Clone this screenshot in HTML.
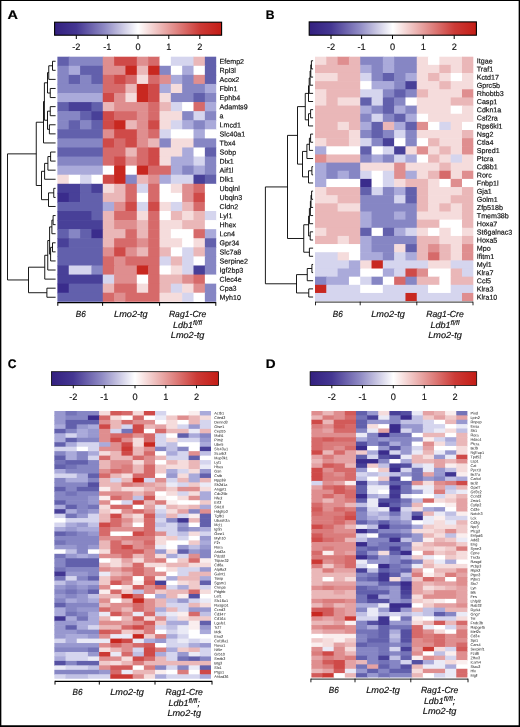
<!DOCTYPE html>
<html lang="en">
<head>
<meta charset="utf-8">
<title>Heatmaps</title>
<style>
html,body{margin:0;padding:0;background:#fff;}
body{width:520px;height:727px;overflow:hidden;font-family:"Liberation Sans",sans-serif;}
svg{display:block;}
</style>
</head>
<body>
<svg width="520" height="727" viewBox="0 0 520 727" font-family='"Liberation Sans", sans-serif' text-rendering="geometricPrecision">
<defs>
<linearGradient id="cb" x1="0" x2="1" y1="0" y2="0">
<stop offset="0" stop-color="#33207f"/>
<stop offset="0.13" stop-color="#443692"/>
<stop offset="0.3" stop-color="#8f8ac4"/>
<stop offset="0.5" stop-color="#ffffff"/>
<stop offset="0.87" stop-color="#cc3a36"/>
<stop offset="1" stop-color="#c41d16"/>
</linearGradient>
</defs>
<rect x="0" y="0" width="520" height="727" fill="#fff"/>
<text transform="translate(7.5 19) scale(1.16 1)" x="0" y="0" font-size="12.4" font-weight="bold" fill="#000" stroke="#000" stroke-width="0.2">A</text>
<rect x="54.6" y="22.2" width="167.0" height="13.000000000000004" fill="url(#cb)" stroke="#000" stroke-width="1.1"/>
<line x1="76.3" y1="35.2" x2="76.3" y2="39.0" stroke="#000" stroke-width="1"/>
<text x="76.3" y="50.0" font-size="9.2" text-anchor="middle" fill="#111" stroke="#111" stroke-width="0.15">-2</text>
<line x1="107.4" y1="35.2" x2="107.4" y2="39.0" stroke="#000" stroke-width="1"/>
<text x="107.4" y="50.0" font-size="9.2" text-anchor="middle" fill="#111" stroke="#111" stroke-width="0.15">-1</text>
<line x1="138" y1="35.2" x2="138" y2="39.0" stroke="#000" stroke-width="1"/>
<text x="138" y="50.0" font-size="9.2" text-anchor="middle" fill="#111" stroke="#111" stroke-width="0.15">0</text>
<line x1="168.8" y1="35.2" x2="168.8" y2="39.0" stroke="#000" stroke-width="1"/>
<text x="168.8" y="50.0" font-size="9.2" text-anchor="middle" fill="#111" stroke="#111" stroke-width="0.15">1</text>
<line x1="199.8" y1="35.2" x2="199.8" y2="39.0" stroke="#000" stroke-width="1"/>
<text x="199.8" y="50.0" font-size="9.2" text-anchor="middle" fill="#111" stroke="#111" stroke-width="0.15">2</text>
<g>
<rect x="57.40" y="56.70" width="11.94" height="9.68" fill="#6260ac"/>
<rect x="68.74" y="56.70" width="34.63" height="9.68" fill="#8686c4"/>
<rect x="102.77" y="56.70" width="11.94" height="9.68" fill="#df8e8f"/>
<rect x="114.11" y="56.70" width="23.29" height="9.68" fill="#cf4a48"/>
<rect x="136.80" y="56.70" width="11.94" height="9.68" fill="#df8e8f"/>
<rect x="148.14" y="56.70" width="11.94" height="9.68" fill="#d66a6a"/>
<rect x="159.49" y="56.70" width="11.94" height="9.68" fill="#ffffff"/>
<rect x="170.83" y="56.70" width="23.29" height="9.68" fill="#d5d5ee"/>
<rect x="193.51" y="56.70" width="11.94" height="9.68" fill="#eab7b8"/>
<rect x="204.86" y="56.70" width="11.34" height="9.68" fill="#6260ac"/>
<rect x="57.40" y="65.78" width="11.94" height="9.68" fill="#8686c4"/>
<rect x="68.74" y="65.78" width="11.94" height="9.68" fill="#aaaada"/>
<rect x="80.09" y="65.78" width="23.29" height="9.68" fill="#6260ac"/>
<rect x="102.77" y="65.78" width="23.29" height="9.68" fill="#df8e8f"/>
<rect x="125.46" y="65.78" width="11.94" height="9.68" fill="#c82820"/>
<rect x="136.80" y="65.78" width="11.94" height="9.68" fill="#eab7b8"/>
<rect x="148.14" y="65.78" width="11.94" height="9.68" fill="#c82820"/>
<rect x="159.49" y="65.78" width="11.94" height="9.68" fill="#8686c4"/>
<rect x="170.83" y="65.78" width="11.94" height="9.68" fill="#ffffff"/>
<rect x="182.17" y="65.78" width="11.94" height="9.68" fill="#aaaada"/>
<rect x="193.51" y="65.78" width="11.94" height="9.68" fill="#ffffff"/>
<rect x="204.86" y="65.78" width="11.34" height="9.68" fill="#6260ac"/>
<rect x="57.40" y="74.86" width="11.94" height="9.68" fill="#8686c4"/>
<rect x="68.74" y="74.86" width="11.94" height="9.68" fill="#6260ac"/>
<rect x="80.09" y="74.86" width="11.94" height="9.68" fill="#8686c4"/>
<rect x="91.43" y="74.86" width="11.94" height="9.68" fill="#6260ac"/>
<rect x="102.77" y="74.86" width="11.94" height="9.68" fill="#d66a6a"/>
<rect x="114.11" y="74.86" width="11.94" height="9.68" fill="#cf4a48"/>
<rect x="125.46" y="74.86" width="11.94" height="9.68" fill="#d66a6a"/>
<rect x="136.80" y="74.86" width="11.94" height="9.68" fill="#f5dcdc"/>
<rect x="148.14" y="74.86" width="11.94" height="9.68" fill="#d66a6a"/>
<rect x="159.49" y="74.86" width="11.94" height="9.68" fill="#df8e8f"/>
<rect x="170.83" y="74.86" width="11.94" height="9.68" fill="#aaaada"/>
<rect x="182.17" y="74.86" width="11.94" height="9.68" fill="#8686c4"/>
<rect x="193.51" y="74.86" width="11.94" height="9.68" fill="#df8e8f"/>
<rect x="204.86" y="74.86" width="11.34" height="9.68" fill="#6260ac"/>
<rect x="57.40" y="83.93" width="45.97" height="9.68" fill="#8686c4"/>
<rect x="102.77" y="83.93" width="23.29" height="9.68" fill="#d66a6a"/>
<rect x="125.46" y="83.93" width="11.94" height="9.68" fill="#eab7b8"/>
<rect x="136.80" y="83.93" width="11.94" height="9.68" fill="#c82820"/>
<rect x="148.14" y="83.93" width="11.94" height="9.68" fill="#cf4a48"/>
<rect x="159.49" y="83.93" width="11.94" height="9.68" fill="#aaaada"/>
<rect x="170.83" y="83.93" width="11.94" height="9.68" fill="#f5dcdc"/>
<rect x="182.17" y="83.93" width="23.29" height="9.68" fill="#8686c4"/>
<rect x="204.86" y="83.93" width="11.34" height="9.68" fill="#aaaada"/>
<rect x="57.40" y="93.01" width="45.97" height="9.68" fill="#aaaada"/>
<rect x="102.77" y="93.01" width="11.94" height="9.68" fill="#cf4a48"/>
<rect x="114.11" y="93.01" width="11.94" height="9.68" fill="#df8e8f"/>
<rect x="125.46" y="93.01" width="11.94" height="9.68" fill="#f5dcdc"/>
<rect x="136.80" y="93.01" width="11.94" height="9.68" fill="#c82820"/>
<rect x="148.14" y="93.01" width="11.94" height="9.68" fill="#cf4a48"/>
<rect x="159.49" y="93.01" width="11.94" height="9.68" fill="#f5dcdc"/>
<rect x="170.83" y="93.01" width="23.29" height="9.68" fill="#8686c4"/>
<rect x="193.51" y="93.01" width="11.94" height="9.68" fill="#6260ac"/>
<rect x="204.86" y="93.01" width="11.34" height="9.68" fill="#8686c4"/>
<rect x="57.40" y="102.09" width="11.94" height="9.68" fill="#6260ac"/>
<rect x="68.74" y="102.09" width="23.29" height="9.68" fill="#484098"/>
<rect x="91.43" y="102.09" width="11.94" height="9.68" fill="#6260ac"/>
<rect x="102.77" y="102.09" width="11.94" height="9.68" fill="#eab7b8"/>
<rect x="114.11" y="102.09" width="34.63" height="9.68" fill="#df8e8f"/>
<rect x="148.14" y="102.09" width="11.94" height="9.68" fill="#d66a6a"/>
<rect x="159.49" y="102.09" width="11.94" height="9.68" fill="#eab7b8"/>
<rect x="170.83" y="102.09" width="11.94" height="9.68" fill="#d5d5ee"/>
<rect x="182.17" y="102.09" width="11.94" height="9.68" fill="#ffffff"/>
<rect x="193.51" y="102.09" width="11.94" height="9.68" fill="#d66a6a"/>
<rect x="204.86" y="102.09" width="11.34" height="9.68" fill="#aaaada"/>
<rect x="57.40" y="111.17" width="23.29" height="9.68" fill="#8686c4"/>
<rect x="80.09" y="111.17" width="11.94" height="9.68" fill="#6260ac"/>
<rect x="91.43" y="111.17" width="11.94" height="9.68" fill="#484098"/>
<rect x="102.77" y="111.17" width="11.94" height="9.68" fill="#cf4a48"/>
<rect x="114.11" y="111.17" width="23.29" height="9.68" fill="#d66a6a"/>
<rect x="136.80" y="111.17" width="11.94" height="9.68" fill="#df8e8f"/>
<rect x="148.14" y="111.17" width="11.94" height="9.68" fill="#d66a6a"/>
<rect x="159.49" y="111.17" width="23.29" height="9.68" fill="#f5dcdc"/>
<rect x="182.17" y="111.17" width="11.94" height="9.68" fill="#8686c4"/>
<rect x="193.51" y="111.17" width="11.94" height="9.68" fill="#d5d5ee"/>
<rect x="204.86" y="111.17" width="11.34" height="9.68" fill="#8686c4"/>
<rect x="57.40" y="120.24" width="11.94" height="9.68" fill="#8686c4"/>
<rect x="68.74" y="120.24" width="11.94" height="9.68" fill="#6260ac"/>
<rect x="80.09" y="120.24" width="11.94" height="9.68" fill="#8686c4"/>
<rect x="91.43" y="120.24" width="11.94" height="9.68" fill="#6260ac"/>
<rect x="102.77" y="120.24" width="11.94" height="9.68" fill="#cf4a48"/>
<rect x="114.11" y="120.24" width="11.94" height="9.68" fill="#c82820"/>
<rect x="125.46" y="120.24" width="11.94" height="9.68" fill="#eab7b8"/>
<rect x="136.80" y="120.24" width="11.94" height="9.68" fill="#df8e8f"/>
<rect x="148.14" y="120.24" width="11.94" height="9.68" fill="#cf4a48"/>
<rect x="159.49" y="120.24" width="11.94" height="9.68" fill="#f5dcdc"/>
<rect x="170.83" y="120.24" width="11.94" height="9.68" fill="#d5d5ee"/>
<rect x="182.17" y="120.24" width="11.94" height="9.68" fill="#aaaada"/>
<rect x="193.51" y="120.24" width="11.94" height="9.68" fill="#8686c4"/>
<rect x="204.86" y="120.24" width="11.34" height="9.68" fill="#aaaada"/>
<rect x="57.40" y="129.32" width="45.97" height="9.68" fill="#6260ac"/>
<rect x="102.77" y="129.32" width="11.94" height="9.68" fill="#df8e8f"/>
<rect x="114.11" y="129.32" width="23.29" height="9.68" fill="#cf4a48"/>
<rect x="136.80" y="129.32" width="11.94" height="9.68" fill="#df8e8f"/>
<rect x="148.14" y="129.32" width="11.94" height="9.68" fill="#d66a6a"/>
<rect x="159.49" y="129.32" width="11.94" height="9.68" fill="#d5d5ee"/>
<rect x="170.83" y="129.32" width="23.29" height="9.68" fill="#ffffff"/>
<rect x="193.51" y="129.32" width="11.94" height="9.68" fill="#aaaada"/>
<rect x="204.86" y="129.32" width="11.34" height="9.68" fill="#ffffff"/>
<rect x="57.40" y="138.40" width="45.97" height="9.68" fill="#8686c4"/>
<rect x="102.77" y="138.40" width="11.94" height="9.68" fill="#cf4a48"/>
<rect x="114.11" y="138.40" width="11.94" height="9.68" fill="#d66a6a"/>
<rect x="125.46" y="138.40" width="11.94" height="9.68" fill="#cf4a48"/>
<rect x="136.80" y="138.40" width="11.94" height="9.68" fill="#df8e8f"/>
<rect x="148.14" y="138.40" width="11.94" height="9.68" fill="#eab7b8"/>
<rect x="159.49" y="138.40" width="11.94" height="9.68" fill="#8686c4"/>
<rect x="170.83" y="138.40" width="23.29" height="9.68" fill="#f5dcdc"/>
<rect x="193.51" y="138.40" width="22.69" height="9.68" fill="#8686c4"/>
<rect x="57.40" y="147.48" width="45.97" height="9.68" fill="#6260ac"/>
<rect x="102.77" y="147.48" width="23.29" height="9.68" fill="#d66a6a"/>
<rect x="125.46" y="147.48" width="11.94" height="9.68" fill="#eab7b8"/>
<rect x="136.80" y="147.48" width="11.94" height="9.68" fill="#d66a6a"/>
<rect x="148.14" y="147.48" width="11.94" height="9.68" fill="#cf4a48"/>
<rect x="159.49" y="147.48" width="23.29" height="9.68" fill="#f5dcdc"/>
<rect x="182.17" y="147.48" width="11.94" height="9.68" fill="#aaaada"/>
<rect x="193.51" y="147.48" width="11.94" height="9.68" fill="#ffffff"/>
<rect x="204.86" y="147.48" width="11.34" height="9.68" fill="#6260ac"/>
<rect x="57.40" y="156.56" width="45.97" height="9.68" fill="#8686c4"/>
<rect x="102.77" y="156.56" width="11.94" height="9.68" fill="#d66a6a"/>
<rect x="114.11" y="156.56" width="11.94" height="9.68" fill="#cf4a48"/>
<rect x="125.46" y="156.56" width="11.94" height="9.68" fill="#df8e8f"/>
<rect x="136.80" y="156.56" width="11.94" height="9.68" fill="#d66a6a"/>
<rect x="148.14" y="156.56" width="11.94" height="9.68" fill="#cf4a48"/>
<rect x="159.49" y="156.56" width="11.94" height="9.68" fill="#f5dcdc"/>
<rect x="170.83" y="156.56" width="23.29" height="9.68" fill="#aaaada"/>
<rect x="193.51" y="156.56" width="11.94" height="9.68" fill="#d5d5ee"/>
<rect x="204.86" y="156.56" width="11.34" height="9.68" fill="#8686c4"/>
<rect x="57.40" y="165.63" width="45.97" height="9.68" fill="#aaaada"/>
<rect x="102.77" y="165.63" width="11.94" height="9.68" fill="#ffffff"/>
<rect x="114.11" y="165.63" width="11.94" height="9.68" fill="#c82820"/>
<rect x="125.46" y="165.63" width="11.94" height="9.68" fill="#ffffff"/>
<rect x="136.80" y="165.63" width="11.94" height="9.68" fill="#c82820"/>
<rect x="148.14" y="165.63" width="23.29" height="9.68" fill="#d66a6a"/>
<rect x="170.83" y="165.63" width="11.94" height="9.68" fill="#aaaada"/>
<rect x="182.17" y="165.63" width="11.94" height="9.68" fill="#8686c4"/>
<rect x="193.51" y="165.63" width="11.94" height="9.68" fill="#aaaada"/>
<rect x="204.86" y="165.63" width="11.34" height="9.68" fill="#8686c4"/>
<rect x="57.40" y="174.71" width="11.94" height="9.68" fill="#f5dcdc"/>
<rect x="68.74" y="174.71" width="11.94" height="9.68" fill="#ffffff"/>
<rect x="80.09" y="174.71" width="11.94" height="9.68" fill="#d5d5ee"/>
<rect x="91.43" y="174.71" width="11.94" height="9.68" fill="#ffffff"/>
<rect x="102.77" y="174.71" width="11.94" height="9.68" fill="#cf4a48"/>
<rect x="114.11" y="174.71" width="11.94" height="9.68" fill="#c82820"/>
<rect x="125.46" y="174.71" width="11.94" height="9.68" fill="#8686c4"/>
<rect x="136.80" y="174.71" width="11.94" height="9.68" fill="#eab7b8"/>
<rect x="148.14" y="174.71" width="11.94" height="9.68" fill="#df8e8f"/>
<rect x="159.49" y="174.71" width="11.94" height="9.68" fill="#aaaada"/>
<rect x="170.83" y="174.71" width="23.29" height="9.68" fill="#d5d5ee"/>
<rect x="193.51" y="174.71" width="11.94" height="9.68" fill="#484098"/>
<rect x="204.86" y="174.71" width="11.34" height="9.68" fill="#6260ac"/>
<rect x="57.40" y="183.79" width="23.29" height="9.68" fill="#484098"/>
<rect x="80.09" y="183.79" width="11.94" height="9.68" fill="#6260ac"/>
<rect x="91.43" y="183.79" width="11.94" height="9.68" fill="#484098"/>
<rect x="102.77" y="183.79" width="11.94" height="9.68" fill="#f5dcdc"/>
<rect x="114.11" y="183.79" width="11.94" height="9.68" fill="#eab7b8"/>
<rect x="125.46" y="183.79" width="11.94" height="9.68" fill="#d66a6a"/>
<rect x="136.80" y="183.79" width="11.94" height="9.68" fill="#d5d5ee"/>
<rect x="148.14" y="183.79" width="11.94" height="9.68" fill="#d66a6a"/>
<rect x="159.49" y="183.79" width="11.94" height="9.68" fill="#ffffff"/>
<rect x="170.83" y="183.79" width="11.94" height="9.68" fill="#f5dcdc"/>
<rect x="182.17" y="183.79" width="11.94" height="9.68" fill="#df8e8f"/>
<rect x="193.51" y="183.79" width="11.94" height="9.68" fill="#d66a6a"/>
<rect x="204.86" y="183.79" width="11.34" height="9.68" fill="#ffffff"/>
<rect x="57.40" y="192.87" width="11.94" height="9.68" fill="#3a2c8c"/>
<rect x="68.74" y="192.87" width="11.94" height="9.68" fill="#484098"/>
<rect x="80.09" y="192.87" width="23.29" height="9.68" fill="#6260ac"/>
<rect x="102.77" y="192.87" width="23.29" height="9.68" fill="#eab7b8"/>
<rect x="125.46" y="192.87" width="11.94" height="9.68" fill="#d66a6a"/>
<rect x="136.80" y="192.87" width="11.94" height="9.68" fill="#ffffff"/>
<rect x="148.14" y="192.87" width="11.94" height="9.68" fill="#d66a6a"/>
<rect x="159.49" y="192.87" width="23.29" height="9.68" fill="#ffffff"/>
<rect x="182.17" y="192.87" width="11.94" height="9.68" fill="#df8e8f"/>
<rect x="193.51" y="192.87" width="11.94" height="9.68" fill="#cf4a48"/>
<rect x="204.86" y="192.87" width="11.34" height="9.68" fill="#ffffff"/>
<rect x="57.40" y="201.94" width="45.97" height="9.68" fill="#6260ac"/>
<rect x="102.77" y="201.94" width="11.94" height="9.68" fill="#aaaada"/>
<rect x="114.11" y="201.94" width="11.94" height="9.68" fill="#df8e8f"/>
<rect x="125.46" y="201.94" width="11.94" height="9.68" fill="#cf4a48"/>
<rect x="136.80" y="201.94" width="11.94" height="9.68" fill="#d5d5ee"/>
<rect x="148.14" y="201.94" width="11.94" height="9.68" fill="#cf4a48"/>
<rect x="159.49" y="201.94" width="11.94" height="9.68" fill="#f5dcdc"/>
<rect x="170.83" y="201.94" width="11.94" height="9.68" fill="#d5d5ee"/>
<rect x="182.17" y="201.94" width="11.94" height="9.68" fill="#eab7b8"/>
<rect x="193.51" y="201.94" width="11.94" height="9.68" fill="#d66a6a"/>
<rect x="204.86" y="201.94" width="11.34" height="9.68" fill="#ffffff"/>
<rect x="57.40" y="211.02" width="34.63" height="9.68" fill="#484098"/>
<rect x="91.43" y="211.02" width="11.94" height="9.68" fill="#6260ac"/>
<rect x="102.77" y="211.02" width="11.94" height="9.68" fill="#eab7b8"/>
<rect x="114.11" y="211.02" width="23.29" height="9.68" fill="#d66a6a"/>
<rect x="136.80" y="211.02" width="11.94" height="9.68" fill="#f5dcdc"/>
<rect x="148.14" y="211.02" width="11.94" height="9.68" fill="#d66a6a"/>
<rect x="159.49" y="211.02" width="11.94" height="9.68" fill="#ffffff"/>
<rect x="170.83" y="211.02" width="11.94" height="9.68" fill="#eab7b8"/>
<rect x="182.17" y="211.02" width="11.94" height="9.68" fill="#f5dcdc"/>
<rect x="193.51" y="211.02" width="11.94" height="9.68" fill="#eab7b8"/>
<rect x="204.86" y="211.02" width="11.34" height="9.68" fill="#d5d5ee"/>
<rect x="57.40" y="220.10" width="45.97" height="9.68" fill="#484098"/>
<rect x="102.77" y="220.10" width="11.94" height="9.68" fill="#eab7b8"/>
<rect x="114.11" y="220.10" width="23.29" height="9.68" fill="#df8e8f"/>
<rect x="136.80" y="220.10" width="11.94" height="9.68" fill="#eab7b8"/>
<rect x="148.14" y="220.10" width="11.94" height="9.68" fill="#d66a6a"/>
<rect x="159.49" y="220.10" width="23.29" height="9.68" fill="#f5dcdc"/>
<rect x="182.17" y="220.10" width="23.29" height="9.68" fill="#eab7b8"/>
<rect x="204.86" y="220.10" width="11.34" height="9.68" fill="#ffffff"/>
<rect x="57.40" y="229.18" width="11.94" height="9.68" fill="#6260ac"/>
<rect x="68.74" y="229.18" width="11.94" height="9.68" fill="#8686c4"/>
<rect x="80.09" y="229.18" width="11.94" height="9.68" fill="#6260ac"/>
<rect x="91.43" y="229.18" width="11.94" height="9.68" fill="#3a2c8c"/>
<rect x="102.77" y="229.18" width="23.29" height="9.68" fill="#eab7b8"/>
<rect x="125.46" y="229.18" width="11.94" height="9.68" fill="#d66a6a"/>
<rect x="136.80" y="229.18" width="11.94" height="9.68" fill="#eab7b8"/>
<rect x="148.14" y="229.18" width="11.94" height="9.68" fill="#d66a6a"/>
<rect x="159.49" y="229.18" width="11.94" height="9.68" fill="#f5dcdc"/>
<rect x="170.83" y="229.18" width="23.29" height="9.68" fill="#ffffff"/>
<rect x="193.51" y="229.18" width="11.94" height="9.68" fill="#d66a6a"/>
<rect x="204.86" y="229.18" width="11.34" height="9.68" fill="#aaaada"/>
<rect x="57.40" y="238.26" width="11.94" height="9.68" fill="#484098"/>
<rect x="68.74" y="238.26" width="34.63" height="9.68" fill="#6260ac"/>
<rect x="102.77" y="238.26" width="11.94" height="9.68" fill="#eab7b8"/>
<rect x="114.11" y="238.26" width="23.29" height="9.68" fill="#d66a6a"/>
<rect x="136.80" y="238.26" width="11.94" height="9.68" fill="#df8e8f"/>
<rect x="148.14" y="238.26" width="11.94" height="9.68" fill="#d66a6a"/>
<rect x="159.49" y="238.26" width="23.29" height="9.68" fill="#f5dcdc"/>
<rect x="182.17" y="238.26" width="11.94" height="9.68" fill="#ffffff"/>
<rect x="193.51" y="238.26" width="11.94" height="9.68" fill="#f5dcdc"/>
<rect x="204.86" y="238.26" width="11.34" height="9.68" fill="#6260ac"/>
<rect x="57.40" y="247.33" width="45.97" height="9.68" fill="#6260ac"/>
<rect x="102.77" y="247.33" width="11.94" height="9.68" fill="#df8e8f"/>
<rect x="114.11" y="247.33" width="11.94" height="9.68" fill="#cf4a48"/>
<rect x="125.46" y="247.33" width="11.94" height="9.68" fill="#df8e8f"/>
<rect x="136.80" y="247.33" width="11.94" height="9.68" fill="#eab7b8"/>
<rect x="148.14" y="247.33" width="11.94" height="9.68" fill="#d66a6a"/>
<rect x="159.49" y="247.33" width="11.94" height="9.68" fill="#eab7b8"/>
<rect x="170.83" y="247.33" width="11.94" height="9.68" fill="#ffffff"/>
<rect x="182.17" y="247.33" width="11.94" height="9.68" fill="#d5d5ee"/>
<rect x="193.51" y="247.33" width="11.94" height="9.68" fill="#eab7b8"/>
<rect x="204.86" y="247.33" width="11.34" height="9.68" fill="#8686c4"/>
<rect x="57.40" y="256.41" width="45.97" height="9.68" fill="#6260ac"/>
<rect x="102.77" y="256.41" width="11.94" height="9.68" fill="#d66a6a"/>
<rect x="114.11" y="256.41" width="11.94" height="9.68" fill="#df8e8f"/>
<rect x="125.46" y="256.41" width="34.63" height="9.68" fill="#d66a6a"/>
<rect x="159.49" y="256.41" width="11.94" height="9.68" fill="#d5d5ee"/>
<rect x="170.83" y="256.41" width="11.94" height="9.68" fill="#eab7b8"/>
<rect x="182.17" y="256.41" width="11.94" height="9.68" fill="#d5d5ee"/>
<rect x="193.51" y="256.41" width="11.94" height="9.68" fill="#ffffff"/>
<rect x="204.86" y="256.41" width="11.34" height="9.68" fill="#8686c4"/>
<rect x="57.40" y="265.49" width="11.94" height="9.68" fill="#484098"/>
<rect x="68.74" y="265.49" width="23.29" height="9.68" fill="#d5d5ee"/>
<rect x="91.43" y="265.49" width="11.94" height="9.68" fill="#8686c4"/>
<rect x="102.77" y="265.49" width="11.94" height="9.68" fill="#d66a6a"/>
<rect x="114.11" y="265.49" width="23.29" height="9.68" fill="#df8e8f"/>
<rect x="136.80" y="265.49" width="11.94" height="9.68" fill="#c82820"/>
<rect x="148.14" y="265.49" width="11.94" height="9.68" fill="#d66a6a"/>
<rect x="159.49" y="265.49" width="11.94" height="9.68" fill="#ffffff"/>
<rect x="170.83" y="265.49" width="11.94" height="9.68" fill="#f5dcdc"/>
<rect x="182.17" y="265.49" width="11.94" height="9.68" fill="#d5d5ee"/>
<rect x="193.51" y="265.49" width="11.94" height="9.68" fill="#484098"/>
<rect x="204.86" y="265.49" width="11.34" height="9.68" fill="#8686c4"/>
<rect x="57.40" y="274.57" width="45.97" height="9.68" fill="#484098"/>
<rect x="102.77" y="274.57" width="11.94" height="9.68" fill="#d5d5ee"/>
<rect x="114.11" y="274.57" width="23.29" height="9.68" fill="#df8e8f"/>
<rect x="136.80" y="274.57" width="11.94" height="9.68" fill="#ffffff"/>
<rect x="148.14" y="274.57" width="11.94" height="9.68" fill="#d66a6a"/>
<rect x="159.49" y="274.57" width="23.29" height="9.68" fill="#eab7b8"/>
<rect x="182.17" y="274.57" width="11.94" height="9.68" fill="#df8e8f"/>
<rect x="193.51" y="274.57" width="11.94" height="9.68" fill="#d66a6a"/>
<rect x="204.86" y="274.57" width="11.34" height="9.68" fill="#ffffff"/>
<rect x="57.40" y="283.64" width="11.94" height="9.68" fill="#3a2c8c"/>
<rect x="68.74" y="283.64" width="34.63" height="9.68" fill="#6260ac"/>
<rect x="102.77" y="283.64" width="11.94" height="9.68" fill="#eab7b8"/>
<rect x="114.11" y="283.64" width="23.29" height="9.68" fill="#d66a6a"/>
<rect x="136.80" y="283.64" width="11.94" height="9.68" fill="#f5dcdc"/>
<rect x="148.14" y="283.64" width="11.94" height="9.68" fill="#d66a6a"/>
<rect x="159.49" y="283.64" width="11.94" height="9.68" fill="#eab7b8"/>
<rect x="170.83" y="283.64" width="11.94" height="9.68" fill="#d5d5ee"/>
<rect x="182.17" y="283.64" width="11.94" height="9.68" fill="#f5dcdc"/>
<rect x="193.51" y="283.64" width="11.94" height="9.68" fill="#df8e8f"/>
<rect x="204.86" y="283.64" width="11.34" height="9.68" fill="#8686c4"/>
<rect x="57.40" y="292.72" width="45.97" height="9.08" fill="#6260ac"/>
<rect x="102.77" y="292.72" width="11.94" height="9.08" fill="#d66a6a"/>
<rect x="114.11" y="292.72" width="11.94" height="9.08" fill="#df8e8f"/>
<rect x="125.46" y="292.72" width="34.63" height="9.08" fill="#d66a6a"/>
<rect x="159.49" y="292.72" width="23.29" height="9.08" fill="#f5dcdc"/>
<rect x="182.17" y="292.72" width="11.94" height="9.08" fill="#d5d5ee"/>
<rect x="193.51" y="292.72" width="11.94" height="9.08" fill="#ffffff"/>
<rect x="204.86" y="292.72" width="11.34" height="9.08" fill="#8686c4"/>
</g>
<g font-size="7.1" fill="#111" stroke="#111" stroke-width="0.18" >
<text transform="translate(219.60 63.79) rotate(0.4)">Efemp2</text>
<text transform="translate(219.60 72.87) rotate(0.4)">Rpl3l</text>
<text transform="translate(219.60 81.95) rotate(0.4)">Acox2</text>
<text transform="translate(219.60 91.03) rotate(0.4)">Fbln1</text>
<text transform="translate(219.60 100.11) rotate(0.4)">Ephb4</text>
<text transform="translate(219.60 109.18) rotate(0.4)">Adamts9</text>
<text transform="translate(219.60 118.26) rotate(0.4)">a</text>
<text transform="translate(219.60 127.34) rotate(0.4)">Lmcd1</text>
<text transform="translate(219.60 136.42) rotate(0.4)">Slc40a1</text>
<text transform="translate(219.60 145.49) rotate(0.4)">Tbx4</text>
<text transform="translate(219.60 154.57) rotate(0.4)">Sobp</text>
<text transform="translate(219.60 163.65) rotate(0.4)">Dlx1</text>
<text transform="translate(219.60 172.73) rotate(0.4)">Aif1l</text>
<text transform="translate(219.60 181.81) rotate(0.4)">Dlk1</text>
<text transform="translate(219.60 190.88) rotate(0.4)">Ubqlnl</text>
<text transform="translate(219.60 199.96) rotate(0.4)">Ubqln3</text>
<text transform="translate(219.60 209.04) rotate(0.4)">Cldn2</text>
<text transform="translate(219.60 218.12) rotate(0.4)">Lyl1</text>
<text transform="translate(219.60 227.19) rotate(0.4)">Hhex</text>
<text transform="translate(219.60 236.27) rotate(0.4)">Lcn4</text>
<text transform="translate(219.60 245.35) rotate(0.4)">Gpr34</text>
<text transform="translate(219.60 254.43) rotate(0.4)">Slc7a8</text>
<text transform="translate(219.60 263.51) rotate(0.4)">Serpine2</text>
<text transform="translate(219.60 272.58) rotate(0.4)">Igf2bp3</text>
<text transform="translate(219.60 281.66) rotate(0.4)">Clec4e</text>
<text transform="translate(219.60 290.74) rotate(0.4)">Cpa3</text>
<text transform="translate(219.60 299.82) rotate(0.4)">Myh10</text>
</g>
<path d="M57.8 302.6H215.8" stroke="#000" stroke-width="1.2" fill="none"/>
<path d="M57.8 302.0V305.8" stroke="#000" stroke-width="1" fill="none"/>
<path d="M102.6 302.0V305.8" stroke="#000" stroke-width="1" fill="none"/>
<path d="M159.6 302.0V305.8" stroke="#000" stroke-width="1" fill="none"/>
<path d="M215.8 302.0V305.8" stroke="#000" stroke-width="1" fill="none"/>
<g font-size="8.8" font-style="italic" fill="#111" stroke="#111" stroke-width="0.18">
<text x="75.80" y="317.2" textLength="10.0" lengthAdjust="spacingAndGlyphs">B6</text>
<text x="114.10" y="317.2" textLength="33.6" lengthAdjust="spacingAndGlyphs">Lmo2-tg</text>
<text x="168.90" y="317.2" textLength="37.4" lengthAdjust="spacingAndGlyphs">Rag1-Cre</text>
<text x="173.10" y="327.8" textLength="29.0" lengthAdjust="spacingAndGlyphs">Ldb1<tspan font-size="6.9" dy="-3.1" stroke-width="0.14">fl/fl</tspan><tspan dy="3.1"></tspan></text>
<text x="170.80" y="338.4" textLength="33.6" lengthAdjust="spacingAndGlyphs">Lmo2-tg</text>
</g>
<path d="M55.60 61.24H52.50V70.32H55.60 M52.50 65.78H48.75V79.39H55.60 M55.60 88.47H50.25V97.55H55.60 M48.75 72.59H47.50V93.01H50.25 M55.60 106.63H50.25V115.71H55.60 M55.60 124.78H49.40V133.86H55.60 M50.25 111.17H47.50V129.32H49.40 M47.50 82.80H44.40V120.24H47.50 M44.40 101.52H43.50V142.94H55.60 M55.60 152.02H50.60V161.09H55.60 M50.60 156.56H47.90V170.17H55.60 M47.90 163.36H44.60V179.25H55.60 M55.60 188.33H53.75V197.41H55.60 M53.75 192.87H48.50V206.48H55.60 M44.60 171.31H41.50V199.68H48.50 M43.50 122.23H36.25V185.49H41.50 M55.60 215.56H53.10V224.64H55.60 M53.10 220.10H51.90V233.72H55.60 M55.60 242.79H52.50V251.87H55.60 M52.50 247.33H50.60V260.95H55.60 M51.90 226.91H49.60V254.14H50.60 M49.60 240.53H47.75V270.03H55.60 M47.75 255.28H44.75V279.11H55.60 M55.60 288.18H46.90V297.26H55.60 M44.75 267.19H28.50V292.72H46.90 M36.25 153.86H7.50V279.96H28.50" stroke="#000" stroke-width="0.9" fill="none" stroke-linejoin="miter"/>
<text transform="translate(265.7 18.6) scale(0.98 1)" x="0" y="0" font-size="12.4" font-weight="bold" fill="#000" stroke="#000" stroke-width="0.2">B</text>
<rect x="309.2" y="21.9" width="167.2" height="13.300000000000004" fill="url(#cb)" stroke="#000" stroke-width="1.1"/>
<line x1="331" y1="35.2" x2="331" y2="39.0" stroke="#000" stroke-width="1"/>
<text x="331" y="50.0" font-size="9.2" text-anchor="middle" fill="#111" stroke="#111" stroke-width="0.15">-2</text>
<line x1="361.6" y1="35.2" x2="361.6" y2="39.0" stroke="#000" stroke-width="1"/>
<text x="361.6" y="50.0" font-size="9.2" text-anchor="middle" fill="#111" stroke="#111" stroke-width="0.15">-1</text>
<line x1="392.5" y1="35.2" x2="392.5" y2="39.0" stroke="#000" stroke-width="1"/>
<text x="392.5" y="50.0" font-size="9.2" text-anchor="middle" fill="#111" stroke="#111" stroke-width="0.15">0</text>
<line x1="423.3" y1="35.2" x2="423.3" y2="39.0" stroke="#000" stroke-width="1"/>
<text x="423.3" y="50.0" font-size="9.2" text-anchor="middle" fill="#111" stroke="#111" stroke-width="0.15">1</text>
<line x1="454.2" y1="35.2" x2="454.2" y2="39.0" stroke="#000" stroke-width="1"/>
<text x="454.2" y="50.0" font-size="9.2" text-anchor="middle" fill="#111" stroke="#111" stroke-width="0.15">2</text>
<g>
<rect x="315.00" y="56.70" width="11.91" height="8.75" fill="#f5dcdc"/>
<rect x="326.31" y="56.70" width="11.91" height="8.75" fill="#eab7b8"/>
<rect x="337.61" y="56.70" width="11.91" height="8.75" fill="#df8e8f"/>
<rect x="348.92" y="56.70" width="11.91" height="8.75" fill="#eab7b8"/>
<rect x="360.23" y="56.70" width="23.21" height="8.75" fill="#8686c4"/>
<rect x="382.84" y="56.70" width="11.91" height="8.75" fill="#aaaada"/>
<rect x="394.15" y="56.70" width="23.21" height="8.75" fill="#8686c4"/>
<rect x="416.76" y="56.70" width="11.91" height="8.75" fill="#f5dcdc"/>
<rect x="428.07" y="56.70" width="11.91" height="8.75" fill="#ffffff"/>
<rect x="439.38" y="56.70" width="23.21" height="8.75" fill="#f5dcdc"/>
<rect x="461.99" y="56.70" width="11.31" height="8.75" fill="#eab7b8"/>
<rect x="315.00" y="64.85" width="45.83" height="8.75" fill="#eab7b8"/>
<rect x="360.23" y="64.85" width="11.91" height="8.75" fill="#aaaada"/>
<rect x="371.54" y="64.85" width="11.91" height="8.75" fill="#8686c4"/>
<rect x="382.84" y="64.85" width="11.91" height="8.75" fill="#aaaada"/>
<rect x="394.15" y="64.85" width="23.21" height="8.75" fill="#8686c4"/>
<rect x="416.76" y="64.85" width="23.21" height="8.75" fill="#f5dcdc"/>
<rect x="439.38" y="64.85" width="11.91" height="8.75" fill="#eab7b8"/>
<rect x="450.69" y="64.85" width="11.91" height="8.75" fill="#f5dcdc"/>
<rect x="461.99" y="64.85" width="11.31" height="8.75" fill="#eab7b8"/>
<rect x="315.00" y="72.99" width="23.21" height="8.75" fill="#f5dcdc"/>
<rect x="337.61" y="72.99" width="23.21" height="8.75" fill="#eab7b8"/>
<rect x="360.23" y="72.99" width="11.91" height="8.75" fill="#d5d5ee"/>
<rect x="371.54" y="72.99" width="11.91" height="8.75" fill="#8686c4"/>
<rect x="382.84" y="72.99" width="11.91" height="8.75" fill="#6260ac"/>
<rect x="394.15" y="72.99" width="11.91" height="8.75" fill="#8686c4"/>
<rect x="405.46" y="72.99" width="11.91" height="8.75" fill="#aaaada"/>
<rect x="416.76" y="72.99" width="11.91" height="8.75" fill="#f5dcdc"/>
<rect x="428.07" y="72.99" width="11.91" height="8.75" fill="#eab7b8"/>
<rect x="439.38" y="72.99" width="11.91" height="8.75" fill="#f5dcdc"/>
<rect x="450.69" y="72.99" width="11.91" height="8.75" fill="#ffffff"/>
<rect x="461.99" y="72.99" width="11.31" height="8.75" fill="#f5dcdc"/>
<rect x="315.00" y="81.14" width="45.83" height="8.75" fill="#eab7b8"/>
<rect x="360.23" y="81.14" width="11.91" height="8.75" fill="#ffffff"/>
<rect x="371.54" y="81.14" width="23.21" height="8.75" fill="#aaaada"/>
<rect x="394.15" y="81.14" width="11.91" height="8.75" fill="#8686c4"/>
<rect x="405.46" y="81.14" width="11.91" height="8.75" fill="#484098"/>
<rect x="416.76" y="81.14" width="23.21" height="8.75" fill="#f5dcdc"/>
<rect x="439.38" y="81.14" width="11.91" height="8.75" fill="#eab7b8"/>
<rect x="450.69" y="81.14" width="22.61" height="8.75" fill="#f5dcdc"/>
<rect x="315.00" y="89.29" width="11.91" height="8.75" fill="#f5dcdc"/>
<rect x="326.31" y="89.29" width="34.52" height="8.75" fill="#eab7b8"/>
<rect x="360.23" y="89.29" width="23.21" height="8.75" fill="#d5d5ee"/>
<rect x="382.84" y="89.29" width="11.91" height="8.75" fill="#8686c4"/>
<rect x="394.15" y="89.29" width="11.91" height="8.75" fill="#6260ac"/>
<rect x="405.46" y="89.29" width="11.91" height="8.75" fill="#8686c4"/>
<rect x="416.76" y="89.29" width="11.91" height="8.75" fill="#eab7b8"/>
<rect x="428.07" y="89.29" width="34.52" height="8.75" fill="#f5dcdc"/>
<rect x="461.99" y="89.29" width="11.31" height="8.75" fill="#df8e8f"/>
<rect x="315.00" y="97.43" width="11.91" height="8.75" fill="#f5dcdc"/>
<rect x="326.31" y="97.43" width="11.91" height="8.75" fill="#eab7b8"/>
<rect x="337.61" y="97.43" width="23.21" height="8.75" fill="#f5dcdc"/>
<rect x="360.23" y="97.43" width="11.91" height="8.75" fill="#6260ac"/>
<rect x="371.54" y="97.43" width="11.91" height="8.75" fill="#d5d5ee"/>
<rect x="382.84" y="97.43" width="11.91" height="8.75" fill="#6260ac"/>
<rect x="394.15" y="97.43" width="11.91" height="8.75" fill="#8686c4"/>
<rect x="405.46" y="97.43" width="11.91" height="8.75" fill="#ffffff"/>
<rect x="416.76" y="97.43" width="34.52" height="8.75" fill="#f5dcdc"/>
<rect x="450.69" y="97.43" width="22.61" height="8.75" fill="#eab7b8"/>
<rect x="315.00" y="105.58" width="45.83" height="8.75" fill="#eab7b8"/>
<rect x="360.23" y="105.58" width="11.91" height="8.75" fill="#aaaada"/>
<rect x="371.54" y="105.58" width="11.91" height="8.75" fill="#8686c4"/>
<rect x="382.84" y="105.58" width="11.91" height="8.75" fill="#6260ac"/>
<rect x="394.15" y="105.58" width="11.91" height="8.75" fill="#aaaada"/>
<rect x="405.46" y="105.58" width="11.91" height="8.75" fill="#8686c4"/>
<rect x="416.76" y="105.58" width="34.52" height="8.75" fill="#f5dcdc"/>
<rect x="450.69" y="105.58" width="11.91" height="8.75" fill="#ffffff"/>
<rect x="461.99" y="105.58" width="11.31" height="8.75" fill="#f5dcdc"/>
<rect x="315.00" y="113.73" width="45.83" height="8.75" fill="#eab7b8"/>
<rect x="360.23" y="113.73" width="11.91" height="8.75" fill="#8686c4"/>
<rect x="371.54" y="113.73" width="11.91" height="8.75" fill="#d5d5ee"/>
<rect x="382.84" y="113.73" width="11.91" height="8.75" fill="#8686c4"/>
<rect x="394.15" y="113.73" width="11.91" height="8.75" fill="#6260ac"/>
<rect x="405.46" y="113.73" width="11.91" height="8.75" fill="#aaaada"/>
<rect x="416.76" y="113.73" width="11.91" height="8.75" fill="#ffffff"/>
<rect x="428.07" y="113.73" width="45.23" height="8.75" fill="#f5dcdc"/>
<rect x="315.00" y="121.87" width="23.21" height="8.75" fill="#eab7b8"/>
<rect x="337.61" y="121.87" width="11.91" height="8.75" fill="#f5dcdc"/>
<rect x="348.92" y="121.87" width="11.91" height="8.75" fill="#eab7b8"/>
<rect x="360.23" y="121.87" width="11.91" height="8.75" fill="#aaaada"/>
<rect x="371.54" y="121.87" width="11.91" height="8.75" fill="#6260ac"/>
<rect x="382.84" y="121.87" width="11.91" height="8.75" fill="#eab7b8"/>
<rect x="394.15" y="121.87" width="11.91" height="8.75" fill="#aaaada"/>
<rect x="405.46" y="121.87" width="11.91" height="8.75" fill="#6260ac"/>
<rect x="416.76" y="121.87" width="11.91" height="8.75" fill="#df8e8f"/>
<rect x="428.07" y="121.87" width="11.91" height="8.75" fill="#ffffff"/>
<rect x="439.38" y="121.87" width="11.91" height="8.75" fill="#d5d5ee"/>
<rect x="450.69" y="121.87" width="11.91" height="8.75" fill="#f5dcdc"/>
<rect x="461.99" y="121.87" width="11.31" height="8.75" fill="#ffffff"/>
<rect x="315.00" y="130.02" width="34.52" height="8.75" fill="#eab7b8"/>
<rect x="348.92" y="130.02" width="11.91" height="8.75" fill="#f5dcdc"/>
<rect x="360.23" y="130.02" width="11.91" height="8.75" fill="#8686c4"/>
<rect x="371.54" y="130.02" width="11.91" height="8.75" fill="#6260ac"/>
<rect x="382.84" y="130.02" width="11.91" height="8.75" fill="#8686c4"/>
<rect x="394.15" y="130.02" width="11.91" height="8.75" fill="#d5d5ee"/>
<rect x="405.46" y="130.02" width="11.91" height="8.75" fill="#8686c4"/>
<rect x="416.76" y="130.02" width="45.83" height="8.75" fill="#f5dcdc"/>
<rect x="461.99" y="130.02" width="11.31" height="8.75" fill="#eab7b8"/>
<rect x="315.00" y="138.17" width="11.91" height="8.75" fill="#f5dcdc"/>
<rect x="326.31" y="138.17" width="23.21" height="8.75" fill="#eab7b8"/>
<rect x="348.92" y="138.17" width="11.91" height="8.75" fill="#f5dcdc"/>
<rect x="360.23" y="138.17" width="11.91" height="8.75" fill="#d5d5ee"/>
<rect x="371.54" y="138.17" width="11.91" height="8.75" fill="#8686c4"/>
<rect x="382.84" y="138.17" width="11.91" height="8.75" fill="#484098"/>
<rect x="394.15" y="138.17" width="11.91" height="8.75" fill="#ffffff"/>
<rect x="405.46" y="138.17" width="11.91" height="8.75" fill="#8686c4"/>
<rect x="416.76" y="138.17" width="11.91" height="8.75" fill="#ffffff"/>
<rect x="428.07" y="138.17" width="11.91" height="8.75" fill="#eab7b8"/>
<rect x="439.38" y="138.17" width="23.21" height="8.75" fill="#f5dcdc"/>
<rect x="461.99" y="138.17" width="11.31" height="8.75" fill="#df8e8f"/>
<rect x="315.00" y="146.31" width="11.91" height="8.75" fill="#aaaada"/>
<rect x="326.31" y="146.31" width="34.52" height="8.75" fill="#ffffff"/>
<rect x="360.23" y="146.31" width="11.91" height="8.75" fill="#6260ac"/>
<rect x="371.54" y="146.31" width="11.91" height="8.75" fill="#ffffff"/>
<rect x="382.84" y="146.31" width="11.91" height="8.75" fill="#d5d5ee"/>
<rect x="394.15" y="146.31" width="11.91" height="8.75" fill="#484098"/>
<rect x="405.46" y="146.31" width="11.91" height="8.75" fill="#f5dcdc"/>
<rect x="416.76" y="146.31" width="11.91" height="8.75" fill="#df8e8f"/>
<rect x="428.07" y="146.31" width="11.91" height="8.75" fill="#f5dcdc"/>
<rect x="439.38" y="146.31" width="11.91" height="8.75" fill="#eab7b8"/>
<rect x="450.69" y="146.31" width="11.91" height="8.75" fill="#f5dcdc"/>
<rect x="461.99" y="146.31" width="11.31" height="8.75" fill="#df8e8f"/>
<rect x="315.00" y="154.46" width="11.91" height="8.75" fill="#df8e8f"/>
<rect x="326.31" y="154.46" width="34.52" height="8.75" fill="#eab7b8"/>
<rect x="360.23" y="154.46" width="11.91" height="8.75" fill="#8686c4"/>
<rect x="371.54" y="154.46" width="11.91" height="8.75" fill="#aaaada"/>
<rect x="382.84" y="154.46" width="11.91" height="8.75" fill="#8686c4"/>
<rect x="394.15" y="154.46" width="11.91" height="8.75" fill="#d5d5ee"/>
<rect x="405.46" y="154.46" width="11.91" height="8.75" fill="#aaaada"/>
<rect x="416.76" y="154.46" width="11.91" height="8.75" fill="#ffffff"/>
<rect x="428.07" y="154.46" width="11.91" height="8.75" fill="#eab7b8"/>
<rect x="439.38" y="154.46" width="11.91" height="8.75" fill="#f5dcdc"/>
<rect x="450.69" y="154.46" width="11.91" height="8.75" fill="#d5d5ee"/>
<rect x="461.99" y="154.46" width="11.31" height="8.75" fill="#f5dcdc"/>
<rect x="315.00" y="162.61" width="11.91" height="8.75" fill="#aaaada"/>
<rect x="326.31" y="162.61" width="34.52" height="8.75" fill="#8686c4"/>
<rect x="360.23" y="162.61" width="34.52" height="8.75" fill="#f5dcdc"/>
<rect x="394.15" y="162.61" width="11.91" height="8.75" fill="#df8e8f"/>
<rect x="405.46" y="162.61" width="34.52" height="8.75" fill="#f5dcdc"/>
<rect x="439.38" y="162.61" width="11.91" height="8.75" fill="#eab7b8"/>
<rect x="450.69" y="162.61" width="22.61" height="8.75" fill="#f5dcdc"/>
<rect x="315.00" y="170.75" width="11.91" height="8.75" fill="#aaaada"/>
<rect x="326.31" y="170.75" width="11.91" height="8.75" fill="#8686c4"/>
<rect x="337.61" y="170.75" width="11.91" height="8.75" fill="#aaaada"/>
<rect x="348.92" y="170.75" width="11.91" height="8.75" fill="#8686c4"/>
<rect x="360.23" y="170.75" width="11.91" height="8.75" fill="#d5d5ee"/>
<rect x="371.54" y="170.75" width="11.91" height="8.75" fill="#ffffff"/>
<rect x="382.84" y="170.75" width="11.91" height="8.75" fill="#d5d5ee"/>
<rect x="394.15" y="170.75" width="11.91" height="8.75" fill="#df8e8f"/>
<rect x="405.46" y="170.75" width="11.91" height="8.75" fill="#aaaada"/>
<rect x="416.76" y="170.75" width="11.91" height="8.75" fill="#f5dcdc"/>
<rect x="428.07" y="170.75" width="11.91" height="8.75" fill="#eab7b8"/>
<rect x="439.38" y="170.75" width="11.91" height="8.75" fill="#d66a6a"/>
<rect x="450.69" y="170.75" width="11.91" height="8.75" fill="#f5dcdc"/>
<rect x="461.99" y="170.75" width="11.31" height="8.75" fill="#df8e8f"/>
<rect x="315.00" y="178.90" width="11.91" height="8.75" fill="#aaaada"/>
<rect x="326.31" y="178.90" width="34.52" height="8.75" fill="#ffffff"/>
<rect x="360.23" y="178.90" width="11.91" height="8.75" fill="#3a2c8c"/>
<rect x="371.54" y="178.90" width="11.91" height="8.75" fill="#ffffff"/>
<rect x="382.84" y="178.90" width="11.91" height="8.75" fill="#d5d5ee"/>
<rect x="394.15" y="178.90" width="11.91" height="8.75" fill="#f5dcdc"/>
<rect x="405.46" y="178.90" width="23.21" height="8.75" fill="#eab7b8"/>
<rect x="428.07" y="178.90" width="11.91" height="8.75" fill="#f5dcdc"/>
<rect x="439.38" y="178.90" width="11.91" height="8.75" fill="#ffffff"/>
<rect x="450.69" y="178.90" width="11.91" height="8.75" fill="#df8e8f"/>
<rect x="461.99" y="178.90" width="11.31" height="8.75" fill="#ffffff"/>
<rect x="315.00" y="187.05" width="11.91" height="8.75" fill="#f5dcdc"/>
<rect x="326.31" y="187.05" width="34.52" height="8.75" fill="#eab7b8"/>
<rect x="360.23" y="187.05" width="11.91" height="8.75" fill="#6260ac"/>
<rect x="371.54" y="187.05" width="11.91" height="8.75" fill="#d5d5ee"/>
<rect x="382.84" y="187.05" width="11.91" height="8.75" fill="#8686c4"/>
<rect x="394.15" y="187.05" width="11.91" height="8.75" fill="#aaaada"/>
<rect x="405.46" y="187.05" width="11.91" height="8.75" fill="#6260ac"/>
<rect x="416.76" y="187.05" width="11.91" height="8.75" fill="#eab7b8"/>
<rect x="428.07" y="187.05" width="34.52" height="8.75" fill="#f5dcdc"/>
<rect x="461.99" y="187.05" width="11.31" height="8.75" fill="#eab7b8"/>
<rect x="315.00" y="195.19" width="23.21" height="8.75" fill="#f5dcdc"/>
<rect x="337.61" y="195.19" width="23.21" height="8.75" fill="#eab7b8"/>
<rect x="360.23" y="195.19" width="34.52" height="8.75" fill="#8686c4"/>
<rect x="394.15" y="195.19" width="11.91" height="8.75" fill="#d5d5ee"/>
<rect x="405.46" y="195.19" width="11.91" height="8.75" fill="#6260ac"/>
<rect x="416.76" y="195.19" width="11.91" height="8.75" fill="#eab7b8"/>
<rect x="428.07" y="195.19" width="23.21" height="8.75" fill="#f5dcdc"/>
<rect x="450.69" y="195.19" width="22.61" height="8.75" fill="#eab7b8"/>
<rect x="315.00" y="203.34" width="23.21" height="8.75" fill="#eab7b8"/>
<rect x="337.61" y="203.34" width="23.21" height="8.75" fill="#f5dcdc"/>
<rect x="360.23" y="203.34" width="57.14" height="8.75" fill="#8686c4"/>
<rect x="416.76" y="203.34" width="11.91" height="8.75" fill="#eab7b8"/>
<rect x="428.07" y="203.34" width="11.91" height="8.75" fill="#f5dcdc"/>
<rect x="439.38" y="203.34" width="11.91" height="8.75" fill="#eab7b8"/>
<rect x="450.69" y="203.34" width="11.91" height="8.75" fill="#f5dcdc"/>
<rect x="461.99" y="203.34" width="11.31" height="8.75" fill="#eab7b8"/>
<rect x="315.00" y="211.49" width="45.83" height="8.75" fill="#eab7b8"/>
<rect x="360.23" y="211.49" width="11.91" height="8.75" fill="#aaaada"/>
<rect x="371.54" y="211.49" width="23.21" height="8.75" fill="#8686c4"/>
<rect x="394.15" y="211.49" width="11.91" height="8.75" fill="#aaaada"/>
<rect x="405.46" y="211.49" width="11.91" height="8.75" fill="#8686c4"/>
<rect x="416.76" y="211.49" width="45.83" height="8.75" fill="#f5dcdc"/>
<rect x="461.99" y="211.49" width="11.31" height="8.75" fill="#eab7b8"/>
<rect x="315.00" y="219.63" width="45.83" height="8.75" fill="#eab7b8"/>
<rect x="360.23" y="219.63" width="11.91" height="8.75" fill="#aaaada"/>
<rect x="371.54" y="219.63" width="45.83" height="8.75" fill="#8686c4"/>
<rect x="416.76" y="219.63" width="23.21" height="8.75" fill="#eab7b8"/>
<rect x="439.38" y="219.63" width="23.21" height="8.75" fill="#ffffff"/>
<rect x="461.99" y="219.63" width="11.31" height="8.75" fill="#eab7b8"/>
<rect x="315.00" y="227.78" width="11.91" height="8.75" fill="#f5dcdc"/>
<rect x="326.31" y="227.78" width="34.52" height="8.75" fill="#eab7b8"/>
<rect x="360.23" y="227.78" width="11.91" height="8.75" fill="#6260ac"/>
<rect x="371.54" y="227.78" width="11.91" height="8.75" fill="#ffffff"/>
<rect x="382.84" y="227.78" width="11.91" height="8.75" fill="#6260ac"/>
<rect x="394.15" y="227.78" width="11.91" height="8.75" fill="#aaaada"/>
<rect x="405.46" y="227.78" width="11.91" height="8.75" fill="#d5d5ee"/>
<rect x="416.76" y="227.78" width="11.91" height="8.75" fill="#f5dcdc"/>
<rect x="428.07" y="227.78" width="11.91" height="8.75" fill="#ffffff"/>
<rect x="439.38" y="227.78" width="11.91" height="8.75" fill="#f5dcdc"/>
<rect x="450.69" y="227.78" width="11.91" height="8.75" fill="#ffffff"/>
<rect x="461.99" y="227.78" width="11.31" height="8.75" fill="#f5dcdc"/>
<rect x="315.00" y="235.93" width="23.21" height="8.75" fill="#eab7b8"/>
<rect x="337.61" y="235.93" width="11.91" height="8.75" fill="#f5dcdc"/>
<rect x="348.92" y="235.93" width="11.91" height="8.75" fill="#eab7b8"/>
<rect x="360.23" y="235.93" width="11.91" height="8.75" fill="#aaaada"/>
<rect x="371.54" y="235.93" width="45.83" height="8.75" fill="#8686c4"/>
<rect x="416.76" y="235.93" width="23.21" height="8.75" fill="#eab7b8"/>
<rect x="439.38" y="235.93" width="23.21" height="8.75" fill="#f5dcdc"/>
<rect x="461.99" y="235.93" width="11.31" height="8.75" fill="#eab7b8"/>
<rect x="315.00" y="244.07" width="45.83" height="8.75" fill="#ffffff"/>
<rect x="360.23" y="244.07" width="11.91" height="8.75" fill="#aaaada"/>
<rect x="371.54" y="244.07" width="23.21" height="8.75" fill="#8686c4"/>
<rect x="394.15" y="244.07" width="11.91" height="8.75" fill="#f5dcdc"/>
<rect x="405.46" y="244.07" width="11.91" height="8.75" fill="#6260ac"/>
<rect x="416.76" y="244.07" width="11.91" height="8.75" fill="#eab7b8"/>
<rect x="428.07" y="244.07" width="11.91" height="8.75" fill="#df8e8f"/>
<rect x="439.38" y="244.07" width="11.91" height="8.75" fill="#eab7b8"/>
<rect x="450.69" y="244.07" width="11.91" height="8.75" fill="#f5dcdc"/>
<rect x="461.99" y="244.07" width="11.31" height="8.75" fill="#df8e8f"/>
<rect x="315.00" y="252.22" width="23.21" height="8.75" fill="#d5d5ee"/>
<rect x="337.61" y="252.22" width="11.91" height="8.75" fill="#f5dcdc"/>
<rect x="348.92" y="252.22" width="11.91" height="8.75" fill="#ffffff"/>
<rect x="360.23" y="252.22" width="23.21" height="8.75" fill="#aaaada"/>
<rect x="382.84" y="252.22" width="11.91" height="8.75" fill="#8686c4"/>
<rect x="394.15" y="252.22" width="11.91" height="8.75" fill="#d5d5ee"/>
<rect x="405.46" y="252.22" width="11.91" height="8.75" fill="#aaaada"/>
<rect x="416.76" y="252.22" width="11.91" height="8.75" fill="#eab7b8"/>
<rect x="428.07" y="252.22" width="11.91" height="8.75" fill="#d66a6a"/>
<rect x="439.38" y="252.22" width="11.91" height="8.75" fill="#eab7b8"/>
<rect x="450.69" y="252.22" width="11.91" height="8.75" fill="#f5dcdc"/>
<rect x="461.99" y="252.22" width="11.31" height="8.75" fill="#df8e8f"/>
<rect x="315.00" y="260.37" width="34.52" height="8.75" fill="#d5d5ee"/>
<rect x="348.92" y="260.37" width="11.91" height="8.75" fill="#aaaada"/>
<rect x="360.23" y="260.37" width="11.91" height="8.75" fill="#f5dcdc"/>
<rect x="371.54" y="260.37" width="11.91" height="8.75" fill="#c82820"/>
<rect x="382.84" y="260.37" width="45.83" height="8.75" fill="#d5d5ee"/>
<rect x="428.07" y="260.37" width="23.21" height="8.75" fill="#f5dcdc"/>
<rect x="450.69" y="260.37" width="22.61" height="8.75" fill="#d5d5ee"/>
<rect x="315.00" y="268.51" width="23.21" height="8.75" fill="#d5d5ee"/>
<rect x="337.61" y="268.51" width="23.21" height="8.75" fill="#aaaada"/>
<rect x="360.23" y="268.51" width="23.21" height="8.75" fill="#ffffff"/>
<rect x="382.84" y="268.51" width="11.91" height="8.75" fill="#aaaada"/>
<rect x="394.15" y="268.51" width="11.91" height="8.75" fill="#d5d5ee"/>
<rect x="405.46" y="268.51" width="11.91" height="8.75" fill="#cf4a48"/>
<rect x="416.76" y="268.51" width="11.91" height="8.75" fill="#df8e8f"/>
<rect x="428.07" y="268.51" width="23.21" height="8.75" fill="#ffffff"/>
<rect x="450.69" y="268.51" width="11.91" height="8.75" fill="#eab7b8"/>
<rect x="461.99" y="268.51" width="11.31" height="8.75" fill="#d5d5ee"/>
<rect x="315.00" y="276.66" width="11.91" height="8.75" fill="#8686c4"/>
<rect x="326.31" y="276.66" width="23.21" height="8.75" fill="#aaaada"/>
<rect x="348.92" y="276.66" width="11.91" height="8.75" fill="#ffffff"/>
<rect x="360.23" y="276.66" width="11.91" height="8.75" fill="#d5d5ee"/>
<rect x="371.54" y="276.66" width="11.91" height="8.75" fill="#8686c4"/>
<rect x="382.84" y="276.66" width="11.91" height="8.75" fill="#ffffff"/>
<rect x="394.15" y="276.66" width="11.91" height="8.75" fill="#d66a6a"/>
<rect x="405.46" y="276.66" width="11.91" height="8.75" fill="#8686c4"/>
<rect x="416.76" y="276.66" width="23.21" height="8.75" fill="#eab7b8"/>
<rect x="439.38" y="276.66" width="11.91" height="8.75" fill="#ffffff"/>
<rect x="450.69" y="276.66" width="22.61" height="8.75" fill="#eab7b8"/>
<rect x="315.00" y="284.81" width="11.91" height="8.75" fill="#c82820"/>
<rect x="326.31" y="284.81" width="34.52" height="8.75" fill="#d5d5ee"/>
<rect x="360.23" y="284.81" width="23.21" height="8.75" fill="#ffffff"/>
<rect x="382.84" y="284.81" width="45.83" height="8.75" fill="#d5d5ee"/>
<rect x="428.07" y="284.81" width="23.21" height="8.75" fill="#ffffff"/>
<rect x="450.69" y="284.81" width="22.61" height="8.75" fill="#d5d5ee"/>
<rect x="315.00" y="292.95" width="91.06" height="8.15" fill="#d5d5ee"/>
<rect x="405.46" y="292.95" width="11.91" height="8.15" fill="#c82820"/>
<rect x="416.76" y="292.95" width="45.83" height="8.15" fill="#d5d5ee"/>
<rect x="461.99" y="292.95" width="11.31" height="8.15" fill="#df8e8f"/>
</g>
<g font-size="7.1" fill="#111" stroke="#111" stroke-width="0.18" >
<text transform="translate(476.80 63.33) rotate(0.4)">Itgae</text>
<text transform="translate(476.80 71.48) rotate(0.4)">Traf1</text>
<text transform="translate(476.80 79.62) rotate(0.4)">Kctd17</text>
<text transform="translate(476.80 87.77) rotate(0.4)">Gprc5b</text>
<text transform="translate(476.80 95.92) rotate(0.4)">Rhobtb3</text>
<text transform="translate(476.80 104.06) rotate(0.4)">Casp1</text>
<text transform="translate(476.80 112.21) rotate(0.4)">Cdkn1a</text>
<text transform="translate(476.80 120.36) rotate(0.4)">Csf2ra</text>
<text transform="translate(476.80 128.50) rotate(0.4)">Rps6kl1</text>
<text transform="translate(476.80 136.65) rotate(0.4)">Nsg2</text>
<text transform="translate(476.80 144.80) rotate(0.4)">Ctla4</text>
<text transform="translate(476.80 152.94) rotate(0.4)">Spred1</text>
<text transform="translate(476.80 161.09) rotate(0.4)">Ptcra</text>
<text transform="translate(476.80 169.24) rotate(0.4)">Cd8b1</text>
<text transform="translate(476.80 177.38) rotate(0.4)">Rorc</text>
<text transform="translate(476.80 185.53) rotate(0.4)">Fnbp1l</text>
<text transform="translate(476.80 193.68) rotate(0.4)">Gja1</text>
<text transform="translate(476.80 201.82) rotate(0.4)">Golm1</text>
<text transform="translate(476.80 209.97) rotate(0.4)">Zfp518b</text>
<text transform="translate(476.80 218.12) rotate(0.4)">Tmem38b</text>
<text transform="translate(476.80 226.26) rotate(0.4)">Hoxa7</text>
<text transform="translate(476.80 234.41) rotate(0.4)">St6galnac3</text>
<text transform="translate(476.80 242.56) rotate(0.4)">Hoxa5</text>
<text transform="translate(476.80 250.70) rotate(0.4)">Mpo</text>
<text transform="translate(476.80 258.85) rotate(0.4)">Ifitm1</text>
<text transform="translate(476.80 267.00) rotate(0.4)">Myl1</text>
<text transform="translate(476.80 275.14) rotate(0.4)">Klra7</text>
<text transform="translate(476.80 283.29) rotate(0.4)">Ccl5</text>
<text transform="translate(476.80 291.44) rotate(0.4)">Klra3</text>
<text transform="translate(476.80 299.58) rotate(0.4)">Klra10</text>
</g>
<path d="M315.5 302.1H473.0" stroke="#000" stroke-width="0.85" fill="none"/>
<path d="M315.5 301.675V305.3" stroke="#000" stroke-width="0.85" fill="none"/>
<path d="M360.2 301.675V305.3" stroke="#000" stroke-width="0.85" fill="none"/>
<path d="M416.8 301.675V305.3" stroke="#000" stroke-width="0.85" fill="none"/>
<path d="M473.0 301.675V305.3" stroke="#000" stroke-width="0.85" fill="none"/>
<g font-size="8.8" font-style="italic" fill="#111" stroke="#111" stroke-width="0.18">
<text x="332.80" y="317.2" textLength="10.0" lengthAdjust="spacingAndGlyphs">B6</text>
<text x="371.20" y="317.2" textLength="33.6" lengthAdjust="spacingAndGlyphs">Lmo2-tg</text>
<text x="426.30" y="317.2" textLength="37.4" lengthAdjust="spacingAndGlyphs">Rag1-Cre</text>
<text x="430.50" y="327.8" textLength="29.0" lengthAdjust="spacingAndGlyphs">Ldb1<tspan font-size="6.9" dy="-3.1" stroke-width="0.14">fl/fl</tspan><tspan dy="3.1"></tspan></text>
<text x="428.20" y="338.4" textLength="33.6" lengthAdjust="spacingAndGlyphs">Lmo2-tg</text>
</g>
<path d="M313.10 60.77H311.40V68.92H313.10 M311.40 64.85H310.80V77.07H313.10 M310.80 70.96H310.10V85.21H313.10 M310.10 78.09H309.20V93.36H313.10 M309.20 85.72H308.50V101.51H313.10 M313.10 109.65H310.60V117.80H313.10 M310.60 113.73H308.50V125.95H313.10 M308.50 93.40H305.25V119.84H308.50 M313.10 134.09H310.60V142.24H313.10 M310.60 138.17H309.40V150.39H313.10 M309.40 144.28H306.90V158.53H313.10 M313.10 166.68H311.90V174.83H313.10 M311.90 170.75H308.50V182.97H313.10 M306.90 151.41H302.50V176.86H308.50 M305.25 106.62H297.50V164.13H302.50 M313.10 191.12H311.60V199.27H313.10 M311.60 195.19H311.00V207.41H313.10 M311.00 201.30H310.40V215.56H313.10 M310.40 208.43H309.40V223.71H313.10 M313.10 231.85H310.20V240.00H313.10 M309.40 216.07H308.60V235.93H310.20 M313.10 248.15H309.40V256.29H313.10 M308.60 224.75H303.75V252.22H309.40 M297.50 135.38H287.50V238.49H303.75 M313.10 264.44H311.90V272.59H313.10 M311.90 268.51H307.25V280.73H313.10 M313.10 288.88H308.75V297.03H313.10 M307.25 274.62H296.50V292.95H308.75 M287.50 186.93H265.40V283.79H296.50" stroke="#000" stroke-width="0.9" fill="none" stroke-linejoin="miter"/>
<text transform="translate(7.7 368.3) scale(0.98 1)" x="0" y="0" font-size="12.4" font-weight="bold" fill="#000" stroke="#000" stroke-width="0.2">C</text>
<rect x="51.4" y="371.7" width="167.2" height="13.699999999999989" fill="url(#cb)" stroke="#000" stroke-width="0.75"/>
<line x1="73.3" y1="385.4" x2="73.3" y2="388.29999999999995" stroke="#000" stroke-width="0.95"/>
<text x="73.3" y="399.7" font-size="9.2" text-anchor="middle" fill="#111" stroke="#111" stroke-width="0.15">-2</text>
<line x1="104.3" y1="385.4" x2="104.3" y2="388.29999999999995" stroke="#000" stroke-width="0.95"/>
<text x="104.3" y="399.7" font-size="9.2" text-anchor="middle" fill="#111" stroke="#111" stroke-width="0.15">-1</text>
<line x1="135" y1="385.4" x2="135" y2="388.29999999999995" stroke="#000" stroke-width="0.95"/>
<text x="135" y="399.7" font-size="9.2" text-anchor="middle" fill="#111" stroke="#111" stroke-width="0.15">0</text>
<line x1="165.8" y1="385.4" x2="165.8" y2="388.29999999999995" stroke="#000" stroke-width="0.95"/>
<text x="165.8" y="399.7" font-size="9.2" text-anchor="middle" fill="#111" stroke="#111" stroke-width="0.15">1</text>
<line x1="196.5" y1="385.4" x2="196.5" y2="388.29999999999995" stroke="#000" stroke-width="0.95"/>
<text x="196.5" y="399.7" font-size="9.2" text-anchor="middle" fill="#111" stroke="#111" stroke-width="0.15">2</text>
<g>
<rect x="54.35" y="411.00" width="11.79" height="5.06" fill="#9898cf"/>
<rect x="65.54" y="411.00" width="11.79" height="5.06" fill="#7473b8"/>
<rect x="76.73" y="411.00" width="22.98" height="5.06" fill="#8686c4"/>
<rect x="99.11" y="411.00" width="11.79" height="5.06" fill="#f5dcdc"/>
<rect x="110.30" y="411.00" width="11.79" height="5.06" fill="#d25a59"/>
<rect x="121.49" y="411.00" width="11.79" height="5.06" fill="#d66a6a"/>
<rect x="132.68" y="411.00" width="11.79" height="5.06" fill="#f5dcdc"/>
<rect x="143.86" y="411.00" width="11.79" height="5.06" fill="#cf4a48"/>
<rect x="155.05" y="411.00" width="11.79" height="5.06" fill="#d5d5ee"/>
<rect x="166.24" y="411.00" width="22.98" height="5.06" fill="#ffffff"/>
<rect x="188.62" y="411.00" width="11.79" height="5.06" fill="#faeeee"/>
<rect x="199.81" y="411.00" width="11.19" height="5.06" fill="#aaaada"/>
<rect x="54.35" y="415.46" width="11.79" height="5.06" fill="#9898cf"/>
<rect x="65.54" y="415.46" width="22.98" height="5.06" fill="#8686c4"/>
<rect x="87.92" y="415.46" width="11.79" height="5.06" fill="#3a2c8c"/>
<rect x="99.11" y="415.46" width="11.79" height="5.06" fill="#d66a6a"/>
<rect x="110.30" y="415.46" width="11.79" height="5.06" fill="#f5dcdc"/>
<rect x="121.49" y="415.46" width="11.79" height="5.06" fill="#ffffff"/>
<rect x="132.68" y="415.46" width="11.79" height="5.06" fill="#d66a6a"/>
<rect x="143.86" y="415.46" width="11.79" height="5.06" fill="#ffffff"/>
<rect x="155.05" y="415.46" width="11.79" height="5.06" fill="#eaeaf6"/>
<rect x="166.24" y="415.46" width="11.79" height="5.06" fill="#f0caca"/>
<rect x="177.43" y="415.46" width="11.79" height="5.06" fill="#df8e8f"/>
<rect x="188.62" y="415.46" width="11.79" height="5.06" fill="#eab7b8"/>
<rect x="199.81" y="415.46" width="11.19" height="5.06" fill="#f5dcdc"/>
<rect x="54.35" y="419.93" width="11.79" height="5.06" fill="#9898cf"/>
<rect x="65.54" y="419.93" width="34.17" height="5.06" fill="#6260ac"/>
<rect x="99.11" y="419.93" width="11.79" height="5.06" fill="#df8e8f"/>
<rect x="110.30" y="419.93" width="11.79" height="5.06" fill="#eab7b8"/>
<rect x="121.49" y="419.93" width="11.79" height="5.06" fill="#d66a6a"/>
<rect x="132.68" y="419.93" width="22.98" height="5.06" fill="#df8e8f"/>
<rect x="155.05" y="419.93" width="11.79" height="5.06" fill="#ffffff"/>
<rect x="166.24" y="419.93" width="11.79" height="5.06" fill="#f5dcdc"/>
<rect x="177.43" y="419.93" width="11.79" height="5.06" fill="#ffffff"/>
<rect x="188.62" y="419.93" width="11.79" height="5.06" fill="#eab7b8"/>
<rect x="199.81" y="419.93" width="11.19" height="5.06" fill="#d5d5ee"/>
<rect x="54.35" y="424.39" width="11.79" height="5.06" fill="#aaaada"/>
<rect x="65.54" y="424.39" width="11.79" height="5.06" fill="#6260ac"/>
<rect x="76.73" y="424.39" width="11.79" height="5.06" fill="#9898cf"/>
<rect x="87.92" y="424.39" width="11.79" height="5.06" fill="#aaaada"/>
<rect x="99.11" y="424.39" width="11.79" height="5.06" fill="#cf4a48"/>
<rect x="110.30" y="424.39" width="11.79" height="5.06" fill="#eab7b8"/>
<rect x="121.49" y="424.39" width="11.79" height="5.06" fill="#d5d5ee"/>
<rect x="132.68" y="424.39" width="11.79" height="5.06" fill="#cf4a48"/>
<rect x="143.86" y="424.39" width="11.79" height="5.06" fill="#eab7b8"/>
<rect x="155.05" y="424.39" width="11.79" height="5.06" fill="#e4a2a4"/>
<rect x="166.24" y="424.39" width="11.79" height="5.06" fill="#f5dcdc"/>
<rect x="177.43" y="424.39" width="11.79" height="5.06" fill="#d5d5ee"/>
<rect x="188.62" y="424.39" width="11.79" height="5.06" fill="#9898cf"/>
<rect x="199.81" y="424.39" width="11.19" height="5.06" fill="#d5d5ee"/>
<rect x="54.35" y="428.85" width="11.79" height="5.06" fill="#6260ac"/>
<rect x="65.54" y="428.85" width="11.79" height="5.06" fill="#8686c4"/>
<rect x="76.73" y="428.85" width="11.79" height="5.06" fill="#aaaada"/>
<rect x="87.92" y="428.85" width="11.79" height="5.06" fill="#9898cf"/>
<rect x="99.11" y="428.85" width="11.79" height="5.06" fill="#df8e8f"/>
<rect x="110.30" y="428.85" width="11.79" height="5.06" fill="#d5d5ee"/>
<rect x="121.49" y="428.85" width="11.79" height="5.06" fill="#7473b8"/>
<rect x="132.68" y="428.85" width="11.79" height="5.06" fill="#cf4a48"/>
<rect x="143.86" y="428.85" width="11.79" height="5.06" fill="#ffffff"/>
<rect x="155.05" y="428.85" width="11.79" height="5.06" fill="#d66a6a"/>
<rect x="166.24" y="428.85" width="22.98" height="5.06" fill="#eab7b8"/>
<rect x="188.62" y="428.85" width="11.79" height="5.06" fill="#eaeaf6"/>
<rect x="199.81" y="428.85" width="11.19" height="5.06" fill="#eab7b8"/>
<rect x="54.35" y="433.31" width="11.79" height="5.06" fill="#aaaada"/>
<rect x="65.54" y="433.31" width="11.79" height="5.06" fill="#d5d5ee"/>
<rect x="76.73" y="433.31" width="11.79" height="5.06" fill="#aaaada"/>
<rect x="87.92" y="433.31" width="11.79" height="5.06" fill="#9898cf"/>
<rect x="99.11" y="433.31" width="11.79" height="5.06" fill="#df8e8f"/>
<rect x="110.30" y="433.31" width="22.98" height="5.06" fill="#d66a6a"/>
<rect x="132.68" y="433.31" width="11.79" height="5.06" fill="#df8e8f"/>
<rect x="143.86" y="433.31" width="11.79" height="5.06" fill="#d66a6a"/>
<rect x="155.05" y="433.31" width="11.79" height="5.06" fill="#d5d5ee"/>
<rect x="166.24" y="433.31" width="11.79" height="5.06" fill="#ffffff"/>
<rect x="177.43" y="433.31" width="11.79" height="5.06" fill="#6260ac"/>
<rect x="188.62" y="433.31" width="11.79" height="5.06" fill="#aaaada"/>
<rect x="199.81" y="433.31" width="11.19" height="5.06" fill="#8686c4"/>
<rect x="54.35" y="437.77" width="11.79" height="5.06" fill="#aaaada"/>
<rect x="65.54" y="437.77" width="11.79" height="5.06" fill="#6260ac"/>
<rect x="76.73" y="437.77" width="22.98" height="5.06" fill="#8686c4"/>
<rect x="99.11" y="437.77" width="11.79" height="5.06" fill="#df8e8f"/>
<rect x="110.30" y="437.77" width="11.79" height="5.06" fill="#cf4a48"/>
<rect x="121.49" y="437.77" width="11.79" height="5.06" fill="#df8e8f"/>
<rect x="132.68" y="437.77" width="11.79" height="5.06" fill="#f5dcdc"/>
<rect x="143.86" y="437.77" width="11.79" height="5.06" fill="#d66a6a"/>
<rect x="155.05" y="437.77" width="11.79" height="5.06" fill="#d5d5ee"/>
<rect x="166.24" y="437.77" width="11.79" height="5.06" fill="#f5dcdc"/>
<rect x="177.43" y="437.77" width="22.98" height="5.06" fill="#d5d5ee"/>
<rect x="199.81" y="437.77" width="11.19" height="5.06" fill="#9898cf"/>
<rect x="54.35" y="442.24" width="11.79" height="5.06" fill="#6260ac"/>
<rect x="65.54" y="442.24" width="11.79" height="5.06" fill="#aaaada"/>
<rect x="76.73" y="442.24" width="22.98" height="5.06" fill="#d5d5ee"/>
<rect x="99.11" y="442.24" width="11.79" height="5.06" fill="#aaaada"/>
<rect x="110.30" y="442.24" width="11.79" height="5.06" fill="#df8e8f"/>
<rect x="121.49" y="442.24" width="11.79" height="5.06" fill="#cf4a48"/>
<rect x="132.68" y="442.24" width="11.79" height="5.06" fill="#f5dcdc"/>
<rect x="143.86" y="442.24" width="11.79" height="5.06" fill="#c82820"/>
<rect x="155.05" y="442.24" width="11.79" height="5.06" fill="#d5d5ee"/>
<rect x="166.24" y="442.24" width="11.79" height="5.06" fill="#c0c0e4"/>
<rect x="177.43" y="442.24" width="22.98" height="5.06" fill="#ffffff"/>
<rect x="199.81" y="442.24" width="11.19" height="5.06" fill="#aaaada"/>
<rect x="54.35" y="446.70" width="22.98" height="5.06" fill="#d5d5ee"/>
<rect x="76.73" y="446.70" width="11.79" height="5.06" fill="#ffffff"/>
<rect x="87.92" y="446.70" width="11.79" height="5.06" fill="#d5d5ee"/>
<rect x="99.11" y="446.70" width="22.98" height="5.06" fill="#df8e8f"/>
<rect x="121.49" y="446.70" width="11.79" height="5.06" fill="#cc3934"/>
<rect x="132.68" y="446.70" width="11.79" height="5.06" fill="#eab7b8"/>
<rect x="143.86" y="446.70" width="11.79" height="5.06" fill="#df8e8f"/>
<rect x="155.05" y="446.70" width="11.79" height="5.06" fill="#8686c4"/>
<rect x="166.24" y="446.70" width="11.79" height="5.06" fill="#c0c0e4"/>
<rect x="177.43" y="446.70" width="11.79" height="5.06" fill="#8686c4"/>
<rect x="188.62" y="446.70" width="11.79" height="5.06" fill="#ffffff"/>
<rect x="199.81" y="446.70" width="11.19" height="5.06" fill="#484098"/>
<rect x="54.35" y="451.16" width="11.79" height="5.06" fill="#8686c4"/>
<rect x="65.54" y="451.16" width="11.79" height="5.06" fill="#aaaada"/>
<rect x="76.73" y="451.16" width="11.79" height="5.06" fill="#8686c4"/>
<rect x="87.92" y="451.16" width="11.79" height="5.06" fill="#aaaada"/>
<rect x="99.11" y="451.16" width="11.79" height="5.06" fill="#f5dcdc"/>
<rect x="110.30" y="451.16" width="11.79" height="5.06" fill="#eab7b8"/>
<rect x="121.49" y="451.16" width="11.79" height="5.06" fill="#cf4a48"/>
<rect x="132.68" y="451.16" width="11.79" height="5.06" fill="#eab7b8"/>
<rect x="143.86" y="451.16" width="11.79" height="5.06" fill="#d66a6a"/>
<rect x="155.05" y="451.16" width="11.79" height="5.06" fill="#ffffff"/>
<rect x="166.24" y="451.16" width="11.79" height="5.06" fill="#aaaada"/>
<rect x="177.43" y="451.16" width="11.79" height="5.06" fill="#d5d5ee"/>
<rect x="188.62" y="451.16" width="11.79" height="5.06" fill="#df8e8f"/>
<rect x="199.81" y="451.16" width="11.19" height="5.06" fill="#c0c0e4"/>
<rect x="54.35" y="455.62" width="11.79" height="5.06" fill="#6260ac"/>
<rect x="65.54" y="455.62" width="11.79" height="5.06" fill="#aaaada"/>
<rect x="76.73" y="455.62" width="11.79" height="5.06" fill="#8686c4"/>
<rect x="87.92" y="455.62" width="11.79" height="5.06" fill="#d5d5ee"/>
<rect x="99.11" y="455.62" width="11.79" height="5.06" fill="#d66a6a"/>
<rect x="110.30" y="455.62" width="22.98" height="5.06" fill="#eab7b8"/>
<rect x="132.68" y="455.62" width="11.79" height="5.06" fill="#d66a6a"/>
<rect x="143.86" y="455.62" width="11.79" height="5.06" fill="#df8e8f"/>
<rect x="155.05" y="455.62" width="11.79" height="5.06" fill="#eab7b8"/>
<rect x="166.24" y="455.62" width="22.98" height="5.06" fill="#d5d5ee"/>
<rect x="188.62" y="455.62" width="11.79" height="5.06" fill="#6260ac"/>
<rect x="199.81" y="455.62" width="11.19" height="5.06" fill="#ffffff"/>
<rect x="54.35" y="460.09" width="11.79" height="5.06" fill="#7473b8"/>
<rect x="65.54" y="460.09" width="22.98" height="5.06" fill="#6260ac"/>
<rect x="87.92" y="460.09" width="11.79" height="5.06" fill="#8686c4"/>
<rect x="99.11" y="460.09" width="11.79" height="5.06" fill="#eab7b8"/>
<rect x="110.30" y="460.09" width="22.98" height="5.06" fill="#df8e8f"/>
<rect x="132.68" y="460.09" width="11.79" height="5.06" fill="#f5dcdc"/>
<rect x="143.86" y="460.09" width="11.79" height="5.06" fill="#df8e8f"/>
<rect x="155.05" y="460.09" width="11.79" height="5.06" fill="#ffffff"/>
<rect x="166.24" y="460.09" width="11.79" height="5.06" fill="#eab7b8"/>
<rect x="177.43" y="460.09" width="11.79" height="5.06" fill="#f5dcdc"/>
<rect x="188.62" y="460.09" width="11.79" height="5.06" fill="#eab7b8"/>
<rect x="199.81" y="460.09" width="11.19" height="5.06" fill="#d5d5ee"/>
<rect x="54.35" y="464.55" width="11.79" height="5.06" fill="#6260ac"/>
<rect x="65.54" y="464.55" width="11.79" height="5.06" fill="#7473b8"/>
<rect x="76.73" y="464.55" width="22.98" height="5.06" fill="#8686c4"/>
<rect x="99.11" y="464.55" width="11.79" height="5.06" fill="#eab7b8"/>
<rect x="110.30" y="464.55" width="11.79" height="5.06" fill="#df8e8f"/>
<rect x="121.49" y="464.55" width="11.79" height="5.06" fill="#da7c7c"/>
<rect x="132.68" y="464.55" width="11.79" height="5.06" fill="#eab7b8"/>
<rect x="143.86" y="464.55" width="11.79" height="5.06" fill="#d66a6a"/>
<rect x="155.05" y="464.55" width="11.79" height="5.06" fill="#f0caca"/>
<rect x="166.24" y="464.55" width="22.98" height="5.06" fill="#f5dcdc"/>
<rect x="188.62" y="464.55" width="11.79" height="5.06" fill="#eab7b8"/>
<rect x="199.81" y="464.55" width="11.19" height="5.06" fill="#eaeaf6"/>
<rect x="54.35" y="469.01" width="11.79" height="5.06" fill="#aaaada"/>
<rect x="65.54" y="469.01" width="34.17" height="5.06" fill="#8686c4"/>
<rect x="99.11" y="469.01" width="11.79" height="5.06" fill="#df8e8f"/>
<rect x="110.30" y="469.01" width="11.79" height="5.06" fill="#d66a6a"/>
<rect x="121.49" y="469.01" width="11.79" height="5.06" fill="#da7c7c"/>
<rect x="132.68" y="469.01" width="11.79" height="5.06" fill="#eab7b8"/>
<rect x="143.86" y="469.01" width="11.79" height="5.06" fill="#d66a6a"/>
<rect x="155.05" y="469.01" width="11.79" height="5.06" fill="#f0caca"/>
<rect x="166.24" y="469.01" width="11.79" height="5.06" fill="#aaaada"/>
<rect x="177.43" y="469.01" width="11.79" height="5.06" fill="#d5d5ee"/>
<rect x="188.62" y="469.01" width="11.79" height="5.06" fill="#f5dcdc"/>
<rect x="199.81" y="469.01" width="11.19" height="5.06" fill="#9898cf"/>
<rect x="54.35" y="473.48" width="22.98" height="5.06" fill="#d5d5ee"/>
<rect x="76.73" y="473.48" width="11.79" height="5.06" fill="#aaaada"/>
<rect x="87.92" y="473.48" width="11.79" height="5.06" fill="#6260ac"/>
<rect x="99.11" y="473.48" width="11.79" height="5.06" fill="#d66a6a"/>
<rect x="110.30" y="473.48" width="11.79" height="5.06" fill="#eab7b8"/>
<rect x="121.49" y="473.48" width="11.79" height="5.06" fill="#f5dcdc"/>
<rect x="132.68" y="473.48" width="22.98" height="5.06" fill="#d66a6a"/>
<rect x="155.05" y="473.48" width="11.79" height="5.06" fill="#ffffff"/>
<rect x="166.24" y="473.48" width="11.79" height="5.06" fill="#9898cf"/>
<rect x="177.43" y="473.48" width="11.79" height="5.06" fill="#f5dcdc"/>
<rect x="188.62" y="473.48" width="11.79" height="5.06" fill="#aaaada"/>
<rect x="199.81" y="473.48" width="11.19" height="5.06" fill="#6260ac"/>
<rect x="54.35" y="477.94" width="11.79" height="5.06" fill="#8686c4"/>
<rect x="65.54" y="477.94" width="22.98" height="5.06" fill="#aaaada"/>
<rect x="87.92" y="477.94" width="11.79" height="5.06" fill="#8686c4"/>
<rect x="99.11" y="477.94" width="11.79" height="5.06" fill="#eab7b8"/>
<rect x="110.30" y="477.94" width="11.79" height="5.06" fill="#d5d5ee"/>
<rect x="121.49" y="477.94" width="11.79" height="5.06" fill="#eab7b8"/>
<rect x="132.68" y="477.94" width="11.79" height="5.06" fill="#c82820"/>
<rect x="143.86" y="477.94" width="11.79" height="5.06" fill="#d5d5ee"/>
<rect x="155.05" y="477.94" width="11.79" height="5.06" fill="#df8e8f"/>
<rect x="166.24" y="477.94" width="11.79" height="5.06" fill="#d5d5ee"/>
<rect x="177.43" y="477.94" width="11.79" height="5.06" fill="#eab7b8"/>
<rect x="188.62" y="477.94" width="11.79" height="5.06" fill="#aaaada"/>
<rect x="199.81" y="477.94" width="11.19" height="5.06" fill="#eab7b8"/>
<rect x="54.35" y="482.40" width="34.17" height="5.06" fill="#8686c4"/>
<rect x="87.92" y="482.40" width="11.79" height="5.06" fill="#5550a2"/>
<rect x="99.11" y="482.40" width="22.98" height="5.06" fill="#eab7b8"/>
<rect x="121.49" y="482.40" width="11.79" height="5.06" fill="#da7c7c"/>
<rect x="132.68" y="482.40" width="11.79" height="5.06" fill="#df8e8f"/>
<rect x="143.86" y="482.40" width="11.79" height="5.06" fill="#e4a2a4"/>
<rect x="155.05" y="482.40" width="11.79" height="5.06" fill="#eab7b8"/>
<rect x="166.24" y="482.40" width="11.79" height="5.06" fill="#eaeaf6"/>
<rect x="177.43" y="482.40" width="11.79" height="5.06" fill="#d5d5ee"/>
<rect x="188.62" y="482.40" width="11.79" height="5.06" fill="#f0caca"/>
<rect x="199.81" y="482.40" width="11.19" height="5.06" fill="#eaeaf6"/>
<rect x="54.35" y="486.86" width="11.79" height="5.06" fill="#6260ac"/>
<rect x="65.54" y="486.86" width="11.79" height="5.06" fill="#8686c4"/>
<rect x="76.73" y="486.86" width="22.98" height="5.06" fill="#6260ac"/>
<rect x="99.11" y="486.86" width="11.79" height="5.06" fill="#faeeee"/>
<rect x="110.30" y="486.86" width="11.79" height="5.06" fill="#eab7b8"/>
<rect x="121.49" y="486.86" width="22.98" height="5.06" fill="#f5dcdc"/>
<rect x="143.86" y="486.86" width="11.79" height="5.06" fill="#eab7b8"/>
<rect x="155.05" y="486.86" width="11.79" height="5.06" fill="#e4a2a4"/>
<rect x="166.24" y="486.86" width="11.79" height="5.06" fill="#f0caca"/>
<rect x="177.43" y="486.86" width="22.98" height="5.06" fill="#df8e8f"/>
<rect x="199.81" y="486.86" width="11.19" height="5.06" fill="#f5dcdc"/>
<rect x="54.35" y="491.32" width="11.79" height="5.06" fill="#8686c4"/>
<rect x="65.54" y="491.32" width="11.79" height="5.06" fill="#7473b8"/>
<rect x="76.73" y="491.32" width="22.98" height="5.06" fill="#8686c4"/>
<rect x="99.11" y="491.32" width="34.17" height="5.06" fill="#df8e8f"/>
<rect x="132.68" y="491.32" width="11.79" height="5.06" fill="#eab7b8"/>
<rect x="143.86" y="491.32" width="11.79" height="5.06" fill="#df8e8f"/>
<rect x="155.05" y="491.32" width="11.79" height="5.06" fill="#ffffff"/>
<rect x="166.24" y="491.32" width="11.79" height="5.06" fill="#f5dcdc"/>
<rect x="177.43" y="491.32" width="11.79" height="5.06" fill="#d5d5ee"/>
<rect x="188.62" y="491.32" width="11.79" height="5.06" fill="#f5dcdc"/>
<rect x="199.81" y="491.32" width="11.19" height="5.06" fill="#aaaada"/>
<rect x="54.35" y="495.79" width="34.17" height="5.06" fill="#8686c4"/>
<rect x="87.92" y="495.79" width="11.79" height="5.06" fill="#9898cf"/>
<rect x="99.11" y="495.79" width="11.79" height="5.06" fill="#faeeee"/>
<rect x="110.30" y="495.79" width="11.79" height="5.06" fill="#d66a6a"/>
<rect x="121.49" y="495.79" width="11.79" height="5.06" fill="#df8e8f"/>
<rect x="132.68" y="495.79" width="11.79" height="5.06" fill="#c0c0e4"/>
<rect x="143.86" y="495.79" width="11.79" height="5.06" fill="#d25a59"/>
<rect x="155.05" y="495.79" width="11.79" height="5.06" fill="#faeeee"/>
<rect x="166.24" y="495.79" width="11.79" height="5.06" fill="#ffffff"/>
<rect x="177.43" y="495.79" width="11.79" height="5.06" fill="#f5dcdc"/>
<rect x="188.62" y="495.79" width="11.79" height="5.06" fill="#df8e8f"/>
<rect x="199.81" y="495.79" width="11.19" height="5.06" fill="#aaaada"/>
<rect x="54.35" y="500.25" width="11.79" height="5.06" fill="#6260ac"/>
<rect x="65.54" y="500.25" width="22.98" height="5.06" fill="#8686c4"/>
<rect x="87.92" y="500.25" width="11.79" height="5.06" fill="#9898cf"/>
<rect x="99.11" y="500.25" width="11.79" height="5.06" fill="#df8e8f"/>
<rect x="110.30" y="500.25" width="11.79" height="5.06" fill="#ffffff"/>
<rect x="121.49" y="500.25" width="11.79" height="5.06" fill="#d5d5ee"/>
<rect x="132.68" y="500.25" width="11.79" height="5.06" fill="#cf4a48"/>
<rect x="143.86" y="500.25" width="11.79" height="5.06" fill="#eab7b8"/>
<rect x="155.05" y="500.25" width="11.79" height="5.06" fill="#da7c7c"/>
<rect x="166.24" y="500.25" width="11.79" height="5.06" fill="#faeeee"/>
<rect x="177.43" y="500.25" width="22.98" height="5.06" fill="#ffffff"/>
<rect x="199.81" y="500.25" width="11.19" height="5.06" fill="#f0caca"/>
<rect x="54.35" y="504.71" width="11.79" height="5.06" fill="#aaaada"/>
<rect x="65.54" y="504.71" width="11.79" height="5.06" fill="#6260ac"/>
<rect x="76.73" y="504.71" width="11.79" height="5.06" fill="#8686c4"/>
<rect x="87.92" y="504.71" width="11.79" height="5.06" fill="#7473b8"/>
<rect x="99.11" y="504.71" width="11.79" height="5.06" fill="#f5dcdc"/>
<rect x="110.30" y="504.71" width="22.98" height="5.06" fill="#d66a6a"/>
<rect x="132.68" y="504.71" width="11.79" height="5.06" fill="#ffffff"/>
<rect x="143.86" y="504.71" width="11.79" height="5.06" fill="#e4a2a4"/>
<rect x="155.05" y="504.71" width="11.79" height="5.06" fill="#eaeaf6"/>
<rect x="166.24" y="504.71" width="11.79" height="5.06" fill="#eab7b8"/>
<rect x="177.43" y="504.71" width="11.79" height="5.06" fill="#f0caca"/>
<rect x="188.62" y="504.71" width="11.79" height="5.06" fill="#eab7b8"/>
<rect x="199.81" y="504.71" width="11.19" height="5.06" fill="#aaaada"/>
<rect x="54.35" y="509.18" width="11.79" height="5.06" fill="#484098"/>
<rect x="65.54" y="509.18" width="11.79" height="5.06" fill="#aaaada"/>
<rect x="76.73" y="509.18" width="11.79" height="5.06" fill="#8686c4"/>
<rect x="87.92" y="509.18" width="11.79" height="5.06" fill="#9898cf"/>
<rect x="99.11" y="509.18" width="11.79" height="5.06" fill="#f0caca"/>
<rect x="110.30" y="509.18" width="11.79" height="5.06" fill="#faeeee"/>
<rect x="121.49" y="509.18" width="11.79" height="5.06" fill="#df8e8f"/>
<rect x="132.68" y="509.18" width="11.79" height="5.06" fill="#d66a6a"/>
<rect x="143.86" y="509.18" width="11.79" height="5.06" fill="#df8e8f"/>
<rect x="155.05" y="509.18" width="11.79" height="5.06" fill="#d5d5ee"/>
<rect x="166.24" y="509.18" width="11.79" height="5.06" fill="#f5dcdc"/>
<rect x="177.43" y="509.18" width="11.79" height="5.06" fill="#e4a2a4"/>
<rect x="188.62" y="509.18" width="11.79" height="5.06" fill="#8686c4"/>
<rect x="199.81" y="509.18" width="11.19" height="5.06" fill="#df8e8f"/>
<rect x="54.35" y="513.64" width="11.79" height="5.06" fill="#d5d5ee"/>
<rect x="65.54" y="513.64" width="11.79" height="5.06" fill="#7473b8"/>
<rect x="76.73" y="513.64" width="11.79" height="5.06" fill="#9898cf"/>
<rect x="87.92" y="513.64" width="11.79" height="5.06" fill="#d5d5ee"/>
<rect x="99.11" y="513.64" width="11.79" height="5.06" fill="#eab7b8"/>
<rect x="110.30" y="513.64" width="11.79" height="5.06" fill="#cf4a48"/>
<rect x="121.49" y="513.64" width="11.79" height="5.06" fill="#eab7b8"/>
<rect x="132.68" y="513.64" width="11.79" height="5.06" fill="#f5dcdc"/>
<rect x="143.86" y="513.64" width="11.79" height="5.06" fill="#d25a59"/>
<rect x="155.05" y="513.64" width="11.79" height="5.06" fill="#c0c0e4"/>
<rect x="166.24" y="513.64" width="11.79" height="5.06" fill="#eab7b8"/>
<rect x="177.43" y="513.64" width="11.79" height="5.06" fill="#d5d5ee"/>
<rect x="188.62" y="513.64" width="11.79" height="5.06" fill="#faeeee"/>
<rect x="199.81" y="513.64" width="11.19" height="5.06" fill="#6260ac"/>
<rect x="54.35" y="518.10" width="11.79" height="5.06" fill="#ffffff"/>
<rect x="65.54" y="518.10" width="34.17" height="5.06" fill="#d5d5ee"/>
<rect x="99.11" y="518.10" width="11.79" height="5.06" fill="#eab7b8"/>
<rect x="110.30" y="518.10" width="11.79" height="5.06" fill="#d66a6a"/>
<rect x="121.49" y="518.10" width="11.79" height="5.06" fill="#df8e8f"/>
<rect x="132.68" y="518.10" width="11.79" height="5.06" fill="#f0caca"/>
<rect x="143.86" y="518.10" width="11.79" height="5.06" fill="#d66a6a"/>
<rect x="155.05" y="518.10" width="11.79" height="5.06" fill="#d5d5ee"/>
<rect x="166.24" y="518.10" width="11.79" height="5.06" fill="#8686c4"/>
<rect x="177.43" y="518.10" width="11.79" height="5.06" fill="#413692"/>
<rect x="188.62" y="518.10" width="11.79" height="5.06" fill="#eab7b8"/>
<rect x="199.81" y="518.10" width="11.19" height="5.06" fill="#6260ac"/>
<rect x="54.35" y="522.56" width="11.79" height="5.06" fill="#d5d5ee"/>
<rect x="65.54" y="522.56" width="11.79" height="5.06" fill="#aaaada"/>
<rect x="76.73" y="522.56" width="11.79" height="5.06" fill="#9898cf"/>
<rect x="87.92" y="522.56" width="11.79" height="5.06" fill="#c0c0e4"/>
<rect x="99.11" y="522.56" width="11.79" height="5.06" fill="#cf4a48"/>
<rect x="110.30" y="522.56" width="11.79" height="5.06" fill="#d66a6a"/>
<rect x="121.49" y="522.56" width="11.79" height="5.06" fill="#e4a2a4"/>
<rect x="132.68" y="522.56" width="11.79" height="5.06" fill="#ffffff"/>
<rect x="143.86" y="522.56" width="11.79" height="5.06" fill="#d66a6a"/>
<rect x="155.05" y="522.56" width="11.79" height="5.06" fill="#c0c0e4"/>
<rect x="166.24" y="522.56" width="11.79" height="5.06" fill="#d5d5ee"/>
<rect x="177.43" y="522.56" width="11.79" height="5.06" fill="#9898cf"/>
<rect x="188.62" y="522.56" width="11.79" height="5.06" fill="#ffffff"/>
<rect x="199.81" y="522.56" width="11.19" height="5.06" fill="#6260ac"/>
<rect x="54.35" y="527.02" width="11.79" height="5.06" fill="#aaaada"/>
<rect x="65.54" y="527.02" width="11.79" height="5.06" fill="#9898cf"/>
<rect x="76.73" y="527.02" width="22.98" height="5.06" fill="#aaaada"/>
<rect x="99.11" y="527.02" width="11.79" height="5.06" fill="#d66a6a"/>
<rect x="110.30" y="527.02" width="34.17" height="5.06" fill="#df8e8f"/>
<rect x="143.86" y="527.02" width="11.79" height="5.06" fill="#d66a6a"/>
<rect x="155.05" y="527.02" width="22.98" height="5.06" fill="#d5d5ee"/>
<rect x="177.43" y="527.02" width="11.79" height="5.06" fill="#8686c4"/>
<rect x="188.62" y="527.02" width="11.79" height="5.06" fill="#9898cf"/>
<rect x="199.81" y="527.02" width="11.19" height="5.06" fill="#aaaada"/>
<rect x="54.35" y="531.49" width="11.79" height="5.06" fill="#6260ac"/>
<rect x="65.54" y="531.49" width="11.79" height="5.06" fill="#7473b8"/>
<rect x="76.73" y="531.49" width="11.79" height="5.06" fill="#8686c4"/>
<rect x="87.92" y="531.49" width="11.79" height="5.06" fill="#9898cf"/>
<rect x="99.11" y="531.49" width="11.79" height="5.06" fill="#d66a6a"/>
<rect x="110.30" y="531.49" width="22.98" height="5.06" fill="#ffffff"/>
<rect x="132.68" y="531.49" width="11.79" height="5.06" fill="#cf4a48"/>
<rect x="143.86" y="531.49" width="11.79" height="5.06" fill="#d66a6a"/>
<rect x="155.05" y="531.49" width="11.79" height="5.06" fill="#df8e8f"/>
<rect x="166.24" y="531.49" width="11.79" height="5.06" fill="#d5d5ee"/>
<rect x="177.43" y="531.49" width="11.79" height="5.06" fill="#c0c0e4"/>
<rect x="188.62" y="531.49" width="11.79" height="5.06" fill="#f5dcdc"/>
<rect x="199.81" y="531.49" width="11.19" height="5.06" fill="#d5d5ee"/>
<rect x="54.35" y="535.95" width="45.36" height="5.06" fill="#8686c4"/>
<rect x="99.11" y="535.95" width="22.98" height="5.06" fill="#df8e8f"/>
<rect x="121.49" y="535.95" width="34.17" height="5.06" fill="#da7c7c"/>
<rect x="155.05" y="535.95" width="11.79" height="5.06" fill="#f5dcdc"/>
<rect x="166.24" y="535.95" width="11.79" height="5.06" fill="#f0caca"/>
<rect x="177.43" y="535.95" width="11.79" height="5.06" fill="#d5d5ee"/>
<rect x="188.62" y="535.95" width="11.79" height="5.06" fill="#ffffff"/>
<rect x="199.81" y="535.95" width="11.19" height="5.06" fill="#9898cf"/>
<rect x="54.35" y="540.41" width="11.79" height="5.06" fill="#7473b8"/>
<rect x="65.54" y="540.41" width="34.17" height="5.06" fill="#8686c4"/>
<rect x="99.11" y="540.41" width="11.79" height="5.06" fill="#eab7b8"/>
<rect x="110.30" y="540.41" width="11.79" height="5.06" fill="#d66a6a"/>
<rect x="121.49" y="540.41" width="11.79" height="5.06" fill="#e4a2a4"/>
<rect x="132.68" y="540.41" width="11.79" height="5.06" fill="#df8e8f"/>
<rect x="143.86" y="540.41" width="11.79" height="5.06" fill="#d66a6a"/>
<rect x="155.05" y="540.41" width="11.79" height="5.06" fill="#f5dcdc"/>
<rect x="166.24" y="540.41" width="22.98" height="5.06" fill="#ffffff"/>
<rect x="188.62" y="540.41" width="11.79" height="5.06" fill="#f0caca"/>
<rect x="199.81" y="540.41" width="11.19" height="5.06" fill="#aaaada"/>
<rect x="54.35" y="544.88" width="22.98" height="5.06" fill="#9898cf"/>
<rect x="76.73" y="544.88" width="11.79" height="5.06" fill="#8686c4"/>
<rect x="87.92" y="544.88" width="11.79" height="5.06" fill="#9898cf"/>
<rect x="99.11" y="544.88" width="11.79" height="5.06" fill="#eab7b8"/>
<rect x="110.30" y="544.88" width="11.79" height="5.06" fill="#d66a6a"/>
<rect x="121.49" y="544.88" width="11.79" height="5.06" fill="#cf4a48"/>
<rect x="132.68" y="544.88" width="11.79" height="5.06" fill="#df8e8f"/>
<rect x="143.86" y="544.88" width="11.79" height="5.06" fill="#da7c7c"/>
<rect x="155.05" y="544.88" width="11.79" height="5.06" fill="#eaeaf6"/>
<rect x="166.24" y="544.88" width="11.79" height="5.06" fill="#ffffff"/>
<rect x="177.43" y="544.88" width="11.79" height="5.06" fill="#9898cf"/>
<rect x="188.62" y="544.88" width="11.79" height="5.06" fill="#c0c0e4"/>
<rect x="199.81" y="544.88" width="11.19" height="5.06" fill="#9898cf"/>
<rect x="54.35" y="549.34" width="11.79" height="5.06" fill="#ffffff"/>
<rect x="65.54" y="549.34" width="11.79" height="5.06" fill="#c0c0e4"/>
<rect x="76.73" y="549.34" width="11.79" height="5.06" fill="#8686c4"/>
<rect x="87.92" y="549.34" width="11.79" height="5.06" fill="#ffffff"/>
<rect x="99.11" y="549.34" width="11.79" height="5.06" fill="#f5dcdc"/>
<rect x="110.30" y="549.34" width="22.98" height="5.06" fill="#d66a6a"/>
<rect x="132.68" y="549.34" width="11.79" height="5.06" fill="#d25a59"/>
<rect x="143.86" y="549.34" width="11.79" height="5.06" fill="#df8e8f"/>
<rect x="155.05" y="549.34" width="11.79" height="5.06" fill="#9898cf"/>
<rect x="166.24" y="549.34" width="11.79" height="5.06" fill="#f5dcdc"/>
<rect x="177.43" y="549.34" width="11.79" height="5.06" fill="#6260ac"/>
<rect x="188.62" y="549.34" width="11.79" height="5.06" fill="#9898cf"/>
<rect x="199.81" y="549.34" width="11.19" height="5.06" fill="#8686c4"/>
<rect x="54.35" y="553.80" width="11.79" height="5.06" fill="#7473b8"/>
<rect x="65.54" y="553.80" width="11.79" height="5.06" fill="#9898cf"/>
<rect x="76.73" y="553.80" width="11.79" height="5.06" fill="#aaaada"/>
<rect x="87.92" y="553.80" width="11.79" height="5.06" fill="#9898cf"/>
<rect x="99.11" y="553.80" width="22.98" height="5.06" fill="#df8e8f"/>
<rect x="121.49" y="553.80" width="11.79" height="5.06" fill="#d66a6a"/>
<rect x="132.68" y="553.80" width="11.79" height="5.06" fill="#eab7b8"/>
<rect x="143.86" y="553.80" width="11.79" height="5.06" fill="#df8e8f"/>
<rect x="155.05" y="553.80" width="11.79" height="5.06" fill="#f5dcdc"/>
<rect x="166.24" y="553.80" width="11.79" height="5.06" fill="#aaaada"/>
<rect x="177.43" y="553.80" width="11.79" height="5.06" fill="#d5d5ee"/>
<rect x="188.62" y="553.80" width="11.79" height="5.06" fill="#df8e8f"/>
<rect x="199.81" y="553.80" width="11.19" height="5.06" fill="#8686c4"/>
<rect x="54.35" y="558.26" width="11.79" height="5.06" fill="#8686c4"/>
<rect x="65.54" y="558.26" width="34.17" height="5.06" fill="#6260ac"/>
<rect x="99.11" y="558.26" width="11.79" height="5.06" fill="#ffffff"/>
<rect x="110.30" y="558.26" width="11.79" height="5.06" fill="#f5dcdc"/>
<rect x="121.49" y="558.26" width="11.79" height="5.06" fill="#e4a2a4"/>
<rect x="132.68" y="558.26" width="11.79" height="5.06" fill="#f5dcdc"/>
<rect x="143.86" y="558.26" width="11.79" height="5.06" fill="#df8e8f"/>
<rect x="155.05" y="558.26" width="11.79" height="5.06" fill="#da7c7c"/>
<rect x="166.24" y="558.26" width="11.79" height="5.06" fill="#ffffff"/>
<rect x="177.43" y="558.26" width="11.79" height="5.06" fill="#f0caca"/>
<rect x="188.62" y="558.26" width="11.79" height="5.06" fill="#d66a6a"/>
<rect x="199.81" y="558.26" width="11.19" height="5.06" fill="#faeeee"/>
<rect x="54.35" y="562.73" width="11.79" height="5.06" fill="#8686c4"/>
<rect x="65.54" y="562.73" width="34.17" height="5.06" fill="#6260ac"/>
<rect x="99.11" y="562.73" width="11.79" height="5.06" fill="#eab7b8"/>
<rect x="110.30" y="562.73" width="11.79" height="5.06" fill="#f5dcdc"/>
<rect x="121.49" y="562.73" width="11.79" height="5.06" fill="#eab7b8"/>
<rect x="132.68" y="562.73" width="11.79" height="5.06" fill="#d66a6a"/>
<rect x="143.86" y="562.73" width="22.98" height="5.06" fill="#f5dcdc"/>
<rect x="166.24" y="562.73" width="22.98" height="5.06" fill="#eab7b8"/>
<rect x="188.62" y="562.73" width="22.38" height="5.06" fill="#f5dcdc"/>
<rect x="54.35" y="567.19" width="11.79" height="5.06" fill="#7473b8"/>
<rect x="65.54" y="567.19" width="34.17" height="5.06" fill="#8686c4"/>
<rect x="99.11" y="567.19" width="11.79" height="5.06" fill="#df8e8f"/>
<rect x="110.30" y="567.19" width="11.79" height="5.06" fill="#e4a2a4"/>
<rect x="121.49" y="567.19" width="11.79" height="5.06" fill="#da7c7c"/>
<rect x="132.68" y="567.19" width="11.79" height="5.06" fill="#d66a6a"/>
<rect x="143.86" y="567.19" width="11.79" height="5.06" fill="#df8e8f"/>
<rect x="155.05" y="567.19" width="11.79" height="5.06" fill="#ffffff"/>
<rect x="166.24" y="567.19" width="11.79" height="5.06" fill="#f5dcdc"/>
<rect x="177.43" y="567.19" width="22.98" height="5.06" fill="#d5d5ee"/>
<rect x="199.81" y="567.19" width="11.19" height="5.06" fill="#9898cf"/>
<rect x="54.35" y="571.65" width="11.79" height="5.06" fill="#413692"/>
<rect x="65.54" y="571.65" width="22.98" height="5.06" fill="#9898cf"/>
<rect x="87.92" y="571.65" width="11.79" height="5.06" fill="#8686c4"/>
<rect x="99.11" y="571.65" width="11.79" height="5.06" fill="#eaeaf6"/>
<rect x="110.30" y="571.65" width="11.79" height="5.06" fill="#eab7b8"/>
<rect x="121.49" y="571.65" width="11.79" height="5.06" fill="#e4a2a4"/>
<rect x="132.68" y="571.65" width="11.79" height="5.06" fill="#d66a6a"/>
<rect x="143.86" y="571.65" width="22.98" height="5.06" fill="#df8e8f"/>
<rect x="166.24" y="571.65" width="11.79" height="5.06" fill="#ffffff"/>
<rect x="177.43" y="571.65" width="11.79" height="5.06" fill="#d5d5ee"/>
<rect x="188.62" y="571.65" width="22.38" height="5.06" fill="#eab7b8"/>
<rect x="54.35" y="576.11" width="11.79" height="5.06" fill="#7473b8"/>
<rect x="65.54" y="576.11" width="11.79" height="5.06" fill="#d5d5ee"/>
<rect x="76.73" y="576.11" width="11.79" height="5.06" fill="#8686c4"/>
<rect x="87.92" y="576.11" width="11.79" height="5.06" fill="#6260ac"/>
<rect x="99.11" y="576.11" width="11.79" height="5.06" fill="#f0caca"/>
<rect x="110.30" y="576.11" width="11.79" height="5.06" fill="#df8e8f"/>
<rect x="121.49" y="576.11" width="11.79" height="5.06" fill="#da7c7c"/>
<rect x="132.68" y="576.11" width="11.79" height="5.06" fill="#ffffff"/>
<rect x="143.86" y="576.11" width="11.79" height="5.06" fill="#d66a6a"/>
<rect x="155.05" y="576.11" width="11.79" height="5.06" fill="#faeeee"/>
<rect x="166.24" y="576.11" width="11.79" height="5.06" fill="#aaaada"/>
<rect x="177.43" y="576.11" width="22.98" height="5.06" fill="#eab7b8"/>
<rect x="199.81" y="576.11" width="11.19" height="5.06" fill="#aaaada"/>
<rect x="54.35" y="580.58" width="11.79" height="5.06" fill="#c0c0e4"/>
<rect x="65.54" y="580.58" width="11.79" height="5.06" fill="#9898cf"/>
<rect x="76.73" y="580.58" width="22.98" height="5.06" fill="#aaaada"/>
<rect x="99.11" y="580.58" width="11.79" height="5.06" fill="#f0caca"/>
<rect x="110.30" y="580.58" width="11.79" height="5.06" fill="#d25a59"/>
<rect x="121.49" y="580.58" width="11.79" height="5.06" fill="#df8e8f"/>
<rect x="132.68" y="580.58" width="11.79" height="5.06" fill="#faeeee"/>
<rect x="143.86" y="580.58" width="11.79" height="5.06" fill="#d25a59"/>
<rect x="155.05" y="580.58" width="11.79" height="5.06" fill="#484098"/>
<rect x="166.24" y="580.58" width="11.79" height="5.06" fill="#ffffff"/>
<rect x="177.43" y="580.58" width="11.79" height="5.06" fill="#f5dcdc"/>
<rect x="188.62" y="580.58" width="11.79" height="5.06" fill="#f0caca"/>
<rect x="199.81" y="580.58" width="11.19" height="5.06" fill="#6260ac"/>
<rect x="54.35" y="585.04" width="11.79" height="5.06" fill="#9898cf"/>
<rect x="65.54" y="585.04" width="11.79" height="5.06" fill="#8686c4"/>
<rect x="76.73" y="585.04" width="11.79" height="5.06" fill="#9898cf"/>
<rect x="87.92" y="585.04" width="11.79" height="5.06" fill="#8686c4"/>
<rect x="99.11" y="585.04" width="11.79" height="5.06" fill="#df8e8f"/>
<rect x="110.30" y="585.04" width="11.79" height="5.06" fill="#ffffff"/>
<rect x="121.49" y="585.04" width="11.79" height="5.06" fill="#f5dcdc"/>
<rect x="132.68" y="585.04" width="11.79" height="5.06" fill="#d25a59"/>
<rect x="143.86" y="585.04" width="11.79" height="5.06" fill="#df8e8f"/>
<rect x="155.05" y="585.04" width="11.79" height="5.06" fill="#d66a6a"/>
<rect x="166.24" y="585.04" width="11.79" height="5.06" fill="#d5d5ee"/>
<rect x="177.43" y="585.04" width="11.79" height="5.06" fill="#aaaada"/>
<rect x="188.62" y="585.04" width="11.79" height="5.06" fill="#f0caca"/>
<rect x="199.81" y="585.04" width="11.19" height="5.06" fill="#d5d5ee"/>
<rect x="54.35" y="589.50" width="11.79" height="5.06" fill="#8686c4"/>
<rect x="65.54" y="589.50" width="11.79" height="5.06" fill="#7473b8"/>
<rect x="76.73" y="589.50" width="11.79" height="5.06" fill="#8686c4"/>
<rect x="87.92" y="589.50" width="11.79" height="5.06" fill="#6260ac"/>
<rect x="99.11" y="589.50" width="11.79" height="5.06" fill="#faeeee"/>
<rect x="110.30" y="589.50" width="11.79" height="5.06" fill="#d66a6a"/>
<rect x="121.49" y="589.50" width="11.79" height="5.06" fill="#f0caca"/>
<rect x="132.68" y="589.50" width="11.79" height="5.06" fill="#c0c0e4"/>
<rect x="143.86" y="589.50" width="11.79" height="5.06" fill="#df8e8f"/>
<rect x="155.05" y="589.50" width="11.79" height="5.06" fill="#f0caca"/>
<rect x="166.24" y="589.50" width="22.98" height="5.06" fill="#eab7b8"/>
<rect x="188.62" y="589.50" width="11.79" height="5.06" fill="#d66a6a"/>
<rect x="199.81" y="589.50" width="11.19" height="5.06" fill="#f5dcdc"/>
<rect x="54.35" y="593.96" width="11.79" height="5.06" fill="#9898cf"/>
<rect x="65.54" y="593.96" width="11.79" height="5.06" fill="#8686c4"/>
<rect x="76.73" y="593.96" width="11.79" height="5.06" fill="#9898cf"/>
<rect x="87.92" y="593.96" width="11.79" height="5.06" fill="#c0c0e4"/>
<rect x="99.11" y="593.96" width="22.98" height="5.06" fill="#eab7b8"/>
<rect x="121.49" y="593.96" width="11.79" height="5.06" fill="#c82820"/>
<rect x="132.68" y="593.96" width="11.79" height="5.06" fill="#d66a6a"/>
<rect x="143.86" y="593.96" width="11.79" height="5.06" fill="#ffffff"/>
<rect x="155.05" y="593.96" width="11.79" height="5.06" fill="#aaaada"/>
<rect x="166.24" y="593.96" width="11.79" height="5.06" fill="#eab7b8"/>
<rect x="177.43" y="593.96" width="11.79" height="5.06" fill="#faeeee"/>
<rect x="188.62" y="593.96" width="11.79" height="5.06" fill="#5550a2"/>
<rect x="199.81" y="593.96" width="11.19" height="5.06" fill="#ffffff"/>
<rect x="54.35" y="598.42" width="11.79" height="5.06" fill="#8686c4"/>
<rect x="65.54" y="598.42" width="11.79" height="5.06" fill="#aaaada"/>
<rect x="76.73" y="598.42" width="11.79" height="5.06" fill="#9898cf"/>
<rect x="87.92" y="598.42" width="11.79" height="5.06" fill="#aaaada"/>
<rect x="99.11" y="598.42" width="11.79" height="5.06" fill="#df8e8f"/>
<rect x="110.30" y="598.42" width="11.79" height="5.06" fill="#ffffff"/>
<rect x="121.49" y="598.42" width="11.79" height="5.06" fill="#eab7b8"/>
<rect x="132.68" y="598.42" width="11.79" height="5.06" fill="#c82820"/>
<rect x="143.86" y="598.42" width="11.79" height="5.06" fill="#df8e8f"/>
<rect x="155.05" y="598.42" width="11.79" height="5.06" fill="#eab7b8"/>
<rect x="166.24" y="598.42" width="11.79" height="5.06" fill="#c0c0e4"/>
<rect x="177.43" y="598.42" width="11.79" height="5.06" fill="#9898cf"/>
<rect x="188.62" y="598.42" width="11.79" height="5.06" fill="#d5d5ee"/>
<rect x="199.81" y="598.42" width="11.19" height="5.06" fill="#eaeaf6"/>
<rect x="54.35" y="602.89" width="11.79" height="5.06" fill="#6260ac"/>
<rect x="65.54" y="602.89" width="34.17" height="5.06" fill="#8686c4"/>
<rect x="99.11" y="602.89" width="11.79" height="5.06" fill="#eab7b8"/>
<rect x="110.30" y="602.89" width="22.98" height="5.06" fill="#df8e8f"/>
<rect x="132.68" y="602.89" width="11.79" height="5.06" fill="#d66a6a"/>
<rect x="143.86" y="602.89" width="11.79" height="5.06" fill="#df8e8f"/>
<rect x="155.05" y="602.89" width="11.79" height="5.06" fill="#eab7b8"/>
<rect x="166.24" y="602.89" width="22.98" height="5.06" fill="#d5d5ee"/>
<rect x="188.62" y="602.89" width="11.79" height="5.06" fill="#eab7b8"/>
<rect x="199.81" y="602.89" width="11.19" height="5.06" fill="#f5dcdc"/>
<rect x="54.35" y="607.35" width="11.79" height="5.06" fill="#aaaada"/>
<rect x="65.54" y="607.35" width="11.79" height="5.06" fill="#8686c4"/>
<rect x="76.73" y="607.35" width="22.98" height="5.06" fill="#9898cf"/>
<rect x="99.11" y="607.35" width="11.79" height="5.06" fill="#d66a6a"/>
<rect x="110.30" y="607.35" width="11.79" height="5.06" fill="#df8e8f"/>
<rect x="121.49" y="607.35" width="11.79" height="5.06" fill="#eab7b8"/>
<rect x="132.68" y="607.35" width="11.79" height="5.06" fill="#d66a6a"/>
<rect x="143.86" y="607.35" width="11.79" height="5.06" fill="#df8e8f"/>
<rect x="155.05" y="607.35" width="11.79" height="5.06" fill="#aaaada"/>
<rect x="166.24" y="607.35" width="11.79" height="5.06" fill="#eab7b8"/>
<rect x="177.43" y="607.35" width="11.79" height="5.06" fill="#d5d5ee"/>
<rect x="188.62" y="607.35" width="22.38" height="5.06" fill="#9898cf"/>
<rect x="54.35" y="611.81" width="11.79" height="5.06" fill="#aaaada"/>
<rect x="65.54" y="611.81" width="11.79" height="5.06" fill="#7473b8"/>
<rect x="76.73" y="611.81" width="11.79" height="5.06" fill="#8686c4"/>
<rect x="87.92" y="611.81" width="11.79" height="5.06" fill="#aaaada"/>
<rect x="99.11" y="611.81" width="11.79" height="5.06" fill="#eaeaf6"/>
<rect x="110.30" y="611.81" width="11.79" height="5.06" fill="#d25a59"/>
<rect x="121.49" y="611.81" width="11.79" height="5.06" fill="#df8e8f"/>
<rect x="132.68" y="611.81" width="11.79" height="5.06" fill="#eaeaf6"/>
<rect x="143.86" y="611.81" width="11.79" height="5.06" fill="#d66a6a"/>
<rect x="155.05" y="611.81" width="11.79" height="5.06" fill="#d5d5ee"/>
<rect x="166.24" y="611.81" width="11.79" height="5.06" fill="#eaeaf6"/>
<rect x="177.43" y="611.81" width="11.79" height="5.06" fill="#faeeee"/>
<rect x="188.62" y="611.81" width="11.79" height="5.06" fill="#d66a6a"/>
<rect x="199.81" y="611.81" width="11.19" height="5.06" fill="#c0c0e4"/>
<rect x="54.35" y="616.27" width="11.79" height="5.06" fill="#413692"/>
<rect x="65.54" y="616.27" width="11.79" height="5.06" fill="#aaaada"/>
<rect x="76.73" y="616.27" width="11.79" height="5.06" fill="#7473b8"/>
<rect x="87.92" y="616.27" width="11.79" height="5.06" fill="#aaaada"/>
<rect x="99.11" y="616.27" width="11.79" height="5.06" fill="#eab7b8"/>
<rect x="110.30" y="616.27" width="11.79" height="5.06" fill="#ffffff"/>
<rect x="121.49" y="616.27" width="11.79" height="5.06" fill="#eab7b8"/>
<rect x="132.68" y="616.27" width="11.79" height="5.06" fill="#d25a59"/>
<rect x="143.86" y="616.27" width="11.79" height="5.06" fill="#f5dcdc"/>
<rect x="155.05" y="616.27" width="11.79" height="5.06" fill="#df8e8f"/>
<rect x="166.24" y="616.27" width="11.79" height="5.06" fill="#d5d5ee"/>
<rect x="177.43" y="616.27" width="11.79" height="5.06" fill="#f5dcdc"/>
<rect x="188.62" y="616.27" width="22.38" height="5.06" fill="#f0caca"/>
<rect x="54.35" y="620.74" width="22.98" height="5.06" fill="#9898cf"/>
<rect x="76.73" y="620.74" width="22.98" height="5.06" fill="#aaaada"/>
<rect x="99.11" y="620.74" width="22.98" height="5.06" fill="#df8e8f"/>
<rect x="121.49" y="620.74" width="11.79" height="5.06" fill="#e4a2a4"/>
<rect x="132.68" y="620.74" width="11.79" height="5.06" fill="#df8e8f"/>
<rect x="143.86" y="620.74" width="11.79" height="5.06" fill="#d25a59"/>
<rect x="155.05" y="620.74" width="11.79" height="5.06" fill="#f0caca"/>
<rect x="166.24" y="620.74" width="22.98" height="5.06" fill="#aaaada"/>
<rect x="188.62" y="620.74" width="11.79" height="5.06" fill="#faeeee"/>
<rect x="199.81" y="620.74" width="11.19" height="5.06" fill="#6260ac"/>
<rect x="54.35" y="625.20" width="11.79" height="5.06" fill="#9898cf"/>
<rect x="65.54" y="625.20" width="11.79" height="5.06" fill="#6260ac"/>
<rect x="76.73" y="625.20" width="11.79" height="5.06" fill="#aaaada"/>
<rect x="87.92" y="625.20" width="11.79" height="5.06" fill="#d5d5ee"/>
<rect x="99.11" y="625.20" width="22.98" height="5.06" fill="#eab7b8"/>
<rect x="121.49" y="625.20" width="11.79" height="5.06" fill="#d66a6a"/>
<rect x="132.68" y="625.20" width="11.79" height="5.06" fill="#cf4a48"/>
<rect x="143.86" y="625.20" width="11.79" height="5.06" fill="#da7c7c"/>
<rect x="155.05" y="625.20" width="11.79" height="5.06" fill="#d5d5ee"/>
<rect x="166.24" y="625.20" width="11.79" height="5.06" fill="#c0c0e4"/>
<rect x="177.43" y="625.20" width="11.79" height="5.06" fill="#eaeaf6"/>
<rect x="188.62" y="625.20" width="11.79" height="5.06" fill="#faeeee"/>
<rect x="199.81" y="625.20" width="11.19" height="5.06" fill="#9898cf"/>
<rect x="54.35" y="629.66" width="22.98" height="5.06" fill="#9898cf"/>
<rect x="76.73" y="629.66" width="22.98" height="5.06" fill="#8686c4"/>
<rect x="99.11" y="629.66" width="11.79" height="5.06" fill="#d25a59"/>
<rect x="110.30" y="629.66" width="11.79" height="5.06" fill="#d66a6a"/>
<rect x="121.49" y="629.66" width="11.79" height="5.06" fill="#f0caca"/>
<rect x="132.68" y="629.66" width="11.79" height="5.06" fill="#eab7b8"/>
<rect x="143.86" y="629.66" width="11.79" height="5.06" fill="#da7c7c"/>
<rect x="155.05" y="629.66" width="11.79" height="5.06" fill="#ffffff"/>
<rect x="166.24" y="629.66" width="11.79" height="5.06" fill="#d5d5ee"/>
<rect x="177.43" y="629.66" width="11.79" height="5.06" fill="#eaeaf6"/>
<rect x="188.62" y="629.66" width="11.79" height="5.06" fill="#ffffff"/>
<rect x="199.81" y="629.66" width="11.19" height="5.06" fill="#aaaada"/>
<rect x="54.35" y="634.12" width="11.79" height="5.06" fill="#9898cf"/>
<rect x="65.54" y="634.12" width="22.98" height="5.06" fill="#aaaada"/>
<rect x="87.92" y="634.12" width="11.79" height="5.06" fill="#9898cf"/>
<rect x="99.11" y="634.12" width="11.79" height="5.06" fill="#df8e8f"/>
<rect x="110.30" y="634.12" width="22.98" height="5.06" fill="#eaeaf6"/>
<rect x="132.68" y="634.12" width="11.79" height="5.06" fill="#c82820"/>
<rect x="143.86" y="634.12" width="11.79" height="5.06" fill="#f0caca"/>
<rect x="155.05" y="634.12" width="11.79" height="5.06" fill="#da7c7c"/>
<rect x="166.24" y="634.12" width="11.79" height="5.06" fill="#aaaada"/>
<rect x="177.43" y="634.12" width="11.79" height="5.06" fill="#d5d5ee"/>
<rect x="188.62" y="634.12" width="22.38" height="5.06" fill="#ffffff"/>
<rect x="54.35" y="638.59" width="11.79" height="5.06" fill="#d5d5ee"/>
<rect x="65.54" y="638.59" width="11.79" height="5.06" fill="#aaaada"/>
<rect x="76.73" y="638.59" width="34.17" height="5.06" fill="#eaeaf6"/>
<rect x="110.30" y="638.59" width="11.79" height="5.06" fill="#c82820"/>
<rect x="121.49" y="638.59" width="11.79" height="5.06" fill="#cf4a48"/>
<rect x="132.68" y="638.59" width="11.79" height="5.06" fill="#eaeaf6"/>
<rect x="143.86" y="638.59" width="11.79" height="5.06" fill="#aaaada"/>
<rect x="155.05" y="638.59" width="11.79" height="5.06" fill="#9898cf"/>
<rect x="166.24" y="638.59" width="11.79" height="5.06" fill="#d5d5ee"/>
<rect x="177.43" y="638.59" width="11.79" height="5.06" fill="#eaeaf6"/>
<rect x="188.62" y="638.59" width="11.79" height="5.06" fill="#d5d5ee"/>
<rect x="199.81" y="638.59" width="11.19" height="5.06" fill="#eaeaf6"/>
<rect x="54.35" y="643.05" width="45.36" height="5.06" fill="#9898cf"/>
<rect x="99.11" y="643.05" width="11.79" height="5.06" fill="#df8e8f"/>
<rect x="110.30" y="643.05" width="11.79" height="5.06" fill="#d66a6a"/>
<rect x="121.49" y="643.05" width="11.79" height="5.06" fill="#df8e8f"/>
<rect x="132.68" y="643.05" width="11.79" height="5.06" fill="#d66a6a"/>
<rect x="143.86" y="643.05" width="11.79" height="5.06" fill="#d25a59"/>
<rect x="155.05" y="643.05" width="11.79" height="5.06" fill="#ffffff"/>
<rect x="166.24" y="643.05" width="22.98" height="5.06" fill="#d5d5ee"/>
<rect x="188.62" y="643.05" width="11.79" height="5.06" fill="#aaaada"/>
<rect x="199.81" y="643.05" width="11.19" height="5.06" fill="#9898cf"/>
<rect x="54.35" y="647.51" width="34.17" height="5.06" fill="#8686c4"/>
<rect x="87.92" y="647.51" width="11.79" height="5.06" fill="#7473b8"/>
<rect x="99.11" y="647.51" width="11.79" height="5.06" fill="#f5dcdc"/>
<rect x="110.30" y="647.51" width="11.79" height="5.06" fill="#eab7b8"/>
<rect x="121.49" y="647.51" width="11.79" height="5.06" fill="#df8e8f"/>
<rect x="132.68" y="647.51" width="11.79" height="5.06" fill="#d5d5ee"/>
<rect x="143.86" y="647.51" width="11.79" height="5.06" fill="#cf4a48"/>
<rect x="155.05" y="647.51" width="11.79" height="5.06" fill="#da7c7c"/>
<rect x="166.24" y="647.51" width="11.79" height="5.06" fill="#aaaada"/>
<rect x="177.43" y="647.51" width="11.79" height="5.06" fill="#f0caca"/>
<rect x="188.62" y="647.51" width="11.79" height="5.06" fill="#eab7b8"/>
<rect x="199.81" y="647.51" width="11.19" height="5.06" fill="#d5d5ee"/>
<rect x="54.35" y="651.98" width="11.79" height="5.06" fill="#c0c0e4"/>
<rect x="65.54" y="651.98" width="22.98" height="5.06" fill="#d5d5ee"/>
<rect x="87.92" y="651.98" width="11.79" height="5.06" fill="#9898cf"/>
<rect x="99.11" y="651.98" width="11.79" height="5.06" fill="#cc3934"/>
<rect x="110.30" y="651.98" width="11.79" height="5.06" fill="#eaeaf6"/>
<rect x="121.49" y="651.98" width="11.79" height="5.06" fill="#d66a6a"/>
<rect x="132.68" y="651.98" width="11.79" height="5.06" fill="#c0c0e4"/>
<rect x="143.86" y="651.98" width="11.79" height="5.06" fill="#cf4a48"/>
<rect x="155.05" y="651.98" width="11.79" height="5.06" fill="#aaaada"/>
<rect x="166.24" y="651.98" width="11.79" height="5.06" fill="#d5d5ee"/>
<rect x="177.43" y="651.98" width="11.79" height="5.06" fill="#9898cf"/>
<rect x="188.62" y="651.98" width="11.79" height="5.06" fill="#eaeaf6"/>
<rect x="199.81" y="651.98" width="11.19" height="5.06" fill="#d5d5ee"/>
<rect x="54.35" y="656.44" width="11.79" height="5.06" fill="#aaaada"/>
<rect x="65.54" y="656.44" width="22.98" height="5.06" fill="#d5d5ee"/>
<rect x="87.92" y="656.44" width="11.79" height="5.06" fill="#eaeaf6"/>
<rect x="99.11" y="656.44" width="22.98" height="5.06" fill="#df8e8f"/>
<rect x="121.49" y="656.44" width="11.79" height="5.06" fill="#f5dcdc"/>
<rect x="132.68" y="656.44" width="11.79" height="5.06" fill="#cf4a48"/>
<rect x="143.86" y="656.44" width="11.79" height="5.06" fill="#d66a6a"/>
<rect x="155.05" y="656.44" width="11.79" height="5.06" fill="#eab7b8"/>
<rect x="166.24" y="656.44" width="11.79" height="5.06" fill="#d5d5ee"/>
<rect x="177.43" y="656.44" width="11.79" height="5.06" fill="#7473b8"/>
<rect x="188.62" y="656.44" width="11.79" height="5.06" fill="#6260ac"/>
<rect x="199.81" y="656.44" width="11.19" height="5.06" fill="#8686c4"/>
<rect x="54.35" y="660.90" width="11.79" height="5.06" fill="#5550a2"/>
<rect x="65.54" y="660.90" width="11.79" height="5.06" fill="#8686c4"/>
<rect x="76.73" y="660.90" width="22.98" height="5.06" fill="#6260ac"/>
<rect x="99.11" y="660.90" width="11.79" height="5.06" fill="#f0caca"/>
<rect x="110.30" y="660.90" width="11.79" height="5.06" fill="#f5dcdc"/>
<rect x="121.49" y="660.90" width="11.79" height="5.06" fill="#eab7b8"/>
<rect x="132.68" y="660.90" width="11.79" height="5.06" fill="#da7c7c"/>
<rect x="143.86" y="660.90" width="67.14" height="5.06" fill="#eab7b8"/>
<rect x="54.35" y="665.36" width="11.79" height="5.06" fill="#eaeaf6"/>
<rect x="65.54" y="665.36" width="22.98" height="5.06" fill="#d5d5ee"/>
<rect x="87.92" y="665.36" width="11.79" height="5.06" fill="#c0c0e4"/>
<rect x="99.11" y="665.36" width="11.79" height="5.06" fill="#df8e8f"/>
<rect x="110.30" y="665.36" width="22.98" height="5.06" fill="#d25a59"/>
<rect x="132.68" y="665.36" width="11.79" height="5.06" fill="#ffffff"/>
<rect x="143.86" y="665.36" width="11.79" height="5.06" fill="#da7c7c"/>
<rect x="155.05" y="665.36" width="11.79" height="5.06" fill="#8686c4"/>
<rect x="166.24" y="665.36" width="11.79" height="5.06" fill="#d5d5ee"/>
<rect x="177.43" y="665.36" width="11.79" height="5.06" fill="#8686c4"/>
<rect x="188.62" y="665.36" width="11.79" height="5.06" fill="#eaeaf6"/>
<rect x="199.81" y="665.36" width="11.19" height="5.06" fill="#6260ac"/>
<rect x="54.35" y="669.83" width="45.36" height="5.06" fill="#8686c4"/>
<rect x="99.11" y="669.83" width="11.79" height="5.06" fill="#9898cf"/>
<rect x="110.30" y="669.83" width="11.79" height="5.06" fill="#d66a6a"/>
<rect x="121.49" y="669.83" width="11.79" height="5.06" fill="#eaeaf6"/>
<rect x="132.68" y="669.83" width="22.98" height="5.06" fill="#eab7b8"/>
<rect x="155.05" y="669.83" width="11.79" height="5.06" fill="#faeeee"/>
<rect x="166.24" y="669.83" width="11.79" height="5.06" fill="#ffffff"/>
<rect x="177.43" y="669.83" width="11.79" height="5.06" fill="#da7c7c"/>
<rect x="188.62" y="669.83" width="11.79" height="5.06" fill="#ffffff"/>
<rect x="199.81" y="669.83" width="11.19" height="5.06" fill="#cf4a48"/>
<rect x="54.35" y="674.29" width="11.79" height="4.46" fill="#d5d5ee"/>
<rect x="65.54" y="674.29" width="22.98" height="4.46" fill="#c0c0e4"/>
<rect x="87.92" y="674.29" width="22.98" height="4.46" fill="#d5d5ee"/>
<rect x="110.30" y="674.29" width="22.98" height="4.46" fill="#cc3934"/>
<rect x="132.68" y="674.29" width="11.79" height="4.46" fill="#df8e8f"/>
<rect x="143.86" y="674.29" width="11.79" height="4.46" fill="#f5dcdc"/>
<rect x="155.05" y="674.29" width="11.79" height="4.46" fill="#aaaada"/>
<rect x="166.24" y="674.29" width="34.17" height="4.46" fill="#d5d5ee"/>
<rect x="199.81" y="674.29" width="11.19" height="4.46" fill="#aaaada"/>
</g>
<g font-size="3.8" fill="#111" >
<text transform="translate(214.30 414.56) rotate(0.4)">Actb1</text>
<text transform="translate(214.30 419.02) rotate(0.4)">Cited2</text>
<text transform="translate(214.30 423.49) rotate(0.4)">Dennd3</text>
<text transform="translate(214.30 427.95) rotate(0.4)">Gtse1</text>
<text transform="translate(214.30 432.41) rotate(0.4)">Cep55</text>
<text transform="translate(214.30 436.87) rotate(0.4)">Mdfi1</text>
<text transform="translate(214.30 441.34) rotate(0.4)">Pim2</text>
<text transform="translate(214.30 445.80) rotate(0.4)">Ube5</text>
<text transform="translate(214.30 450.26) rotate(0.4)">Slc43a1</text>
<text transform="translate(214.30 454.72) rotate(0.4)">Scarb2</text>
<text transform="translate(214.30 459.19) rotate(0.4)">Map3k1</text>
<text transform="translate(214.30 463.65) rotate(0.4)">Lyl1</text>
<text transform="translate(214.30 468.11) rotate(0.4)">Hhex</text>
<text transform="translate(214.30 472.57) rotate(0.4)">Gsn</text>
<text transform="translate(214.30 477.04) rotate(0.4)">Cstb</text>
<text transform="translate(214.30 481.50) rotate(0.4)">Rpp38</text>
<text transform="translate(214.30 485.96) rotate(0.4)">Sh2d1a</text>
<text transform="translate(214.30 490.42) rotate(0.4)">Angpt1</text>
<text transform="translate(214.30 494.89) rotate(0.4)">Cdc25b</text>
<text transform="translate(214.30 499.35) rotate(0.4)">Nfe2</text>
<text transform="translate(214.30 503.81) rotate(0.4)">Erf2</text>
<text transform="translate(214.30 508.27) rotate(0.4)">Stk10</text>
<text transform="translate(214.30 512.74) rotate(0.4)">Hdgfrp3</text>
<text transform="translate(214.30 517.20) rotate(0.4)">Tgfb1</text>
<text transform="translate(214.30 521.66) rotate(0.4)">Ubash3a</text>
<text transform="translate(214.30 526.12) rotate(0.4)">Mcl1</text>
<text transform="translate(214.30 530.59) rotate(0.4)">Igf2r</text>
<text transform="translate(214.30 535.05) rotate(0.4)">Oxsr1</text>
<text transform="translate(214.30 539.51) rotate(0.4)">Myh10</text>
<text transform="translate(214.30 543.97) rotate(0.4)">F2r</text>
<text transform="translate(214.30 548.44) rotate(0.4)">Rora</text>
<text transform="translate(214.30 552.90) rotate(0.4)">Arid3a</text>
<text transform="translate(214.30 557.36) rotate(0.4)">Pdzd2</text>
<text transform="translate(214.30 561.82) rotate(0.4)">Tspan32</text>
<text transform="translate(214.30 566.29) rotate(0.4)">Cd8a</text>
<text transform="translate(214.30 570.75) rotate(0.4)">Atp8a2</text>
<text transform="translate(214.30 575.21) rotate(0.4)">Galnt1</text>
<text transform="translate(214.30 579.67) rotate(0.4)">Tsnip</text>
<text transform="translate(214.30 584.14) rotate(0.4)">Sgsm1</text>
<text transform="translate(214.30 588.60) rotate(0.4)">Crmp5</text>
<text transform="translate(214.30 593.06) rotate(0.4)">Pdgfrb</text>
<text transform="translate(214.30 597.52) rotate(0.4)">Lef1</text>
<text transform="translate(214.30 601.99) rotate(0.4)">Slc16a1</text>
<text transform="translate(214.30 606.45) rotate(0.4)">Rasgrp1</text>
<text transform="translate(214.30 610.91) rotate(0.4)">Ccnd3</text>
<text transform="translate(214.30 615.37) rotate(0.4)">Cd247</text>
<text transform="translate(214.30 619.84) rotate(0.4)">Cd164</text>
<text transform="translate(214.30 624.30) rotate(0.4)">Lgals1</text>
<text transform="translate(214.30 628.76) rotate(0.4)">Tcf7</text>
<text transform="translate(214.30 633.22) rotate(0.4)">Mdk</text>
<text transform="translate(214.30 637.69) rotate(0.4)">Eno2</text>
<text transform="translate(214.30 642.15) rotate(0.4)">Col18a1</text>
<text transform="translate(214.30 646.61) rotate(0.4)">Nova1</text>
<text transform="translate(214.30 651.07) rotate(0.4)">Nt5e</text>
<text transform="translate(214.30 655.54) rotate(0.4)">Grb10</text>
<text transform="translate(214.30 660.00) rotate(0.4)">Smtb2</text>
<text transform="translate(214.30 664.46) rotate(0.4)">Btg3</text>
<text transform="translate(214.30 668.92) rotate(0.4)">Slx1</text>
<text transform="translate(214.30 673.39) rotate(0.4)">Ptgs1</text>
<text transform="translate(214.30 677.85) rotate(0.4)">Ankrd36</text>
</g>
<path d="M55.0 681.4H212.0" stroke="#000" stroke-width="1.2" fill="none"/>
<path d="M55.0 680.8V684.6" stroke="#000" stroke-width="1" fill="none"/>
<path d="M99.3 680.8V684.6" stroke="#000" stroke-width="1" fill="none"/>
<path d="M155.0 680.8V684.6" stroke="#000" stroke-width="1" fill="none"/>
<path d="M212.0 680.8V684.6" stroke="#000" stroke-width="1" fill="none"/>
<g font-size="8.8" font-style="italic" fill="#111" stroke="#111" stroke-width="0.18">
<text x="72.50" y="695.2" textLength="10.0" lengthAdjust="spacingAndGlyphs">B6</text>
<text x="110.20" y="695.2" textLength="33.6" lengthAdjust="spacingAndGlyphs">Lmo2-tg</text>
<text x="165.50" y="695.2" textLength="37.4" lengthAdjust="spacingAndGlyphs">Rag1-Cre</text>
<text x="168.50" y="705.8000000000001" textLength="31.4" lengthAdjust="spacingAndGlyphs">Ldb1<tspan font-size="6.9" dy="-3.1" stroke-width="0.14">fl/fl</tspan><tspan dy="3.1">;</tspan></text>
<text x="167.40" y="716.4000000000001" textLength="33.6" lengthAdjust="spacingAndGlyphs">Lmo2-tg</text>
</g>
<text transform="translate(265.7 368.3) scale(1.1 1)" x="0" y="0" font-size="12.4" font-weight="bold" fill="#000" stroke="#000" stroke-width="0.2">D</text>
<rect x="310.1" y="371.7" width="166.59999999999997" height="13.699999999999989" fill="url(#cb)" stroke="#000" stroke-width="0.75"/>
<line x1="331.8" y1="385.4" x2="331.8" y2="388.29999999999995" stroke="#000" stroke-width="0.95"/>
<text x="331.8" y="399.7" font-size="9.2" text-anchor="middle" fill="#111" stroke="#111" stroke-width="0.15">-2</text>
<line x1="362.5" y1="385.4" x2="362.5" y2="388.29999999999995" stroke="#000" stroke-width="0.95"/>
<text x="362.5" y="399.7" font-size="9.2" text-anchor="middle" fill="#111" stroke="#111" stroke-width="0.15">-1</text>
<line x1="393.3" y1="385.4" x2="393.3" y2="388.29999999999995" stroke="#000" stroke-width="0.95"/>
<text x="393.3" y="399.7" font-size="9.2" text-anchor="middle" fill="#111" stroke="#111" stroke-width="0.15">0</text>
<line x1="424.3" y1="385.4" x2="424.3" y2="388.29999999999995" stroke="#000" stroke-width="0.95"/>
<text x="424.3" y="399.7" font-size="9.2" text-anchor="middle" fill="#111" stroke="#111" stroke-width="0.15">1</text>
<line x1="455" y1="385.4" x2="455" y2="388.29999999999995" stroke="#000" stroke-width="0.95"/>
<text x="455" y="399.7" font-size="9.2" text-anchor="middle" fill="#111" stroke="#111" stroke-width="0.15">2</text>
<g>
<rect x="311.40" y="411.00" width="11.74" height="4.97" fill="#df8e8f"/>
<rect x="322.54" y="411.00" width="11.74" height="4.97" fill="#eab7b8"/>
<rect x="333.69" y="411.00" width="11.74" height="4.97" fill="#df8e8f"/>
<rect x="344.83" y="411.00" width="11.74" height="4.97" fill="#d25a59"/>
<rect x="355.97" y="411.00" width="11.74" height="4.97" fill="#6260ac"/>
<rect x="367.11" y="411.00" width="11.74" height="4.97" fill="#9898cf"/>
<rect x="378.26" y="411.00" width="11.74" height="4.97" fill="#f5dcdc"/>
<rect x="389.40" y="411.00" width="11.74" height="4.97" fill="#484098"/>
<rect x="400.54" y="411.00" width="11.74" height="4.97" fill="#5550a2"/>
<rect x="411.69" y="411.00" width="11.74" height="4.97" fill="#eaeaf6"/>
<rect x="422.83" y="411.00" width="11.74" height="4.97" fill="#e4a2a4"/>
<rect x="433.97" y="411.00" width="11.74" height="4.97" fill="#eab7b8"/>
<rect x="445.11" y="411.00" width="11.74" height="4.97" fill="#faeeee"/>
<rect x="456.26" y="411.00" width="11.14" height="4.97" fill="#7473b8"/>
<rect x="311.40" y="415.37" width="11.74" height="4.97" fill="#eab7b8"/>
<rect x="322.54" y="415.37" width="11.74" height="4.97" fill="#da7c7c"/>
<rect x="333.69" y="415.37" width="11.74" height="4.97" fill="#df8e8f"/>
<rect x="344.83" y="415.37" width="11.74" height="4.97" fill="#d66a6a"/>
<rect x="355.97" y="415.37" width="11.74" height="4.97" fill="#7473b8"/>
<rect x="367.11" y="415.37" width="11.74" height="4.97" fill="#484098"/>
<rect x="378.26" y="415.37" width="11.74" height="4.97" fill="#eaeaf6"/>
<rect x="389.40" y="415.37" width="11.74" height="4.97" fill="#8686c4"/>
<rect x="400.54" y="415.37" width="11.74" height="4.97" fill="#3a2c8c"/>
<rect x="411.69" y="415.37" width="11.74" height="4.97" fill="#c0c0e4"/>
<rect x="422.83" y="415.37" width="11.74" height="4.97" fill="#f0caca"/>
<rect x="433.97" y="415.37" width="11.74" height="4.97" fill="#e4a2a4"/>
<rect x="445.11" y="415.37" width="11.74" height="4.97" fill="#f0caca"/>
<rect x="456.26" y="415.37" width="11.14" height="4.97" fill="#e4a2a4"/>
<rect x="311.40" y="419.74" width="11.74" height="4.97" fill="#cf4a48"/>
<rect x="322.54" y="419.74" width="11.74" height="4.97" fill="#eab7b8"/>
<rect x="333.69" y="419.74" width="22.89" height="4.97" fill="#d25a59"/>
<rect x="355.97" y="419.74" width="11.74" height="4.97" fill="#6260ac"/>
<rect x="367.11" y="419.74" width="22.89" height="4.97" fill="#9898cf"/>
<rect x="389.40" y="419.74" width="11.74" height="4.97" fill="#8686c4"/>
<rect x="400.54" y="419.74" width="22.89" height="4.97" fill="#c0c0e4"/>
<rect x="422.83" y="419.74" width="11.74" height="4.97" fill="#d5d5ee"/>
<rect x="433.97" y="419.74" width="11.74" height="4.97" fill="#ffffff"/>
<rect x="445.11" y="419.74" width="11.74" height="4.97" fill="#eab7b8"/>
<rect x="456.26" y="419.74" width="11.14" height="4.97" fill="#9898cf"/>
<rect x="311.40" y="424.11" width="11.74" height="4.97" fill="#da7c7c"/>
<rect x="322.54" y="424.11" width="11.74" height="4.97" fill="#df8e8f"/>
<rect x="333.69" y="424.11" width="11.74" height="4.97" fill="#d25a59"/>
<rect x="344.83" y="424.11" width="11.74" height="4.97" fill="#d66a6a"/>
<rect x="355.97" y="424.11" width="11.74" height="4.97" fill="#6260ac"/>
<rect x="367.11" y="424.11" width="11.74" height="4.97" fill="#f5dcdc"/>
<rect x="378.26" y="424.11" width="11.74" height="4.97" fill="#ffffff"/>
<rect x="389.40" y="424.11" width="11.74" height="4.97" fill="#3a2c8c"/>
<rect x="400.54" y="424.11" width="22.89" height="4.97" fill="#9898cf"/>
<rect x="422.83" y="424.11" width="22.89" height="4.97" fill="#d5d5ee"/>
<rect x="445.11" y="424.11" width="11.74" height="4.97" fill="#ffffff"/>
<rect x="456.26" y="424.11" width="11.14" height="4.97" fill="#eaeaf6"/>
<rect x="311.40" y="428.48" width="11.74" height="4.97" fill="#df8e8f"/>
<rect x="322.54" y="428.48" width="11.74" height="4.97" fill="#e4a2a4"/>
<rect x="333.69" y="428.48" width="22.89" height="4.97" fill="#d66a6a"/>
<rect x="355.97" y="428.48" width="11.74" height="4.97" fill="#8686c4"/>
<rect x="367.11" y="428.48" width="11.74" height="4.97" fill="#eaeaf6"/>
<rect x="378.26" y="428.48" width="11.74" height="4.97" fill="#e4a2a4"/>
<rect x="389.40" y="428.48" width="11.74" height="4.97" fill="#3a2c8c"/>
<rect x="400.54" y="428.48" width="11.74" height="4.97" fill="#d5d5ee"/>
<rect x="411.69" y="428.48" width="11.74" height="4.97" fill="#9898cf"/>
<rect x="422.83" y="428.48" width="11.74" height="4.97" fill="#d5d5ee"/>
<rect x="433.97" y="428.48" width="11.74" height="4.97" fill="#eaeaf6"/>
<rect x="445.11" y="428.48" width="11.74" height="4.97" fill="#f5dcdc"/>
<rect x="456.26" y="428.48" width="11.14" height="4.97" fill="#c0c0e4"/>
<rect x="311.40" y="432.84" width="45.17" height="4.97" fill="#df8e8f"/>
<rect x="355.97" y="432.84" width="11.74" height="4.97" fill="#eaeaf6"/>
<rect x="367.11" y="432.84" width="11.74" height="4.97" fill="#8686c4"/>
<rect x="378.26" y="432.84" width="11.74" height="4.97" fill="#3a2c8c"/>
<rect x="389.40" y="432.84" width="22.89" height="4.97" fill="#7473b8"/>
<rect x="411.69" y="432.84" width="11.74" height="4.97" fill="#ffffff"/>
<rect x="422.83" y="432.84" width="22.89" height="4.97" fill="#eab7b8"/>
<rect x="445.11" y="432.84" width="11.74" height="4.97" fill="#ffffff"/>
<rect x="456.26" y="432.84" width="11.14" height="4.97" fill="#eab7b8"/>
<rect x="311.40" y="437.21" width="11.74" height="4.97" fill="#d66a6a"/>
<rect x="322.54" y="437.21" width="11.74" height="4.97" fill="#d25a59"/>
<rect x="333.69" y="437.21" width="22.89" height="4.97" fill="#d66a6a"/>
<rect x="355.97" y="437.21" width="11.74" height="4.97" fill="#aaaada"/>
<rect x="367.11" y="437.21" width="11.74" height="4.97" fill="#8686c4"/>
<rect x="378.26" y="437.21" width="11.74" height="4.97" fill="#9898cf"/>
<rect x="389.40" y="437.21" width="22.89" height="4.97" fill="#8686c4"/>
<rect x="411.69" y="437.21" width="11.74" height="4.97" fill="#9898cf"/>
<rect x="422.83" y="437.21" width="11.74" height="4.97" fill="#faeeee"/>
<rect x="433.97" y="437.21" width="11.74" height="4.97" fill="#d5d5ee"/>
<rect x="445.11" y="437.21" width="11.74" height="4.97" fill="#aaaada"/>
<rect x="456.26" y="437.21" width="11.14" height="4.97" fill="#eab7b8"/>
<rect x="311.40" y="441.58" width="11.74" height="4.97" fill="#d66a6a"/>
<rect x="322.54" y="441.58" width="34.03" height="4.97" fill="#da7c7c"/>
<rect x="355.97" y="441.58" width="11.74" height="4.97" fill="#5550a2"/>
<rect x="367.11" y="441.58" width="11.74" height="4.97" fill="#8686c4"/>
<rect x="378.26" y="441.58" width="11.74" height="4.97" fill="#6260ac"/>
<rect x="389.40" y="441.58" width="11.74" height="4.97" fill="#aaaada"/>
<rect x="400.54" y="441.58" width="11.74" height="4.97" fill="#8686c4"/>
<rect x="411.69" y="441.58" width="11.74" height="4.97" fill="#ffffff"/>
<rect x="422.83" y="441.58" width="11.74" height="4.97" fill="#df8e8f"/>
<rect x="433.97" y="441.58" width="11.74" height="4.97" fill="#f5dcdc"/>
<rect x="445.11" y="441.58" width="11.74" height="4.97" fill="#c0c0e4"/>
<rect x="456.26" y="441.58" width="11.14" height="4.97" fill="#eab7b8"/>
<rect x="311.40" y="445.95" width="11.74" height="4.97" fill="#d66a6a"/>
<rect x="322.54" y="445.95" width="11.74" height="4.97" fill="#da7c7c"/>
<rect x="333.69" y="445.95" width="11.74" height="4.97" fill="#df8e8f"/>
<rect x="344.83" y="445.95" width="11.74" height="4.97" fill="#d66a6a"/>
<rect x="355.97" y="445.95" width="11.74" height="4.97" fill="#3a2c8c"/>
<rect x="367.11" y="445.95" width="11.74" height="4.97" fill="#ffffff"/>
<rect x="378.26" y="445.95" width="11.74" height="4.97" fill="#9898cf"/>
<rect x="389.40" y="445.95" width="11.74" height="4.97" fill="#5550a2"/>
<rect x="400.54" y="445.95" width="11.74" height="4.97" fill="#9898cf"/>
<rect x="411.69" y="445.95" width="11.74" height="4.97" fill="#d5d5ee"/>
<rect x="422.83" y="445.95" width="11.74" height="4.97" fill="#e4a2a4"/>
<rect x="433.97" y="445.95" width="22.89" height="4.97" fill="#ffffff"/>
<rect x="456.26" y="445.95" width="11.14" height="4.97" fill="#f5dcdc"/>
<rect x="311.40" y="450.32" width="11.74" height="4.97" fill="#cf4a48"/>
<rect x="322.54" y="450.32" width="11.74" height="4.97" fill="#eab7b8"/>
<rect x="333.69" y="450.32" width="11.74" height="4.97" fill="#d66a6a"/>
<rect x="344.83" y="450.32" width="11.74" height="4.97" fill="#e4a2a4"/>
<rect x="355.97" y="450.32" width="11.74" height="4.97" fill="#f0caca"/>
<rect x="367.11" y="450.32" width="11.74" height="4.97" fill="#aaaada"/>
<rect x="378.26" y="450.32" width="11.74" height="4.97" fill="#3a2c8c"/>
<rect x="389.40" y="450.32" width="11.74" height="4.97" fill="#d5d5ee"/>
<rect x="400.54" y="450.32" width="11.74" height="4.97" fill="#9898cf"/>
<rect x="411.69" y="450.32" width="11.74" height="4.97" fill="#eaeaf6"/>
<rect x="422.83" y="450.32" width="11.74" height="4.97" fill="#eab7b8"/>
<rect x="433.97" y="450.32" width="11.74" height="4.97" fill="#eaeaf6"/>
<rect x="445.11" y="450.32" width="11.74" height="4.97" fill="#9898cf"/>
<rect x="456.26" y="450.32" width="11.14" height="4.97" fill="#f5dcdc"/>
<rect x="311.40" y="454.69" width="11.74" height="4.97" fill="#e4a2a4"/>
<rect x="322.54" y="454.69" width="11.74" height="4.97" fill="#da7c7c"/>
<rect x="333.69" y="454.69" width="22.89" height="4.97" fill="#e4a2a4"/>
<rect x="355.97" y="454.69" width="11.74" height="4.97" fill="#6260ac"/>
<rect x="367.11" y="454.69" width="11.74" height="4.97" fill="#d5d5ee"/>
<rect x="378.26" y="454.69" width="11.74" height="4.97" fill="#5550a2"/>
<rect x="389.40" y="454.69" width="11.74" height="4.97" fill="#484098"/>
<rect x="400.54" y="454.69" width="11.74" height="4.97" fill="#eaeaf6"/>
<rect x="411.69" y="454.69" width="11.74" height="4.97" fill="#eab7b8"/>
<rect x="422.83" y="454.69" width="11.74" height="4.97" fill="#f5dcdc"/>
<rect x="433.97" y="454.69" width="11.74" height="4.97" fill="#9898cf"/>
<rect x="445.11" y="454.69" width="11.74" height="4.97" fill="#eaeaf6"/>
<rect x="456.26" y="454.69" width="11.14" height="4.97" fill="#cf4a48"/>
<rect x="311.40" y="459.06" width="11.74" height="4.97" fill="#eab7b8"/>
<rect x="322.54" y="459.06" width="11.74" height="4.97" fill="#df8e8f"/>
<rect x="333.69" y="459.06" width="22.89" height="4.97" fill="#e4a2a4"/>
<rect x="355.97" y="459.06" width="22.89" height="4.97" fill="#3a2c8c"/>
<rect x="378.26" y="459.06" width="11.74" height="4.97" fill="#8686c4"/>
<rect x="389.40" y="459.06" width="11.74" height="4.97" fill="#ffffff"/>
<rect x="400.54" y="459.06" width="11.74" height="4.97" fill="#aaaada"/>
<rect x="411.69" y="459.06" width="22.89" height="4.97" fill="#eab7b8"/>
<rect x="433.97" y="459.06" width="11.74" height="4.97" fill="#e4a2a4"/>
<rect x="445.11" y="459.06" width="11.74" height="4.97" fill="#eab7b8"/>
<rect x="456.26" y="459.06" width="11.14" height="4.97" fill="#df8e8f"/>
<rect x="311.40" y="463.43" width="11.74" height="4.97" fill="#e4a2a4"/>
<rect x="322.54" y="463.43" width="11.74" height="4.97" fill="#d25a59"/>
<rect x="333.69" y="463.43" width="11.74" height="4.97" fill="#d66a6a"/>
<rect x="344.83" y="463.43" width="11.74" height="4.97" fill="#eab7b8"/>
<rect x="355.97" y="463.43" width="11.74" height="4.97" fill="#484098"/>
<rect x="367.11" y="463.43" width="11.74" height="4.97" fill="#f0caca"/>
<rect x="378.26" y="463.43" width="11.74" height="4.97" fill="#c0c0e4"/>
<rect x="389.40" y="463.43" width="11.74" height="4.97" fill="#484098"/>
<rect x="400.54" y="463.43" width="11.74" height="4.97" fill="#5550a2"/>
<rect x="411.69" y="463.43" width="11.74" height="4.97" fill="#d5d5ee"/>
<rect x="422.83" y="463.43" width="11.74" height="4.97" fill="#eaeaf6"/>
<rect x="433.97" y="463.43" width="11.74" height="4.97" fill="#e4a2a4"/>
<rect x="445.11" y="463.43" width="11.74" height="4.97" fill="#faeeee"/>
<rect x="456.26" y="463.43" width="11.14" height="4.97" fill="#f5dcdc"/>
<rect x="311.40" y="467.80" width="11.74" height="4.97" fill="#cf4a48"/>
<rect x="322.54" y="467.80" width="11.74" height="4.97" fill="#df8e8f"/>
<rect x="333.69" y="467.80" width="22.89" height="4.97" fill="#d66a6a"/>
<rect x="355.97" y="467.80" width="11.74" height="4.97" fill="#9898cf"/>
<rect x="367.11" y="467.80" width="11.74" height="4.97" fill="#ffffff"/>
<rect x="378.26" y="467.80" width="11.74" height="4.97" fill="#f0caca"/>
<rect x="389.40" y="467.80" width="11.74" height="4.97" fill="#3a2c8c"/>
<rect x="400.54" y="467.80" width="11.74" height="4.97" fill="#d5d5ee"/>
<rect x="411.69" y="467.80" width="11.74" height="4.97" fill="#7473b8"/>
<rect x="422.83" y="467.80" width="11.74" height="4.97" fill="#eaeaf6"/>
<rect x="433.97" y="467.80" width="11.74" height="4.97" fill="#9898cf"/>
<rect x="445.11" y="467.80" width="11.74" height="4.97" fill="#c0c0e4"/>
<rect x="456.26" y="467.80" width="11.14" height="4.97" fill="#f5dcdc"/>
<rect x="311.40" y="472.16" width="11.74" height="4.97" fill="#cf4a48"/>
<rect x="322.54" y="472.16" width="11.74" height="4.97" fill="#da7c7c"/>
<rect x="333.69" y="472.16" width="11.74" height="4.97" fill="#df8e8f"/>
<rect x="344.83" y="472.16" width="11.74" height="4.97" fill="#d66a6a"/>
<rect x="355.97" y="472.16" width="11.74" height="4.97" fill="#d5d5ee"/>
<rect x="367.11" y="472.16" width="11.74" height="4.97" fill="#c0c0e4"/>
<rect x="378.26" y="472.16" width="11.74" height="4.97" fill="#d5d5ee"/>
<rect x="389.40" y="472.16" width="11.74" height="4.97" fill="#c0c0e4"/>
<rect x="400.54" y="472.16" width="11.74" height="4.97" fill="#9898cf"/>
<rect x="411.69" y="472.16" width="11.74" height="4.97" fill="#7473b8"/>
<rect x="422.83" y="472.16" width="11.74" height="4.97" fill="#e4a2a4"/>
<rect x="433.97" y="472.16" width="11.74" height="4.97" fill="#9898cf"/>
<rect x="445.11" y="472.16" width="11.74" height="4.97" fill="#413692"/>
<rect x="456.26" y="472.16" width="11.14" height="4.97" fill="#faeeee"/>
<rect x="311.40" y="476.53" width="11.74" height="4.97" fill="#cf4a48"/>
<rect x="322.54" y="476.53" width="22.89" height="4.97" fill="#da7c7c"/>
<rect x="344.83" y="476.53" width="11.74" height="4.97" fill="#d66a6a"/>
<rect x="355.97" y="476.53" width="11.74" height="4.97" fill="#c0c0e4"/>
<rect x="367.11" y="476.53" width="11.74" height="4.97" fill="#ffffff"/>
<rect x="378.26" y="476.53" width="11.74" height="4.97" fill="#f0caca"/>
<rect x="389.40" y="476.53" width="11.74" height="4.97" fill="#484098"/>
<rect x="400.54" y="476.53" width="11.74" height="4.97" fill="#ffffff"/>
<rect x="411.69" y="476.53" width="11.74" height="4.97" fill="#7473b8"/>
<rect x="422.83" y="476.53" width="11.74" height="4.97" fill="#9898cf"/>
<rect x="433.97" y="476.53" width="11.74" height="4.97" fill="#8686c4"/>
<rect x="445.11" y="476.53" width="11.74" height="4.97" fill="#c0c0e4"/>
<rect x="456.26" y="476.53" width="11.14" height="4.97" fill="#aaaada"/>
<rect x="311.40" y="480.90" width="11.74" height="4.97" fill="#d5d5ee"/>
<rect x="322.54" y="480.90" width="11.74" height="4.97" fill="#df8e8f"/>
<rect x="333.69" y="480.90" width="11.74" height="4.97" fill="#e4a2a4"/>
<rect x="344.83" y="480.90" width="11.74" height="4.97" fill="#faeeee"/>
<rect x="355.97" y="480.90" width="11.74" height="4.97" fill="#484098"/>
<rect x="367.11" y="480.90" width="11.74" height="4.97" fill="#c0c0e4"/>
<rect x="378.26" y="480.90" width="11.74" height="4.97" fill="#9898cf"/>
<rect x="389.40" y="480.90" width="22.89" height="4.97" fill="#6260ac"/>
<rect x="411.69" y="480.90" width="11.74" height="4.97" fill="#df8e8f"/>
<rect x="422.83" y="480.90" width="11.74" height="4.97" fill="#f5dcdc"/>
<rect x="433.97" y="480.90" width="11.74" height="4.97" fill="#df8e8f"/>
<rect x="445.11" y="480.90" width="11.74" height="4.97" fill="#da7c7c"/>
<rect x="456.26" y="480.90" width="11.14" height="4.97" fill="#cf4a48"/>
<rect x="311.40" y="485.27" width="11.74" height="4.97" fill="#e4a2a4"/>
<rect x="322.54" y="485.27" width="11.74" height="4.97" fill="#d66a6a"/>
<rect x="333.69" y="485.27" width="11.74" height="4.97" fill="#d25a59"/>
<rect x="344.83" y="485.27" width="11.74" height="4.97" fill="#da7c7c"/>
<rect x="355.97" y="485.27" width="11.74" height="4.97" fill="#6260ac"/>
<rect x="367.11" y="485.27" width="22.89" height="4.97" fill="#eaeaf6"/>
<rect x="389.40" y="485.27" width="11.74" height="4.97" fill="#3a2c8c"/>
<rect x="400.54" y="485.27" width="11.74" height="4.97" fill="#7473b8"/>
<rect x="411.69" y="485.27" width="22.89" height="4.97" fill="#eaeaf6"/>
<rect x="433.97" y="485.27" width="11.74" height="4.97" fill="#e4a2a4"/>
<rect x="445.11" y="485.27" width="11.74" height="4.97" fill="#c0c0e4"/>
<rect x="456.26" y="485.27" width="11.14" height="4.97" fill="#eab7b8"/>
<rect x="311.40" y="489.64" width="22.89" height="4.97" fill="#df8e8f"/>
<rect x="333.69" y="489.64" width="11.74" height="4.97" fill="#d25a59"/>
<rect x="344.83" y="489.64" width="11.74" height="4.97" fill="#d66a6a"/>
<rect x="355.97" y="489.64" width="11.74" height="4.97" fill="#6260ac"/>
<rect x="367.11" y="489.64" width="11.74" height="4.97" fill="#eaeaf6"/>
<rect x="378.26" y="489.64" width="11.74" height="4.97" fill="#ffffff"/>
<rect x="389.40" y="489.64" width="11.74" height="4.97" fill="#484098"/>
<rect x="400.54" y="489.64" width="11.74" height="4.97" fill="#7473b8"/>
<rect x="411.69" y="489.64" width="11.74" height="4.97" fill="#9898cf"/>
<rect x="422.83" y="489.64" width="11.74" height="4.97" fill="#eaeaf6"/>
<rect x="433.97" y="489.64" width="11.74" height="4.97" fill="#da7c7c"/>
<rect x="445.11" y="489.64" width="11.74" height="4.97" fill="#d5d5ee"/>
<rect x="456.26" y="489.64" width="11.14" height="4.97" fill="#eaeaf6"/>
<rect x="311.40" y="494.01" width="11.74" height="4.97" fill="#df8e8f"/>
<rect x="322.54" y="494.01" width="11.74" height="4.97" fill="#d66a6a"/>
<rect x="333.69" y="494.01" width="11.74" height="4.97" fill="#df8e8f"/>
<rect x="344.83" y="494.01" width="11.74" height="4.97" fill="#d66a6a"/>
<rect x="355.97" y="494.01" width="11.74" height="4.97" fill="#3a2c8c"/>
<rect x="367.11" y="494.01" width="11.74" height="4.97" fill="#aaaada"/>
<rect x="378.26" y="494.01" width="11.74" height="4.97" fill="#c0c0e4"/>
<rect x="389.40" y="494.01" width="11.74" height="4.97" fill="#413692"/>
<rect x="400.54" y="494.01" width="11.74" height="4.97" fill="#eaeaf6"/>
<rect x="411.69" y="494.01" width="22.89" height="4.97" fill="#ffffff"/>
<rect x="433.97" y="494.01" width="11.74" height="4.97" fill="#d5d5ee"/>
<rect x="445.11" y="494.01" width="11.74" height="4.97" fill="#f5dcdc"/>
<rect x="456.26" y="494.01" width="11.14" height="4.97" fill="#eab7b8"/>
<rect x="311.40" y="498.38" width="11.74" height="4.97" fill="#df8e8f"/>
<rect x="322.54" y="498.38" width="11.74" height="4.97" fill="#eab7b8"/>
<rect x="333.69" y="498.38" width="11.74" height="4.97" fill="#df8e8f"/>
<rect x="344.83" y="498.38" width="11.74" height="4.97" fill="#da7c7c"/>
<rect x="355.97" y="498.38" width="11.74" height="4.97" fill="#6260ac"/>
<rect x="367.11" y="498.38" width="11.74" height="4.97" fill="#eaeaf6"/>
<rect x="378.26" y="498.38" width="22.89" height="4.97" fill="#5550a2"/>
<rect x="400.54" y="498.38" width="11.74" height="4.97" fill="#7473b8"/>
<rect x="411.69" y="498.38" width="11.74" height="4.97" fill="#c0c0e4"/>
<rect x="422.83" y="498.38" width="11.74" height="4.97" fill="#d66a6a"/>
<rect x="433.97" y="498.38" width="11.74" height="4.97" fill="#f5dcdc"/>
<rect x="445.11" y="498.38" width="11.74" height="4.97" fill="#f0caca"/>
<rect x="456.26" y="498.38" width="11.14" height="4.97" fill="#e4a2a4"/>
<rect x="311.40" y="502.75" width="11.74" height="4.97" fill="#d66a6a"/>
<rect x="322.54" y="502.75" width="22.89" height="4.97" fill="#df8e8f"/>
<rect x="344.83" y="502.75" width="11.74" height="4.97" fill="#eab7b8"/>
<rect x="355.97" y="502.75" width="11.74" height="4.97" fill="#c0c0e4"/>
<rect x="367.11" y="502.75" width="11.74" height="4.97" fill="#eaeaf6"/>
<rect x="378.26" y="502.75" width="11.74" height="4.97" fill="#3a2c8c"/>
<rect x="389.40" y="502.75" width="11.74" height="4.97" fill="#6260ac"/>
<rect x="400.54" y="502.75" width="11.74" height="4.97" fill="#8686c4"/>
<rect x="411.69" y="502.75" width="11.74" height="4.97" fill="#eab7b8"/>
<rect x="422.83" y="502.75" width="22.89" height="4.97" fill="#ffffff"/>
<rect x="445.11" y="502.75" width="11.74" height="4.97" fill="#faeeee"/>
<rect x="456.26" y="502.75" width="11.14" height="4.97" fill="#e4a2a4"/>
<rect x="311.40" y="507.11" width="11.74" height="4.97" fill="#d25a59"/>
<rect x="322.54" y="507.11" width="11.74" height="4.97" fill="#df8e8f"/>
<rect x="333.69" y="507.11" width="11.74" height="4.97" fill="#d66a6a"/>
<rect x="344.83" y="507.11" width="11.74" height="4.97" fill="#da7c7c"/>
<rect x="355.97" y="507.11" width="11.74" height="4.97" fill="#7473b8"/>
<rect x="367.11" y="507.11" width="11.74" height="4.97" fill="#d5d5ee"/>
<rect x="378.26" y="507.11" width="11.74" height="4.97" fill="#eaeaf6"/>
<rect x="389.40" y="507.11" width="11.74" height="4.97" fill="#3a2c8c"/>
<rect x="400.54" y="507.11" width="11.74" height="4.97" fill="#d5d5ee"/>
<rect x="411.69" y="507.11" width="11.74" height="4.97" fill="#f5dcdc"/>
<rect x="422.83" y="507.11" width="11.74" height="4.97" fill="#aaaada"/>
<rect x="433.97" y="507.11" width="11.74" height="4.97" fill="#9898cf"/>
<rect x="445.11" y="507.11" width="11.74" height="4.97" fill="#ffffff"/>
<rect x="456.26" y="507.11" width="11.14" height="4.97" fill="#e4a2a4"/>
<rect x="311.40" y="511.48" width="11.74" height="4.97" fill="#d66a6a"/>
<rect x="322.54" y="511.48" width="22.89" height="4.97" fill="#da7c7c"/>
<rect x="344.83" y="511.48" width="11.74" height="4.97" fill="#d25a59"/>
<rect x="355.97" y="511.48" width="11.74" height="4.97" fill="#8686c4"/>
<rect x="367.11" y="511.48" width="11.74" height="4.97" fill="#c0c0e4"/>
<rect x="378.26" y="511.48" width="11.74" height="4.97" fill="#aaaada"/>
<rect x="389.40" y="511.48" width="11.74" height="4.97" fill="#7473b8"/>
<rect x="400.54" y="511.48" width="11.74" height="4.97" fill="#c0c0e4"/>
<rect x="411.69" y="511.48" width="11.74" height="4.97" fill="#6260ac"/>
<rect x="422.83" y="511.48" width="11.74" height="4.97" fill="#eab7b8"/>
<rect x="433.97" y="511.48" width="11.74" height="4.97" fill="#eaeaf6"/>
<rect x="445.11" y="511.48" width="11.74" height="4.97" fill="#c0c0e4"/>
<rect x="456.26" y="511.48" width="11.14" height="4.97" fill="#faeeee"/>
<rect x="311.40" y="515.85" width="22.89" height="4.97" fill="#da7c7c"/>
<rect x="333.69" y="515.85" width="11.74" height="4.97" fill="#d66a6a"/>
<rect x="344.83" y="515.85" width="11.74" height="4.97" fill="#cf4a48"/>
<rect x="355.97" y="515.85" width="11.74" height="4.97" fill="#8686c4"/>
<rect x="367.11" y="515.85" width="11.74" height="4.97" fill="#aaaada"/>
<rect x="378.26" y="515.85" width="11.74" height="4.97" fill="#c0c0e4"/>
<rect x="389.40" y="515.85" width="11.74" height="4.97" fill="#9898cf"/>
<rect x="400.54" y="515.85" width="11.74" height="4.97" fill="#c0c0e4"/>
<rect x="411.69" y="515.85" width="11.74" height="4.97" fill="#3a2c8c"/>
<rect x="422.83" y="515.85" width="11.74" height="4.97" fill="#eaeaf6"/>
<rect x="433.97" y="515.85" width="11.74" height="4.97" fill="#faeeee"/>
<rect x="445.11" y="515.85" width="22.29" height="4.97" fill="#d5d5ee"/>
<rect x="311.40" y="520.22" width="22.89" height="4.97" fill="#da7c7c"/>
<rect x="333.69" y="520.22" width="11.74" height="4.97" fill="#d66a6a"/>
<rect x="344.83" y="520.22" width="11.74" height="4.97" fill="#df8e8f"/>
<rect x="355.97" y="520.22" width="11.74" height="4.97" fill="#6260ac"/>
<rect x="367.11" y="520.22" width="11.74" height="4.97" fill="#8686c4"/>
<rect x="378.26" y="520.22" width="11.74" height="4.97" fill="#6260ac"/>
<rect x="389.40" y="520.22" width="11.74" height="4.97" fill="#8686c4"/>
<rect x="400.54" y="520.22" width="11.74" height="4.97" fill="#9898cf"/>
<rect x="411.69" y="520.22" width="11.74" height="4.97" fill="#ffffff"/>
<rect x="422.83" y="520.22" width="11.74" height="4.97" fill="#eaeaf6"/>
<rect x="433.97" y="520.22" width="11.74" height="4.97" fill="#f5dcdc"/>
<rect x="445.11" y="520.22" width="11.74" height="4.97" fill="#eaeaf6"/>
<rect x="456.26" y="520.22" width="11.14" height="4.97" fill="#eab7b8"/>
<rect x="311.40" y="524.59" width="11.74" height="4.97" fill="#cf4a48"/>
<rect x="322.54" y="524.59" width="11.74" height="4.97" fill="#d66a6a"/>
<rect x="333.69" y="524.59" width="11.74" height="4.97" fill="#df8e8f"/>
<rect x="344.83" y="524.59" width="11.74" height="4.97" fill="#eab7b8"/>
<rect x="355.97" y="524.59" width="11.74" height="4.97" fill="#eaeaf6"/>
<rect x="367.11" y="524.59" width="11.74" height="4.97" fill="#c0c0e4"/>
<rect x="378.26" y="524.59" width="11.74" height="4.97" fill="#3a2c8c"/>
<rect x="389.40" y="524.59" width="22.89" height="4.97" fill="#7473b8"/>
<rect x="411.69" y="524.59" width="11.74" height="4.97" fill="#aaaada"/>
<rect x="422.83" y="524.59" width="11.74" height="4.97" fill="#f0caca"/>
<rect x="433.97" y="524.59" width="22.89" height="4.97" fill="#f5dcdc"/>
<rect x="456.26" y="524.59" width="11.14" height="4.97" fill="#f0caca"/>
<rect x="311.40" y="528.96" width="22.89" height="4.97" fill="#da7c7c"/>
<rect x="333.69" y="528.96" width="22.89" height="4.97" fill="#df8e8f"/>
<rect x="355.97" y="528.96" width="11.74" height="4.97" fill="#3a2c8c"/>
<rect x="367.11" y="528.96" width="11.74" height="4.97" fill="#6260ac"/>
<rect x="378.26" y="528.96" width="22.89" height="4.97" fill="#8686c4"/>
<rect x="400.54" y="528.96" width="11.74" height="4.97" fill="#9898cf"/>
<rect x="411.69" y="528.96" width="22.89" height="4.97" fill="#f5dcdc"/>
<rect x="433.97" y="528.96" width="11.74" height="4.97" fill="#f0caca"/>
<rect x="445.11" y="528.96" width="11.74" height="4.97" fill="#df8e8f"/>
<rect x="456.26" y="528.96" width="11.14" height="4.97" fill="#f0caca"/>
<rect x="311.40" y="533.33" width="11.74" height="4.97" fill="#d25a59"/>
<rect x="322.54" y="533.33" width="34.03" height="4.97" fill="#da7c7c"/>
<rect x="355.97" y="533.33" width="11.74" height="4.97" fill="#d5d5ee"/>
<rect x="367.11" y="533.33" width="11.74" height="4.97" fill="#ffffff"/>
<rect x="378.26" y="533.33" width="22.89" height="4.97" fill="#6260ac"/>
<rect x="400.54" y="533.33" width="11.74" height="4.97" fill="#7473b8"/>
<rect x="411.69" y="533.33" width="11.74" height="4.97" fill="#9898cf"/>
<rect x="422.83" y="533.33" width="11.74" height="4.97" fill="#eab7b8"/>
<rect x="433.97" y="533.33" width="11.74" height="4.97" fill="#f5dcdc"/>
<rect x="445.11" y="533.33" width="11.74" height="4.97" fill="#c0c0e4"/>
<rect x="456.26" y="533.33" width="11.14" height="4.97" fill="#faeeee"/>
<rect x="311.40" y="537.70" width="11.74" height="4.97" fill="#cf4a48"/>
<rect x="322.54" y="537.70" width="11.74" height="4.97" fill="#d66a6a"/>
<rect x="333.69" y="537.70" width="11.74" height="4.97" fill="#da7c7c"/>
<rect x="344.83" y="537.70" width="11.74" height="4.97" fill="#eab7b8"/>
<rect x="355.97" y="537.70" width="11.74" height="4.97" fill="#c0c0e4"/>
<rect x="367.11" y="537.70" width="22.89" height="4.97" fill="#8686c4"/>
<rect x="389.40" y="537.70" width="11.74" height="4.97" fill="#3a2c8c"/>
<rect x="400.54" y="537.70" width="11.74" height="4.97" fill="#c0c0e4"/>
<rect x="411.69" y="537.70" width="11.74" height="4.97" fill="#9898cf"/>
<rect x="422.83" y="537.70" width="11.74" height="4.97" fill="#faeeee"/>
<rect x="433.97" y="537.70" width="11.74" height="4.97" fill="#eab7b8"/>
<rect x="445.11" y="537.70" width="11.74" height="4.97" fill="#f0caca"/>
<rect x="456.26" y="537.70" width="11.14" height="4.97" fill="#eaeaf6"/>
<rect x="311.40" y="542.07" width="45.17" height="4.97" fill="#df8e8f"/>
<rect x="355.97" y="542.07" width="11.74" height="4.97" fill="#3a2c8c"/>
<rect x="367.11" y="542.07" width="11.74" height="4.97" fill="#8686c4"/>
<rect x="378.26" y="542.07" width="34.03" height="4.97" fill="#7473b8"/>
<rect x="411.69" y="542.07" width="11.74" height="4.97" fill="#f5dcdc"/>
<rect x="422.83" y="542.07" width="11.74" height="4.97" fill="#eab7b8"/>
<rect x="433.97" y="542.07" width="22.89" height="4.97" fill="#e4a2a4"/>
<rect x="456.26" y="542.07" width="11.14" height="4.97" fill="#f0caca"/>
<rect x="311.40" y="546.43" width="11.74" height="4.97" fill="#df8e8f"/>
<rect x="322.54" y="546.43" width="11.74" height="4.97" fill="#da7c7c"/>
<rect x="333.69" y="546.43" width="22.89" height="4.97" fill="#df8e8f"/>
<rect x="355.97" y="546.43" width="11.74" height="4.97" fill="#7473b8"/>
<rect x="367.11" y="546.43" width="11.74" height="4.97" fill="#6260ac"/>
<rect x="378.26" y="546.43" width="11.74" height="4.97" fill="#7473b8"/>
<rect x="389.40" y="546.43" width="11.74" height="4.97" fill="#484098"/>
<rect x="400.54" y="546.43" width="11.74" height="4.97" fill="#8686c4"/>
<rect x="411.69" y="546.43" width="22.89" height="4.97" fill="#f0caca"/>
<rect x="433.97" y="546.43" width="11.74" height="4.97" fill="#f5dcdc"/>
<rect x="445.11" y="546.43" width="11.74" height="4.97" fill="#f0caca"/>
<rect x="456.26" y="546.43" width="11.14" height="4.97" fill="#da7c7c"/>
<rect x="311.40" y="550.80" width="11.74" height="4.97" fill="#d66a6a"/>
<rect x="322.54" y="550.80" width="11.74" height="4.97" fill="#faeeee"/>
<rect x="333.69" y="550.80" width="11.74" height="4.97" fill="#df8e8f"/>
<rect x="344.83" y="550.80" width="11.74" height="4.97" fill="#e4a2a4"/>
<rect x="355.97" y="550.80" width="11.74" height="4.97" fill="#6260ac"/>
<rect x="367.11" y="550.80" width="11.74" height="4.97" fill="#9898cf"/>
<rect x="378.26" y="550.80" width="11.74" height="4.97" fill="#f5dcdc"/>
<rect x="389.40" y="550.80" width="11.74" height="4.97" fill="#6260ac"/>
<rect x="400.54" y="550.80" width="11.74" height="4.97" fill="#3a2c8c"/>
<rect x="411.69" y="550.80" width="11.74" height="4.97" fill="#ffffff"/>
<rect x="422.83" y="550.80" width="11.74" height="4.97" fill="#df8e8f"/>
<rect x="433.97" y="550.80" width="11.74" height="4.97" fill="#f0caca"/>
<rect x="445.11" y="550.80" width="11.74" height="4.97" fill="#eab7b8"/>
<rect x="456.26" y="550.80" width="11.14" height="4.97" fill="#f5dcdc"/>
<rect x="311.40" y="555.17" width="34.03" height="4.97" fill="#da7c7c"/>
<rect x="344.83" y="555.17" width="11.74" height="4.97" fill="#d66a6a"/>
<rect x="355.97" y="555.17" width="11.74" height="4.97" fill="#3a2c8c"/>
<rect x="367.11" y="555.17" width="11.74" height="4.97" fill="#6260ac"/>
<rect x="378.26" y="555.17" width="11.74" height="4.97" fill="#9898cf"/>
<rect x="389.40" y="555.17" width="11.74" height="4.97" fill="#8686c4"/>
<rect x="400.54" y="555.17" width="11.74" height="4.97" fill="#aaaada"/>
<rect x="411.69" y="555.17" width="11.74" height="4.97" fill="#f0caca"/>
<rect x="422.83" y="555.17" width="11.74" height="4.97" fill="#eaeaf6"/>
<rect x="433.97" y="555.17" width="11.74" height="4.97" fill="#ffffff"/>
<rect x="445.11" y="555.17" width="11.74" height="4.97" fill="#f0caca"/>
<rect x="456.26" y="555.17" width="11.14" height="4.97" fill="#f5dcdc"/>
<rect x="311.40" y="559.54" width="11.74" height="4.97" fill="#cc3934"/>
<rect x="322.54" y="559.54" width="11.74" height="4.97" fill="#df8e8f"/>
<rect x="333.69" y="559.54" width="11.74" height="4.97" fill="#da7c7c"/>
<rect x="344.83" y="559.54" width="11.74" height="4.97" fill="#d66a6a"/>
<rect x="355.97" y="559.54" width="11.74" height="4.97" fill="#eaeaf6"/>
<rect x="367.11" y="559.54" width="22.89" height="4.97" fill="#9898cf"/>
<rect x="389.40" y="559.54" width="11.74" height="4.97" fill="#8686c4"/>
<rect x="400.54" y="559.54" width="11.74" height="4.97" fill="#6260ac"/>
<rect x="411.69" y="559.54" width="11.74" height="4.97" fill="#8686c4"/>
<rect x="422.83" y="559.54" width="11.74" height="4.97" fill="#f0caca"/>
<rect x="433.97" y="559.54" width="11.74" height="4.97" fill="#eaeaf6"/>
<rect x="445.11" y="559.54" width="11.74" height="4.97" fill="#aaaada"/>
<rect x="456.26" y="559.54" width="11.14" height="4.97" fill="#ffffff"/>
<rect x="311.40" y="563.91" width="11.74" height="4.97" fill="#da7c7c"/>
<rect x="322.54" y="563.91" width="11.74" height="4.97" fill="#f0caca"/>
<rect x="333.69" y="563.91" width="11.74" height="4.97" fill="#df8e8f"/>
<rect x="344.83" y="563.91" width="11.74" height="4.97" fill="#d66a6a"/>
<rect x="355.97" y="563.91" width="11.74" height="4.97" fill="#d5d5ee"/>
<rect x="367.11" y="563.91" width="11.74" height="4.97" fill="#ffffff"/>
<rect x="378.26" y="563.91" width="11.74" height="4.97" fill="#3a2c8c"/>
<rect x="389.40" y="563.91" width="11.74" height="4.97" fill="#7473b8"/>
<rect x="400.54" y="563.91" width="11.74" height="4.97" fill="#8686c4"/>
<rect x="411.69" y="563.91" width="11.74" height="4.97" fill="#eaeaf6"/>
<rect x="422.83" y="563.91" width="11.74" height="4.97" fill="#eab7b8"/>
<rect x="433.97" y="563.91" width="33.43" height="4.97" fill="#f5dcdc"/>
<rect x="311.40" y="568.28" width="11.74" height="4.97" fill="#eab7b8"/>
<rect x="322.54" y="568.28" width="11.74" height="4.97" fill="#da7c7c"/>
<rect x="333.69" y="568.28" width="22.89" height="4.97" fill="#e4a2a4"/>
<rect x="355.97" y="568.28" width="11.74" height="4.97" fill="#484098"/>
<rect x="367.11" y="568.28" width="11.74" height="4.97" fill="#c0c0e4"/>
<rect x="378.26" y="568.28" width="11.74" height="4.97" fill="#6260ac"/>
<rect x="389.40" y="568.28" width="11.74" height="4.97" fill="#7473b8"/>
<rect x="400.54" y="568.28" width="11.74" height="4.97" fill="#6260ac"/>
<rect x="411.69" y="568.28" width="11.74" height="4.97" fill="#e4a2a4"/>
<rect x="422.83" y="568.28" width="11.74" height="4.97" fill="#ffffff"/>
<rect x="433.97" y="568.28" width="22.89" height="4.97" fill="#eab7b8"/>
<rect x="456.26" y="568.28" width="11.14" height="4.97" fill="#df8e8f"/>
<rect x="311.40" y="572.65" width="45.17" height="4.97" fill="#eab7b8"/>
<rect x="355.97" y="572.65" width="11.74" height="4.97" fill="#8686c4"/>
<rect x="367.11" y="572.65" width="11.74" height="4.97" fill="#7473b8"/>
<rect x="378.26" y="572.65" width="11.74" height="4.97" fill="#413692"/>
<rect x="389.40" y="572.65" width="11.74" height="4.97" fill="#6260ac"/>
<rect x="400.54" y="572.65" width="11.74" height="4.97" fill="#c0c0e4"/>
<rect x="411.69" y="572.65" width="11.74" height="4.97" fill="#da7c7c"/>
<rect x="422.83" y="572.65" width="11.74" height="4.97" fill="#faeeee"/>
<rect x="433.97" y="572.65" width="11.74" height="4.97" fill="#f0caca"/>
<rect x="445.11" y="572.65" width="11.74" height="4.97" fill="#da7c7c"/>
<rect x="456.26" y="572.65" width="11.14" height="4.97" fill="#e4a2a4"/>
<rect x="311.40" y="577.02" width="11.74" height="4.97" fill="#eab7b8"/>
<rect x="322.54" y="577.02" width="11.74" height="4.97" fill="#ffffff"/>
<rect x="333.69" y="577.02" width="11.74" height="4.97" fill="#eab7b8"/>
<rect x="344.83" y="577.02" width="11.74" height="4.97" fill="#f5dcdc"/>
<rect x="355.97" y="577.02" width="11.74" height="4.97" fill="#7473b8"/>
<rect x="367.11" y="577.02" width="11.74" height="4.97" fill="#6260ac"/>
<rect x="378.26" y="577.02" width="11.74" height="4.97" fill="#413692"/>
<rect x="389.40" y="577.02" width="11.74" height="4.97" fill="#f5dcdc"/>
<rect x="400.54" y="577.02" width="11.74" height="4.97" fill="#9898cf"/>
<rect x="411.69" y="577.02" width="11.74" height="4.97" fill="#f0caca"/>
<rect x="422.83" y="577.02" width="11.74" height="4.97" fill="#d66a6a"/>
<rect x="433.97" y="577.02" width="11.74" height="4.97" fill="#df8e8f"/>
<rect x="445.11" y="577.02" width="11.74" height="4.97" fill="#ffffff"/>
<rect x="456.26" y="577.02" width="11.14" height="4.97" fill="#df8e8f"/>
<rect x="311.40" y="581.39" width="11.74" height="4.97" fill="#eab7b8"/>
<rect x="322.54" y="581.39" width="34.03" height="4.97" fill="#e4a2a4"/>
<rect x="355.97" y="581.39" width="22.89" height="4.97" fill="#9898cf"/>
<rect x="378.26" y="581.39" width="22.89" height="4.97" fill="#6260ac"/>
<rect x="400.54" y="581.39" width="11.74" height="4.97" fill="#3a2c8c"/>
<rect x="411.69" y="581.39" width="11.74" height="4.97" fill="#e4a2a4"/>
<rect x="422.83" y="581.39" width="11.74" height="4.97" fill="#eab7b8"/>
<rect x="433.97" y="581.39" width="22.89" height="4.97" fill="#e4a2a4"/>
<rect x="456.26" y="581.39" width="11.14" height="4.97" fill="#df8e8f"/>
<rect x="311.40" y="585.75" width="11.74" height="4.97" fill="#df8e8f"/>
<rect x="322.54" y="585.75" width="11.74" height="4.97" fill="#da7c7c"/>
<rect x="333.69" y="585.75" width="22.89" height="4.97" fill="#df8e8f"/>
<rect x="355.97" y="585.75" width="11.74" height="4.97" fill="#6260ac"/>
<rect x="367.11" y="585.75" width="11.74" height="4.97" fill="#7473b8"/>
<rect x="378.26" y="585.75" width="11.74" height="4.97" fill="#8686c4"/>
<rect x="389.40" y="585.75" width="11.74" height="4.97" fill="#9898cf"/>
<rect x="400.54" y="585.75" width="11.74" height="4.97" fill="#413692"/>
<rect x="411.69" y="585.75" width="11.74" height="4.97" fill="#e4a2a4"/>
<rect x="422.83" y="585.75" width="11.74" height="4.97" fill="#f5dcdc"/>
<rect x="433.97" y="585.75" width="11.74" height="4.97" fill="#f0caca"/>
<rect x="445.11" y="585.75" width="11.74" height="4.97" fill="#eab7b8"/>
<rect x="456.26" y="585.75" width="11.14" height="4.97" fill="#e4a2a4"/>
<rect x="311.40" y="590.12" width="22.89" height="4.97" fill="#eab7b8"/>
<rect x="333.69" y="590.12" width="11.74" height="4.97" fill="#e4a2a4"/>
<rect x="344.83" y="590.12" width="11.74" height="4.97" fill="#eab7b8"/>
<rect x="355.97" y="590.12" width="34.03" height="4.97" fill="#6260ac"/>
<rect x="389.40" y="590.12" width="11.74" height="4.97" fill="#9898cf"/>
<rect x="400.54" y="590.12" width="11.74" height="4.97" fill="#484098"/>
<rect x="411.69" y="590.12" width="11.74" height="4.97" fill="#e4a2a4"/>
<rect x="422.83" y="590.12" width="11.74" height="4.97" fill="#eab7b8"/>
<rect x="433.97" y="590.12" width="22.89" height="4.97" fill="#df8e8f"/>
<rect x="456.26" y="590.12" width="11.14" height="4.97" fill="#e4a2a4"/>
<rect x="311.40" y="594.49" width="45.17" height="4.97" fill="#eab7b8"/>
<rect x="355.97" y="594.49" width="11.74" height="4.97" fill="#7473b8"/>
<rect x="367.11" y="594.49" width="11.74" height="4.97" fill="#413692"/>
<rect x="378.26" y="594.49" width="11.74" height="4.97" fill="#aaaada"/>
<rect x="389.40" y="594.49" width="11.74" height="4.97" fill="#9898cf"/>
<rect x="400.54" y="594.49" width="11.74" height="4.97" fill="#5550a2"/>
<rect x="411.69" y="594.49" width="11.74" height="4.97" fill="#f5dcdc"/>
<rect x="422.83" y="594.49" width="34.03" height="4.97" fill="#df8e8f"/>
<rect x="456.26" y="594.49" width="11.14" height="4.97" fill="#e4a2a4"/>
<rect x="311.40" y="598.86" width="11.74" height="4.97" fill="#df8e8f"/>
<rect x="322.54" y="598.86" width="22.89" height="4.97" fill="#da7c7c"/>
<rect x="344.83" y="598.86" width="11.74" height="4.97" fill="#df8e8f"/>
<rect x="355.97" y="598.86" width="11.74" height="4.97" fill="#7473b8"/>
<rect x="367.11" y="598.86" width="22.89" height="4.97" fill="#5550a2"/>
<rect x="389.40" y="598.86" width="11.74" height="4.97" fill="#9898cf"/>
<rect x="400.54" y="598.86" width="11.74" height="4.97" fill="#8686c4"/>
<rect x="411.69" y="598.86" width="11.74" height="4.97" fill="#f0caca"/>
<rect x="422.83" y="598.86" width="11.74" height="4.97" fill="#f5dcdc"/>
<rect x="433.97" y="598.86" width="11.74" height="4.97" fill="#faeeee"/>
<rect x="445.11" y="598.86" width="11.74" height="4.97" fill="#ffffff"/>
<rect x="456.26" y="598.86" width="11.14" height="4.97" fill="#e4a2a4"/>
<rect x="311.40" y="603.23" width="11.74" height="4.97" fill="#eab7b8"/>
<rect x="322.54" y="603.23" width="11.74" height="4.97" fill="#df8e8f"/>
<rect x="333.69" y="603.23" width="11.74" height="4.97" fill="#eab7b8"/>
<rect x="344.83" y="603.23" width="11.74" height="4.97" fill="#e4a2a4"/>
<rect x="355.97" y="603.23" width="22.89" height="4.97" fill="#aaaada"/>
<rect x="378.26" y="603.23" width="11.74" height="4.97" fill="#eaeaf6"/>
<rect x="389.40" y="603.23" width="22.89" height="4.97" fill="#3a2c8c"/>
<rect x="411.69" y="603.23" width="11.74" height="4.97" fill="#ffffff"/>
<rect x="422.83" y="603.23" width="11.74" height="4.97" fill="#f0caca"/>
<rect x="433.97" y="603.23" width="22.89" height="4.97" fill="#e4a2a4"/>
<rect x="456.26" y="603.23" width="11.14" height="4.97" fill="#df8e8f"/>
<rect x="311.40" y="607.60" width="22.89" height="4.97" fill="#d25a59"/>
<rect x="333.69" y="607.60" width="11.74" height="4.97" fill="#df8e8f"/>
<rect x="344.83" y="607.60" width="11.74" height="4.97" fill="#e4a2a4"/>
<rect x="355.97" y="607.60" width="11.74" height="4.97" fill="#8686c4"/>
<rect x="367.11" y="607.60" width="11.74" height="4.97" fill="#eaeaf6"/>
<rect x="378.26" y="607.60" width="11.74" height="4.97" fill="#9898cf"/>
<rect x="389.40" y="607.60" width="11.74" height="4.97" fill="#413692"/>
<rect x="400.54" y="607.60" width="11.74" height="4.97" fill="#9898cf"/>
<rect x="411.69" y="607.60" width="11.74" height="4.97" fill="#eab7b8"/>
<rect x="422.83" y="607.60" width="11.74" height="4.97" fill="#c0c0e4"/>
<rect x="433.97" y="607.60" width="11.74" height="4.97" fill="#aaaada"/>
<rect x="445.11" y="607.60" width="22.29" height="4.97" fill="#eab7b8"/>
<rect x="311.40" y="611.97" width="11.74" height="4.97" fill="#c82820"/>
<rect x="322.54" y="611.97" width="11.74" height="4.97" fill="#d25a59"/>
<rect x="333.69" y="611.97" width="11.74" height="4.97" fill="#df8e8f"/>
<rect x="344.83" y="611.97" width="11.74" height="4.97" fill="#e4a2a4"/>
<rect x="355.97" y="611.97" width="11.74" height="4.97" fill="#c0c0e4"/>
<rect x="367.11" y="611.97" width="11.74" height="4.97" fill="#eaeaf6"/>
<rect x="378.26" y="611.97" width="11.74" height="4.97" fill="#c0c0e4"/>
<rect x="389.40" y="611.97" width="11.74" height="4.97" fill="#d5d5ee"/>
<rect x="400.54" y="611.97" width="11.74" height="4.97" fill="#c0c0e4"/>
<rect x="411.69" y="611.97" width="11.74" height="4.97" fill="#d5d5ee"/>
<rect x="422.83" y="611.97" width="11.74" height="4.97" fill="#c0c0e4"/>
<rect x="433.97" y="611.97" width="11.74" height="4.97" fill="#6260ac"/>
<rect x="445.11" y="611.97" width="11.74" height="4.97" fill="#8686c4"/>
<rect x="456.26" y="611.97" width="11.14" height="4.97" fill="#eaeaf6"/>
<rect x="311.40" y="616.34" width="11.74" height="4.97" fill="#df8e8f"/>
<rect x="322.54" y="616.34" width="11.74" height="4.97" fill="#e4a2a4"/>
<rect x="333.69" y="616.34" width="11.74" height="4.97" fill="#df8e8f"/>
<rect x="344.83" y="616.34" width="11.74" height="4.97" fill="#cc3934"/>
<rect x="355.97" y="616.34" width="22.89" height="4.97" fill="#d5d5ee"/>
<rect x="378.26" y="616.34" width="11.74" height="4.97" fill="#413692"/>
<rect x="389.40" y="616.34" width="11.74" height="4.97" fill="#ffffff"/>
<rect x="400.54" y="616.34" width="11.74" height="4.97" fill="#7473b8"/>
<rect x="411.69" y="616.34" width="11.74" height="4.97" fill="#faeeee"/>
<rect x="422.83" y="616.34" width="11.74" height="4.97" fill="#ffffff"/>
<rect x="433.97" y="616.34" width="22.89" height="4.97" fill="#d5d5ee"/>
<rect x="456.26" y="616.34" width="11.14" height="4.97" fill="#f5dcdc"/>
<rect x="311.40" y="620.70" width="22.89" height="4.97" fill="#eab7b8"/>
<rect x="333.69" y="620.70" width="11.74" height="4.97" fill="#e4a2a4"/>
<rect x="344.83" y="620.70" width="11.74" height="4.97" fill="#faeeee"/>
<rect x="355.97" y="620.70" width="11.74" height="4.97" fill="#8686c4"/>
<rect x="367.11" y="620.70" width="11.74" height="4.97" fill="#5550a2"/>
<rect x="378.26" y="620.70" width="11.74" height="4.97" fill="#413692"/>
<rect x="389.40" y="620.70" width="22.89" height="4.97" fill="#9898cf"/>
<rect x="411.69" y="620.70" width="11.74" height="4.97" fill="#f5dcdc"/>
<rect x="422.83" y="620.70" width="11.74" height="4.97" fill="#eab7b8"/>
<rect x="433.97" y="620.70" width="11.74" height="4.97" fill="#d25a59"/>
<rect x="445.11" y="620.70" width="11.74" height="4.97" fill="#eab7b8"/>
<rect x="456.26" y="620.70" width="11.14" height="4.97" fill="#d66a6a"/>
<rect x="311.40" y="625.07" width="11.74" height="4.97" fill="#df8e8f"/>
<rect x="322.54" y="625.07" width="22.89" height="4.97" fill="#da7c7c"/>
<rect x="344.83" y="625.07" width="11.74" height="4.97" fill="#df8e8f"/>
<rect x="355.97" y="625.07" width="11.74" height="4.97" fill="#8686c4"/>
<rect x="367.11" y="625.07" width="11.74" height="4.97" fill="#aaaada"/>
<rect x="378.26" y="625.07" width="11.74" height="4.97" fill="#6260ac"/>
<rect x="389.40" y="625.07" width="22.89" height="4.97" fill="#7473b8"/>
<rect x="411.69" y="625.07" width="11.74" height="4.97" fill="#d66a6a"/>
<rect x="422.83" y="625.07" width="11.74" height="4.97" fill="#eaeaf6"/>
<rect x="433.97" y="625.07" width="11.74" height="4.97" fill="#ffffff"/>
<rect x="445.11" y="625.07" width="11.74" height="4.97" fill="#d5d5ee"/>
<rect x="456.26" y="625.07" width="11.14" height="4.97" fill="#e4a2a4"/>
<rect x="311.40" y="629.44" width="11.74" height="4.97" fill="#eab7b8"/>
<rect x="322.54" y="629.44" width="22.89" height="4.97" fill="#e4a2a4"/>
<rect x="344.83" y="629.44" width="11.74" height="4.97" fill="#df8e8f"/>
<rect x="355.97" y="629.44" width="22.89" height="4.97" fill="#7473b8"/>
<rect x="378.26" y="629.44" width="11.74" height="4.97" fill="#6260ac"/>
<rect x="389.40" y="629.44" width="11.74" height="4.97" fill="#aaaada"/>
<rect x="400.54" y="629.44" width="11.74" height="4.97" fill="#5550a2"/>
<rect x="411.69" y="629.44" width="11.74" height="4.97" fill="#d66a6a"/>
<rect x="422.83" y="629.44" width="11.74" height="4.97" fill="#df8e8f"/>
<rect x="433.97" y="629.44" width="11.74" height="4.97" fill="#f5dcdc"/>
<rect x="445.11" y="629.44" width="11.74" height="4.97" fill="#ffffff"/>
<rect x="456.26" y="629.44" width="11.14" height="4.97" fill="#da7c7c"/>
<rect x="311.40" y="633.81" width="11.74" height="4.97" fill="#ffffff"/>
<rect x="322.54" y="633.81" width="34.03" height="4.97" fill="#faeeee"/>
<rect x="355.97" y="633.81" width="11.74" height="4.97" fill="#8686c4"/>
<rect x="367.11" y="633.81" width="11.74" height="4.97" fill="#7473b8"/>
<rect x="378.26" y="633.81" width="11.74" height="4.97" fill="#6260ac"/>
<rect x="389.40" y="633.81" width="11.74" height="4.97" fill="#c0c0e4"/>
<rect x="400.54" y="633.81" width="11.74" height="4.97" fill="#5550a2"/>
<rect x="411.69" y="633.81" width="11.74" height="4.97" fill="#d66a6a"/>
<rect x="422.83" y="633.81" width="11.74" height="4.97" fill="#da7c7c"/>
<rect x="433.97" y="633.81" width="11.74" height="4.97" fill="#d66a6a"/>
<rect x="445.11" y="633.81" width="11.74" height="4.97" fill="#df8e8f"/>
<rect x="456.26" y="633.81" width="11.14" height="4.97" fill="#da7c7c"/>
<rect x="311.40" y="638.18" width="11.74" height="4.97" fill="#f0caca"/>
<rect x="322.54" y="638.18" width="11.74" height="4.97" fill="#f5dcdc"/>
<rect x="333.69" y="638.18" width="11.74" height="4.97" fill="#faeeee"/>
<rect x="344.83" y="638.18" width="11.74" height="4.97" fill="#f0caca"/>
<rect x="355.97" y="638.18" width="11.74" height="4.97" fill="#8686c4"/>
<rect x="367.11" y="638.18" width="22.89" height="4.97" fill="#6260ac"/>
<rect x="389.40" y="638.18" width="11.74" height="4.97" fill="#aaaada"/>
<rect x="400.54" y="638.18" width="11.74" height="4.97" fill="#5550a2"/>
<rect x="411.69" y="638.18" width="11.74" height="4.97" fill="#df8e8f"/>
<rect x="422.83" y="638.18" width="11.74" height="4.97" fill="#da7c7c"/>
<rect x="433.97" y="638.18" width="11.74" height="4.97" fill="#d66a6a"/>
<rect x="445.11" y="638.18" width="22.29" height="4.97" fill="#df8e8f"/>
<rect x="311.40" y="642.55" width="11.74" height="4.97" fill="#faeeee"/>
<rect x="322.54" y="642.55" width="11.74" height="4.97" fill="#f5dcdc"/>
<rect x="333.69" y="642.55" width="11.74" height="4.97" fill="#e4a2a4"/>
<rect x="344.83" y="642.55" width="11.74" height="4.97" fill="#eab7b8"/>
<rect x="355.97" y="642.55" width="11.74" height="4.97" fill="#6260ac"/>
<rect x="367.11" y="642.55" width="22.89" height="4.97" fill="#7473b8"/>
<rect x="389.40" y="642.55" width="11.74" height="4.97" fill="#8686c4"/>
<rect x="400.54" y="642.55" width="11.74" height="4.97" fill="#7473b8"/>
<rect x="411.69" y="642.55" width="22.89" height="4.97" fill="#df8e8f"/>
<rect x="433.97" y="642.55" width="11.74" height="4.97" fill="#d66a6a"/>
<rect x="445.11" y="642.55" width="11.74" height="4.97" fill="#df8e8f"/>
<rect x="456.26" y="642.55" width="11.14" height="4.97" fill="#d66a6a"/>
<rect x="311.40" y="646.92" width="11.74" height="4.97" fill="#df8e8f"/>
<rect x="322.54" y="646.92" width="11.74" height="4.97" fill="#eaeaf6"/>
<rect x="333.69" y="646.92" width="11.74" height="4.97" fill="#df8e8f"/>
<rect x="344.83" y="646.92" width="11.74" height="4.97" fill="#f5dcdc"/>
<rect x="355.97" y="646.92" width="22.89" height="4.97" fill="#8686c4"/>
<rect x="378.26" y="646.92" width="11.74" height="4.97" fill="#7473b8"/>
<rect x="389.40" y="646.92" width="11.74" height="4.97" fill="#d5d5ee"/>
<rect x="400.54" y="646.92" width="11.74" height="4.97" fill="#484098"/>
<rect x="411.69" y="646.92" width="11.74" height="4.97" fill="#e4a2a4"/>
<rect x="422.83" y="646.92" width="11.74" height="4.97" fill="#cc3934"/>
<rect x="433.97" y="646.92" width="11.74" height="4.97" fill="#f5dcdc"/>
<rect x="445.11" y="646.92" width="11.74" height="4.97" fill="#d5d5ee"/>
<rect x="456.26" y="646.92" width="11.14" height="4.97" fill="#d25a59"/>
<rect x="311.40" y="651.29" width="11.74" height="4.97" fill="#da7c7c"/>
<rect x="322.54" y="651.29" width="11.74" height="4.97" fill="#cf4a48"/>
<rect x="333.69" y="651.29" width="11.74" height="4.97" fill="#df8e8f"/>
<rect x="344.83" y="651.29" width="11.74" height="4.97" fill="#eab7b8"/>
<rect x="355.97" y="651.29" width="22.89" height="4.97" fill="#8686c4"/>
<rect x="378.26" y="651.29" width="11.74" height="4.97" fill="#7473b8"/>
<rect x="389.40" y="651.29" width="11.74" height="4.97" fill="#8686c4"/>
<rect x="400.54" y="651.29" width="11.74" height="4.97" fill="#7473b8"/>
<rect x="411.69" y="651.29" width="11.74" height="4.97" fill="#df8e8f"/>
<rect x="422.83" y="651.29" width="11.74" height="4.97" fill="#ffffff"/>
<rect x="433.97" y="651.29" width="11.74" height="4.97" fill="#c0c0e4"/>
<rect x="445.11" y="651.29" width="11.74" height="4.97" fill="#faeeee"/>
<rect x="456.26" y="651.29" width="11.14" height="4.97" fill="#df8e8f"/>
<rect x="311.40" y="655.66" width="11.74" height="4.97" fill="#e4a2a4"/>
<rect x="322.54" y="655.66" width="11.74" height="4.97" fill="#da7c7c"/>
<rect x="333.69" y="655.66" width="11.74" height="4.97" fill="#df8e8f"/>
<rect x="344.83" y="655.66" width="11.74" height="4.97" fill="#da7c7c"/>
<rect x="355.97" y="655.66" width="11.74" height="4.97" fill="#6260ac"/>
<rect x="367.11" y="655.66" width="11.74" height="4.97" fill="#8686c4"/>
<rect x="378.26" y="655.66" width="11.74" height="4.97" fill="#484098"/>
<rect x="389.40" y="655.66" width="11.74" height="4.97" fill="#c0c0e4"/>
<rect x="400.54" y="655.66" width="11.74" height="4.97" fill="#6260ac"/>
<rect x="411.69" y="655.66" width="11.74" height="4.97" fill="#faeeee"/>
<rect x="422.83" y="655.66" width="11.74" height="4.97" fill="#df8e8f"/>
<rect x="433.97" y="655.66" width="11.74" height="4.97" fill="#e4a2a4"/>
<rect x="445.11" y="655.66" width="11.74" height="4.97" fill="#d5d5ee"/>
<rect x="456.26" y="655.66" width="11.14" height="4.97" fill="#df8e8f"/>
<rect x="311.40" y="660.02" width="11.74" height="4.97" fill="#df8e8f"/>
<rect x="322.54" y="660.02" width="11.74" height="4.97" fill="#d25a59"/>
<rect x="333.69" y="660.02" width="11.74" height="4.97" fill="#cf4a48"/>
<rect x="344.83" y="660.02" width="11.74" height="4.97" fill="#e4a2a4"/>
<rect x="355.97" y="660.02" width="11.74" height="4.97" fill="#eab7b8"/>
<rect x="367.11" y="660.02" width="11.74" height="4.97" fill="#8686c4"/>
<rect x="378.26" y="660.02" width="11.74" height="4.97" fill="#7473b8"/>
<rect x="389.40" y="660.02" width="11.74" height="4.97" fill="#8686c4"/>
<rect x="400.54" y="660.02" width="11.74" height="4.97" fill="#d5d5ee"/>
<rect x="411.69" y="660.02" width="11.74" height="4.97" fill="#5550a2"/>
<rect x="422.83" y="660.02" width="11.74" height="4.97" fill="#aaaada"/>
<rect x="433.97" y="660.02" width="11.74" height="4.97" fill="#eaeaf6"/>
<rect x="445.11" y="660.02" width="11.74" height="4.97" fill="#f5dcdc"/>
<rect x="456.26" y="660.02" width="11.14" height="4.97" fill="#faeeee"/>
<rect x="311.40" y="664.39" width="11.74" height="4.97" fill="#df8e8f"/>
<rect x="322.54" y="664.39" width="11.74" height="4.97" fill="#da7c7c"/>
<rect x="333.69" y="664.39" width="11.74" height="4.97" fill="#cf4a48"/>
<rect x="344.83" y="664.39" width="11.74" height="4.97" fill="#e4a2a4"/>
<rect x="355.97" y="664.39" width="11.74" height="4.97" fill="#7473b8"/>
<rect x="367.11" y="664.39" width="11.74" height="4.97" fill="#e4a2a4"/>
<rect x="378.26" y="664.39" width="11.74" height="4.97" fill="#6260ac"/>
<rect x="389.40" y="664.39" width="11.74" height="4.97" fill="#8686c4"/>
<rect x="400.54" y="664.39" width="11.74" height="4.97" fill="#5550a2"/>
<rect x="411.69" y="664.39" width="11.74" height="4.97" fill="#eab7b8"/>
<rect x="422.83" y="664.39" width="22.89" height="4.97" fill="#eaeaf6"/>
<rect x="445.11" y="664.39" width="11.74" height="4.97" fill="#aaaada"/>
<rect x="456.26" y="664.39" width="11.14" height="4.97" fill="#ffffff"/>
<rect x="311.40" y="668.76" width="11.74" height="4.97" fill="#eab7b8"/>
<rect x="322.54" y="668.76" width="11.74" height="4.97" fill="#e4a2a4"/>
<rect x="333.69" y="668.76" width="11.74" height="4.97" fill="#d25a59"/>
<rect x="344.83" y="668.76" width="11.74" height="4.97" fill="#eaeaf6"/>
<rect x="355.97" y="668.76" width="11.74" height="4.97" fill="#9898cf"/>
<rect x="367.11" y="668.76" width="11.74" height="4.97" fill="#6260ac"/>
<rect x="378.26" y="668.76" width="11.74" height="4.97" fill="#8686c4"/>
<rect x="389.40" y="668.76" width="22.89" height="4.97" fill="#6260ac"/>
<rect x="411.69" y="668.76" width="11.74" height="4.97" fill="#f5dcdc"/>
<rect x="422.83" y="668.76" width="22.89" height="4.97" fill="#df8e8f"/>
<rect x="445.11" y="668.76" width="11.74" height="4.97" fill="#eaeaf6"/>
<rect x="456.26" y="668.76" width="11.14" height="4.97" fill="#d66a6a"/>
<rect x="311.40" y="673.13" width="11.74" height="4.37" fill="#d25a59"/>
<rect x="322.54" y="673.13" width="11.74" height="4.37" fill="#cc3934"/>
<rect x="333.69" y="673.13" width="11.74" height="4.37" fill="#ffffff"/>
<rect x="344.83" y="673.13" width="11.74" height="4.37" fill="#eab7b8"/>
<rect x="355.97" y="673.13" width="11.74" height="4.37" fill="#6260ac"/>
<rect x="367.11" y="673.13" width="11.74" height="4.37" fill="#9898cf"/>
<rect x="378.26" y="673.13" width="11.74" height="4.37" fill="#7473b8"/>
<rect x="389.40" y="673.13" width="22.89" height="4.37" fill="#8686c4"/>
<rect x="411.69" y="673.13" width="11.74" height="4.37" fill="#eab7b8"/>
<rect x="422.83" y="673.13" width="11.74" height="4.37" fill="#ffffff"/>
<rect x="433.97" y="673.13" width="11.74" height="4.37" fill="#d5d5ee"/>
<rect x="445.11" y="673.13" width="11.74" height="4.37" fill="#eaeaf6"/>
<rect x="456.26" y="673.13" width="11.14" height="4.37" fill="#d66a6a"/>
</g>
<g font-size="3.8" fill="#111" >
<text transform="translate(470.50 414.51) rotate(0.4)">Pixd</text>
<text transform="translate(470.50 418.88) rotate(0.4)">Lpin2</text>
<text transform="translate(470.50 423.25) rotate(0.4)">Rnpep</text>
<text transform="translate(470.50 427.62) rotate(0.4)">Ensa</text>
<text transform="translate(470.50 431.99) rotate(0.4)">Sfi1</text>
<text transform="translate(470.50 436.36) rotate(0.4)">Rora</text>
<text transform="translate(470.50 440.73) rotate(0.4)">Hdac4</text>
<text transform="translate(470.50 445.10) rotate(0.4)">Ptcra</text>
<text transform="translate(470.50 449.47) rotate(0.4)">Bcl9</text>
<text transform="translate(470.50 453.83) rotate(0.4)">Ngfrap1</text>
<text transform="translate(470.50 458.20) rotate(0.4)">Tpd52</text>
<text transform="translate(470.50 462.57) rotate(0.4)">Lsp1</text>
<text transform="translate(470.50 466.94) rotate(0.4)">Cat</text>
<text transform="translate(470.50 471.31) rotate(0.4)">Pycr1l</text>
<text transform="translate(470.50 475.68) rotate(0.4)">Bcl7a</text>
<text transform="translate(470.50 480.05) rotate(0.4)">Carkd</text>
<text transform="translate(470.50 484.42) rotate(0.4)">Bcl2</text>
<text transform="translate(470.50 488.78) rotate(0.4)">Gpxl7</text>
<text transform="translate(470.50 493.15) rotate(0.4)">Gtf3c2</text>
<text transform="translate(470.50 497.52) rotate(0.4)">Ccnd2</text>
<text transform="translate(470.50 501.89) rotate(0.4)">Zmiz1</text>
<text transform="translate(470.50 506.26) rotate(0.4)">Cyfip2</text>
<text transform="translate(470.50 510.63) rotate(0.4)">Cd3e</text>
<text transform="translate(470.50 515.00) rotate(0.4)">Notch3</text>
<text transform="translate(470.50 519.37) rotate(0.4)">Lck</text>
<text transform="translate(470.50 523.74) rotate(0.4)">Cd3g</text>
<text transform="translate(470.50 528.10) rotate(0.4)">Npr3</text>
<text transform="translate(470.50 532.47) rotate(0.4)">Plcg2</text>
<text transform="translate(470.50 536.84) rotate(0.4)">Entpd6</text>
<text transform="translate(470.50 541.21) rotate(0.4)">Add2</text>
<text transform="translate(470.50 545.58) rotate(0.4)">Eng</text>
<text transform="translate(470.50 549.95) rotate(0.4)">Syne2</text>
<text transform="translate(470.50 554.32) rotate(0.4)">Cpne</text>
<text transform="translate(470.50 558.69) rotate(0.4)">Tnr3x</text>
<text transform="translate(470.50 563.06) rotate(0.4)">Rasgd</text>
<text transform="translate(470.50 567.42) rotate(0.4)">Pcbp3</text>
<text transform="translate(470.50 571.79) rotate(0.4)">Rtpk2</text>
<text transform="translate(470.50 576.16) rotate(0.4)">Ptpn3</text>
<text transform="translate(470.50 580.53) rotate(0.4)">Pjbx1</text>
<text transform="translate(470.50 584.90) rotate(0.4)">Stx7</text>
<text transform="translate(470.50 589.27) rotate(0.4)">Lyn</text>
<text transform="translate(470.50 593.64) rotate(0.4)">Btk</text>
<text transform="translate(470.50 598.01) rotate(0.4)">Fes</text>
<text transform="translate(470.50 602.38) rotate(0.4)">Lhfpl2</text>
<text transform="translate(470.50 606.74) rotate(0.4)">Rab32</text>
<text transform="translate(470.50 611.11) rotate(0.4)">Dyrk4</text>
<text transform="translate(470.50 615.48) rotate(0.4)">Gng7</text>
<text transform="translate(470.50 619.85) rotate(0.4)">Tel</text>
<text transform="translate(470.50 624.22) rotate(0.4)">Fndc3b</text>
<text transform="translate(470.50 628.59) rotate(0.4)">Rapgef5</text>
<text transform="translate(470.50 632.96) rotate(0.4)">Mef2c</text>
<text transform="translate(470.50 637.33) rotate(0.4)">Cd34</text>
<text transform="translate(470.50 641.69) rotate(0.4)">Spi1</text>
<text transform="translate(470.50 646.06) rotate(0.4)">Cars4</text>
<text transform="translate(470.50 650.43) rotate(0.4)">Serpinf1</text>
<text transform="translate(470.50 654.80) rotate(0.4)">Fzd6</text>
<text transform="translate(470.50 659.17) rotate(0.4)">Zfhx3</text>
<text transform="translate(470.50 663.54) rotate(0.4)">Icam4</text>
<text transform="translate(470.50 667.91) rotate(0.4)">Stau2</text>
<text transform="translate(470.50 672.28) rotate(0.4)">Hlx</text>
<text transform="translate(470.50 676.65) rotate(0.4)">Mgll</text>
</g>
<path d="M310.9 679.1H468.0" stroke="#000" stroke-width="0.9" fill="none"/>
<path d="M310.9 678.65V682.3000000000001" stroke="#000" stroke-width="0.9" fill="none"/>
<path d="M355.0 678.65V682.3000000000001" stroke="#000" stroke-width="0.9" fill="none"/>
<path d="M410.8 678.65V682.3000000000001" stroke="#000" stroke-width="0.9" fill="none"/>
<path d="M468.0 678.65V682.3000000000001" stroke="#000" stroke-width="0.9" fill="none"/>
<g font-size="8.8" font-style="italic" fill="#111" stroke="#111" stroke-width="0.18">
<text x="328.70" y="693.2" textLength="10.0" lengthAdjust="spacingAndGlyphs">B6</text>
<text x="366.20" y="693.2" textLength="33.6" lengthAdjust="spacingAndGlyphs">Lmo2-tg</text>
<text x="420.90" y="693.2" textLength="37.4" lengthAdjust="spacingAndGlyphs">Rag1-Cre</text>
<text x="423.90" y="703.8000000000001" textLength="31.4" lengthAdjust="spacingAndGlyphs">Ldb1<tspan font-size="6.9" dy="-3.1" stroke-width="0.14">fl/fl</tspan><tspan dy="3.1">;</tspan></text>
<text x="422.80" y="714.4000000000001" textLength="33.6" lengthAdjust="spacingAndGlyphs">Lmo2-tg</text>
</g>
<path d="M0 0H520V727H0Z M1.35 1.1V725.3H518.65V1.1Z" fill="#000" fill-rule="evenodd"/>
</svg>
</body>
</html>
